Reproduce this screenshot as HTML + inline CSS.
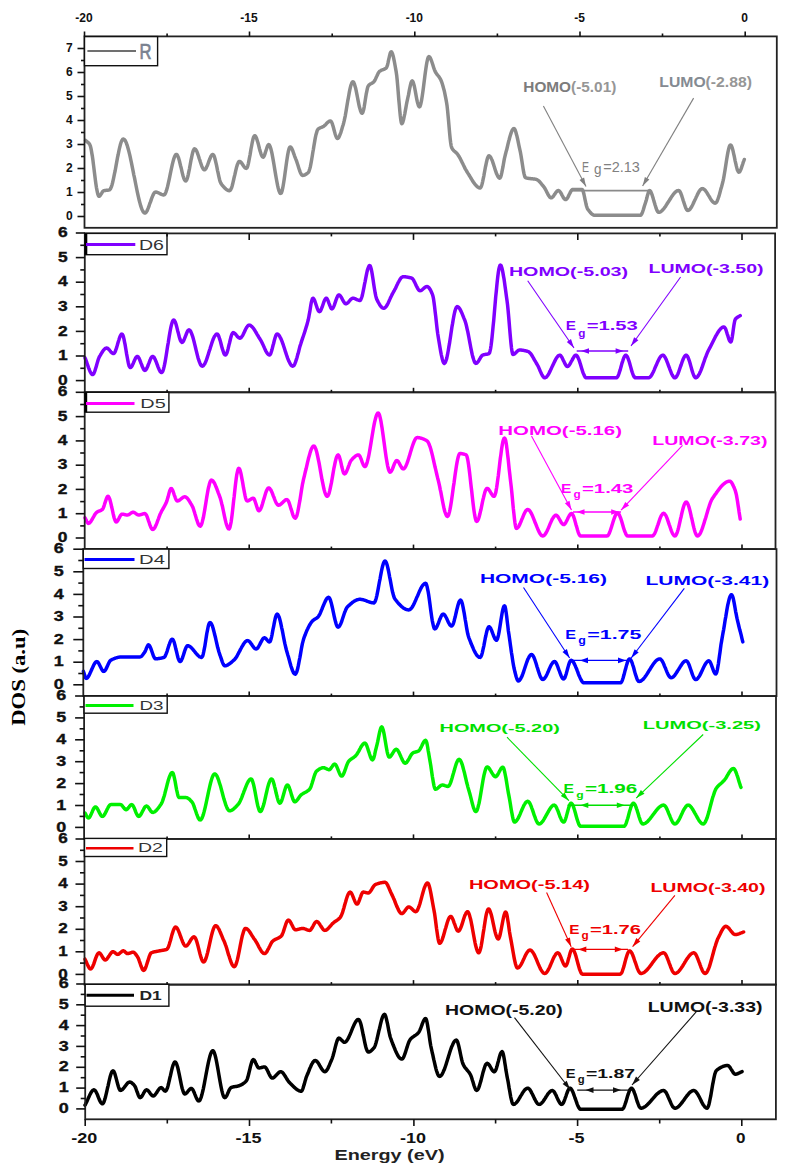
<!DOCTYPE html>
<html><head><meta charset="utf-8"><title>DOS</title>
<style>html,body{margin:0;padding:0;background:#fff;}body{width:787px;height:1170px;overflow:hidden;font-family:"Liberation Sans",sans-serif;}svg{display:block;}</style>
</head><body>
<svg width="787" height="1170" viewBox="0 0 787 1170">
<rect width="787" height="1170" fill="#fff"/>
<path d="M85.6,140.4L86.1,140.9 86.6,141.3 87.2,141.8 87.7,142.2 88.2,142.7 88.8,143.2 89.3,143.8 89.8,144.6 90.3,145.8 90.8,147.6 91.3,150.1 91.8,153.1 92.4,156.4 92.9,160.1 93.4,164.1 93.9,168.1 94.4,172.2 94.9,176.3 95.4,180.3 95.9,184.0 96.4,187.3 97.0,190.3 97.5,192.8 98.0,194.7 98.5,195.9 99.0,196.3 99.5,196.1 100.1,195.6 100.6,194.9 101.1,194.1 101.7,193.2 102.2,192.3 102.7,191.6 103.3,191.0 103.8,190.7 104.3,190.6 104.8,190.5 105.3,190.4 105.8,190.4 106.3,190.3 106.9,190.3 107.4,190.2 107.9,190.2 108.4,190.1 108.9,190.0 109.4,189.9 109.9,189.6 110.4,188.9 110.9,187.9 111.5,186.5 112.0,184.9 112.5,183.0 113.0,180.9 113.5,178.6 114.0,176.2 114.5,173.6 115.1,171.0 115.6,168.2 116.1,165.4 116.6,162.6 117.1,159.9 117.6,157.1 118.2,154.5 118.7,151.9 119.2,149.5 119.7,147.3 120.2,145.3 120.7,143.5 121.2,142.0 121.8,140.7 122.3,139.8 122.8,139.2 123.3,139.0 123.8,139.1 124.3,139.5 124.8,140.0 125.3,140.8 125.8,141.8 126.3,142.9 126.8,144.3 127.3,145.7 127.8,147.4 128.3,149.2 128.8,151.1 129.3,153.1 129.8,155.2 130.3,157.4 130.8,159.8 131.3,162.1 131.8,164.6 132.3,167.1 132.8,169.6 133.3,172.2 133.8,174.8 134.4,177.3 134.9,179.9 135.4,182.5 135.9,185.0 136.4,187.5 136.9,190.0 137.4,192.3 137.9,194.7 138.4,196.9 138.9,199.0 139.4,201.0 139.9,202.9 140.4,204.7 140.9,206.4 141.4,207.8 141.9,209.2 142.4,210.3 142.9,211.3 143.4,212.1 143.9,212.6 144.4,213.0 144.9,213.1 145.4,213.0 145.9,212.6 146.4,211.9 146.9,211.1 147.4,210.1 147.9,208.9 148.4,207.7 148.9,206.3 149.4,204.8 149.9,203.3 150.5,201.9 151.0,200.4 151.5,198.9 152.0,197.5 152.5,196.3 153.0,195.1 153.5,194.1 154.0,193.3 154.5,192.6 155.0,192.2 155.5,192.1 156.0,192.1 156.6,192.2 157.1,192.4 157.6,192.5 158.1,192.7 158.7,193.0 159.2,193.2 159.7,193.5 160.2,193.8 160.8,194.0 161.3,194.3 161.8,194.5 162.3,194.6 162.8,194.8 163.4,194.9 163.9,194.9 164.4,194.7 164.9,194.2 165.4,193.3 165.9,192.1 166.4,190.7 166.9,189.0 167.4,187.2 167.9,185.1 168.4,182.9 168.9,180.6 169.4,178.3 169.9,175.9 170.4,173.4 170.9,171.0 171.4,168.7 171.9,166.4 172.4,164.2 172.9,162.1 173.4,160.3 173.9,158.6 174.4,157.2 174.9,156.0 175.4,155.1 175.9,154.6 176.4,154.4 176.9,154.6 177.4,155.3 177.9,156.4 178.5,157.8 179.0,159.4 179.5,161.3 180.0,163.3 180.5,165.5 181.1,167.7 181.6,169.9 182.1,172.1 182.6,174.1 183.1,176.0 183.6,177.6 184.1,179.0 184.7,180.1 185.2,180.8 185.7,181.0 186.2,180.7 186.7,179.8 187.3,178.3 187.8,176.5 188.3,174.3 188.8,171.8 189.4,169.1 189.9,166.3 190.4,163.5 190.9,160.7 191.5,158.0 192.0,155.5 192.5,153.3 193.0,151.5 193.6,150.0 194.1,149.1 194.6,148.8 195.1,149.0 195.6,149.4 196.1,150.2 196.7,151.2 197.2,152.4 197.7,153.8 198.2,155.3 198.7,156.8 199.2,158.5 199.8,160.1 200.3,161.8 200.8,163.3 201.3,164.8 201.8,166.2 202.3,167.4 202.9,168.4 203.4,169.2 203.9,169.6 204.4,169.8 204.9,169.6 205.5,169.1 206.0,168.4 206.5,167.4 207.0,166.2 207.6,164.9 208.1,163.5 208.6,162.1 209.1,160.7 209.7,159.3 210.2,158.0 210.7,156.8 211.2,155.8 211.8,155.1 212.3,154.6 212.8,154.4 213.3,154.7 213.9,155.5 214.4,156.8 214.9,158.5 215.4,160.5 215.9,162.7 216.5,165.2 217.0,167.7 217.5,170.3 218.1,172.9 218.6,175.3 219.1,177.6 219.6,179.7 220.1,181.5 220.7,182.9 221.2,183.8 221.7,184.5 222.2,185.2 222.8,185.8 223.3,186.4 223.8,187.1 224.3,187.6 224.9,188.2 225.4,188.6 225.9,189.1 226.4,189.5 227.0,189.9 227.5,190.1 228.0,190.4 228.5,190.6 229.1,190.7 229.6,190.7 230.1,190.5 230.6,189.8 231.1,188.7 231.7,187.4 232.2,185.7 232.7,183.8 233.2,181.7 233.7,179.5 234.2,177.2 234.8,174.9 235.3,172.6 235.8,170.4 236.3,168.3 236.8,166.4 237.3,164.7 237.9,163.4 238.4,162.3 238.9,161.6 239.4,161.4 239.9,161.5 240.5,161.8 241.0,162.3 241.5,163.0 242.1,163.7 242.6,164.5 243.1,165.3 243.6,166.1 244.2,166.8 244.7,167.5 245.2,168.0 245.8,168.3 246.3,168.4 246.8,168.0 247.4,167.0 247.9,165.4 248.4,163.3 248.9,160.8 249.4,158.1 250.0,155.1 250.5,152.1 251.0,149.0 251.6,146.0 252.1,143.3 252.6,140.8 253.1,138.7 253.6,137.1 254.2,136.1 254.7,135.7 255.2,135.9 255.8,136.6 256.3,137.7 256.8,139.1 257.3,140.7 257.9,142.5 258.4,144.4 258.9,146.4 259.4,148.5 259.9,150.4 260.5,152.2 261.0,153.8 261.5,155.2 262.1,156.3 262.6,157.0 263.1,157.2 263.6,156.9 264.1,156.1 264.6,154.9 265.1,153.4 265.6,151.8 266.2,150.0 266.7,148.4 267.2,146.9 267.7,145.7 268.2,144.9 268.7,144.6 269.2,144.8 269.7,145.6 270.2,146.7 270.7,148.2 271.2,150.1 271.7,152.2 272.2,154.7 272.7,157.3 273.2,160.1 273.7,163.0 274.2,166.0 274.7,169.1 275.2,172.1 275.7,175.1 276.2,178.0 276.7,180.8 277.2,183.4 277.7,185.9 278.2,188.0 278.7,189.9 279.2,191.4 279.7,192.5 280.2,193.3 280.7,193.5 281.2,193.1 281.7,192.1 282.2,190.4 282.7,188.2 283.2,185.5 283.7,182.5 284.2,179.2 284.7,175.7 285.2,172.0 285.7,168.4 286.2,164.7 286.7,161.2 287.2,157.9 287.7,154.9 288.2,152.2 288.7,150.0 289.2,148.3 289.7,147.3 290.2,146.9 290.7,147.1 291.3,147.7 291.8,148.7 292.4,149.8 292.9,151.2 293.4,152.7 294.0,154.3 294.5,155.8 295.1,157.3 295.6,158.6 296.1,159.8 296.6,161.2 297.1,162.7 297.6,164.2 298.1,165.8 298.6,167.4 299.1,169.0 299.6,170.5 300.1,171.8 300.6,173.0 301.1,174.0 301.6,174.7 302.1,175.2 302.6,175.4 303.1,175.4 303.6,175.3 304.1,175.1 304.6,175.0 305.1,174.7 305.7,174.4 306.2,174.1 306.7,173.8 307.2,173.4 307.7,173.0 308.2,172.6 308.7,171.9 309.2,170.6 309.7,169.0 310.3,166.9 310.8,164.4 311.3,161.7 311.8,158.8 312.3,155.7 312.8,152.5 313.4,149.3 313.9,146.1 314.4,143.1 314.9,140.1 315.4,137.4 315.9,135.0 316.5,132.9 317.0,131.2 317.5,129.9 318.0,129.2 318.5,128.8 319.0,128.5 319.5,128.2 320.0,128.0 320.5,127.7 321.0,127.5 321.5,127.3 322.0,127.1 322.5,126.9 323.0,126.7 323.5,126.4 324.0,126.1 324.5,125.6 325.0,125.2 325.5,124.7 326.0,124.2 326.5,123.6 327.0,123.1 327.5,122.6 328.0,122.2 328.5,121.7 329.0,121.4 329.5,121.1 330.0,121.0 330.5,120.9 331.0,121.2 331.5,121.9 332.0,123.0 332.5,124.4 333.0,126.0 333.5,127.8 334.0,129.7 334.5,131.6 335.0,133.4 335.5,135.0 336.0,136.4 336.5,137.5 337.0,138.2 337.5,138.5 338.0,138.3 338.5,137.8 339.0,137.0 339.5,135.9 340.0,134.6 340.6,133.1 341.1,131.6 341.6,129.9 342.1,128.2 342.6,126.6 343.1,125.0 343.6,123.2 344.1,121.2 344.6,118.8 345.2,116.1 345.7,113.3 346.2,110.4 346.7,107.3 347.2,104.2 347.7,101.2 348.3,98.1 348.8,95.2 349.3,92.4 349.8,89.9 350.3,87.6 350.8,85.6 351.4,84.0 351.9,82.7 352.4,82.0 352.9,81.7 353.4,82.0 353.9,82.8 354.4,84.0 354.9,85.7 355.5,87.7 356.0,89.9 356.5,92.3 357.0,94.9 357.5,97.5 358.0,100.1 358.5,102.7 359.0,105.1 359.5,107.3 360.1,109.3 360.6,111.0 361.1,112.2 361.6,113.0 362.1,113.3 362.6,112.8 363.1,111.5 363.7,109.4 364.2,106.8 364.7,103.8 365.2,100.6 365.7,97.3 366.2,94.2 366.8,91.3 367.3,88.8 367.8,87.0 368.3,85.9 368.8,85.3 369.3,84.8 369.8,84.4 370.3,84.1 370.8,83.8 371.4,83.5 371.9,83.2 372.4,82.9 372.9,82.6 373.4,82.2 373.9,81.7 374.4,81.0 374.9,80.2 375.4,79.2 375.9,78.1 376.4,77.0 377.0,75.8 377.5,74.7 378.0,73.6 378.5,72.7 379.0,72.0 379.5,71.4 380.0,71.0 380.6,70.7 381.1,70.4 381.6,70.1 382.2,69.9 382.7,69.7 383.2,69.6 383.7,69.4 384.3,69.1 384.8,68.9 385.3,68.6 385.9,68.2 386.4,67.7 386.9,66.7 387.5,65.1 388.0,62.9 388.5,60.4 389.1,57.9 389.6,55.6 390.1,53.6 390.7,52.3 391.2,51.8 391.7,52.1 392.2,53.0 392.7,54.4 393.2,56.2 393.7,58.4 394.2,60.8 394.7,63.5 395.2,66.2 395.7,69.1 396.2,71.9 396.7,75.4 397.2,80.2 397.7,85.9 398.2,92.1 398.7,98.5 399.3,104.8 399.8,110.8 400.3,115.9 400.8,120.0 401.3,122.7 401.8,123.7 402.3,123.3 402.8,122.2 403.3,120.6 403.8,118.5 404.3,116.0 404.9,113.3 405.4,110.4 405.9,107.6 406.4,104.8 406.9,102.2 407.4,99.9 407.9,97.5 408.5,94.9 409.0,92.1 409.5,89.3 410.1,86.7 410.6,84.4 411.1,82.5 411.7,81.3 412.2,80.9 412.7,81.3 413.2,82.3 413.7,84.0 414.3,86.1 414.8,88.5 415.3,91.1 415.8,93.9 416.3,96.7 416.8,99.3 417.3,101.7 417.9,103.8 418.4,105.5 418.9,106.5 419.4,106.9 419.9,106.5 420.4,105.3 420.9,103.5 421.4,101.2 421.9,98.3 422.4,95.0 422.9,91.4 423.4,87.7 423.9,83.7 424.4,79.8 424.9,75.8 425.4,72.1 425.9,68.5 426.4,65.2 426.9,62.3 427.4,60.0 427.9,58.2 428.4,57.0 428.9,56.6 429.4,56.8 429.9,57.3 430.4,58.2 430.9,59.3 431.4,60.6 431.9,62.0 432.4,63.5 432.9,65.1 433.4,66.7 433.9,68.2 434.4,69.6 434.9,70.9 435.4,71.9 435.9,72.8 436.4,73.5 436.9,74.2 437.4,74.9 437.9,75.5 438.5,76.2 439.0,76.8 439.5,77.6 440.0,78.4 440.5,79.3 441.0,80.3 441.5,81.5 442.0,82.9 442.5,84.5 443.0,86.2 443.5,88.1 444.1,90.2 444.6,92.4 445.1,94.8 445.6,97.3 446.1,99.9 446.6,102.7 447.1,106.1 447.6,110.6 448.1,115.8 448.6,121.4 449.1,127.2 449.6,132.8 450.1,138.0 450.6,142.3 451.1,145.6 451.6,147.4 452.1,148.4 452.6,149.2 453.1,149.9 453.6,150.5 454.1,151.0 454.6,151.4 455.2,151.9 455.7,152.3 456.2,152.7 456.7,153.2 457.2,153.7 457.7,154.4 458.2,155.2 458.7,156.0 459.2,156.8 459.8,157.8 460.3,158.7 460.8,159.7 461.3,160.7 461.8,161.8 462.3,162.9 462.9,163.9 463.4,165.0 463.9,166.0 464.4,167.1 464.9,168.1 465.4,169.1 466.0,170.0 466.5,170.9 467.0,171.8 467.5,172.6 468.0,173.4 468.5,174.1 469.0,175.0 469.5,175.8 470.0,176.6 470.5,177.4 471.0,178.3 471.5,179.1 472.0,179.9 472.5,180.7 473.0,181.5 473.5,182.3 474.1,183.0 474.6,183.7 475.1,184.4 475.6,185.0 476.1,185.6 476.6,186.1 477.1,186.6 477.6,187.0 478.1,187.3 478.6,187.6 479.1,187.8 479.6,188.0 480.1,188.0 480.6,187.7 481.1,186.8 481.7,185.3 482.2,183.5 482.7,181.3 483.2,178.8 483.8,176.1 484.3,173.3 484.8,170.5 485.3,167.7 485.9,165.0 486.4,162.5 486.9,160.3 487.4,158.5 488.0,157.0 488.5,156.1 489.0,155.8 489.5,155.9 490.0,156.4 490.5,157.0 491.0,157.9 491.5,159.0 492.1,160.2 492.6,161.6 493.1,163.1 493.6,164.6 494.1,166.2 494.6,167.8 495.1,169.4 495.6,170.9 496.1,172.4 496.6,173.8 497.2,175.0 497.7,176.1 498.2,177.0 498.7,177.6 499.2,178.1 499.7,178.2 500.2,177.8 500.8,176.6 501.3,174.9 501.8,172.7 502.3,170.1 502.9,167.2 503.4,164.3 503.9,161.4 504.4,158.6 505.0,156.1 505.5,154.0 506.0,152.1 506.6,150.1 507.1,148.0 507.6,145.8 508.1,143.7 508.6,141.6 509.2,139.5 509.7,137.5 510.2,135.7 510.8,133.9 511.3,132.4 511.8,131.1 512.3,130.0 512.9,129.2 513.4,128.7 513.9,128.5 514.4,128.8 514.9,129.5 515.4,130.7 515.9,132.3 516.4,134.2 517.0,136.3 517.5,138.5 518.0,140.9 518.5,143.4 519.0,145.8 519.5,148.2 520.0,150.4 520.5,152.7 521.0,155.5 521.5,158.6 522.0,161.8 522.5,165.1 523.0,168.2 523.5,171.1 524.0,173.7 524.5,175.7 525.0,177.1 525.5,177.7 526.0,177.9 526.5,178.0 527.0,178.1 527.5,178.2 528.0,178.3 528.5,178.4 529.0,178.5 529.5,178.5 530.0,178.6 530.5,178.6 531.0,178.7 531.5,178.7 532.0,178.8 532.5,178.8 533.0,178.9 533.5,178.9 534.0,179.0 534.5,179.1 535.0,179.1 535.5,179.2 536.0,179.4 536.5,179.5 537.0,179.7 537.5,180.0 538.1,180.3 538.6,180.8 539.1,181.2 539.6,181.8 540.1,182.3 540.7,182.9 541.2,183.6 541.7,184.2 542.2,184.9 542.8,185.5 543.3,186.2 543.8,186.8 544.3,187.5 544.8,188.3 545.4,189.3 545.9,190.3 546.4,191.3 546.9,192.4 547.5,193.4 548.0,194.4 548.5,195.3 549.0,196.1 549.5,196.8 550.1,197.3 550.6,197.7 551.1,197.8 551.6,197.7 552.1,197.4 552.7,196.9 553.2,196.4 553.7,195.7 554.2,194.9 554.8,194.2 555.3,193.4 555.8,192.6 556.3,191.9 556.8,191.4 557.4,190.9 557.9,190.6 558.4,190.5 558.9,190.6 559.4,191.0 559.9,191.6 560.5,192.3 561.0,193.2 561.5,194.1 562.0,195.1 562.5,196.0 563.0,196.9 563.5,197.8 564.1,198.5 564.6,199.1 565.1,199.5 565.6,199.6 566.1,199.5 566.6,199.0 567.2,198.4 567.7,197.6 568.2,196.6 568.7,195.6 569.2,194.5 569.8,193.4 570.3,192.4 570.8,191.4 571.3,190.6 571.9,190.0 572.4,189.5 572.9,189.4 573.4,189.4 573.9,189.4 574.4,189.4 574.9,189.4 575.4,189.4 575.9,189.4 576.4,189.4 576.9,189.4 577.5,189.4 578.0,189.4 578.5,189.4 579.0,189.4 579.5,189.4 580.0,189.4 580.5,189.4 581.0,189.4 581.5,189.4 582.0,189.4 582.5,189.8 583.0,190.9 583.5,192.5 584.0,194.5 584.5,196.8 585.0,199.3 585.5,201.7 586.0,204.0 586.5,206.0 587.0,207.6 587.5,208.7 588.0,209.5 588.5,210.2 589.1,210.9 589.6,211.6 590.1,212.2 590.6,212.8 591.1,213.3 591.7,213.8 592.2,214.3 592.7,214.6 593.2,214.9 593.8,215.1 594.3,215.3 594.8,215.3 595.3,215.3 595.8,215.3 596.3,215.3 596.8,215.3 597.3,215.3 597.8,215.3 598.3,215.3 598.8,215.3 599.3,215.3 599.8,215.3 600.3,215.3 600.8,215.3 601.3,215.3 601.8,215.3 602.3,215.3 602.8,215.3 603.3,215.3 603.8,215.3 604.3,215.3 604.8,215.3 605.3,215.3 605.8,215.3 606.3,215.3 606.8,215.3 607.3,215.3 607.8,215.3 608.3,215.3 608.8,215.3 609.3,215.3 609.8,215.3 610.3,215.3 610.8,215.3 611.3,215.3 611.8,215.3 612.3,215.3 612.8,215.3 613.3,215.3 613.8,215.3 614.3,215.3 614.8,215.3 615.3,215.3 615.8,215.3 616.3,215.3 616.8,215.3 617.3,215.3 617.9,215.3 618.4,215.3 618.9,215.3 619.4,215.3 619.9,215.3 620.4,215.3 620.9,215.3 621.4,215.3 621.9,215.3 622.4,215.3 622.9,215.3 623.4,215.3 623.9,215.3 624.4,215.3 624.9,215.3 625.4,215.3 625.9,215.3 626.4,215.3 626.9,215.3 627.4,215.3 627.9,215.3 628.4,215.3 628.9,215.3 629.4,215.3 629.9,215.3 630.4,215.3 630.9,215.3 631.4,215.3 631.9,215.3 632.4,215.3 632.9,215.3 633.4,215.3 633.9,215.3 634.4,215.3 634.9,215.3 635.4,215.3 635.9,215.3 636.4,215.3 636.9,215.3 637.4,215.3 637.9,215.3 638.4,215.3 638.9,215.3 639.4,215.3 639.9,215.3 640.4,215.3 640.9,215.1 641.4,214.5 641.9,213.6 642.4,212.4 642.9,211.0 643.4,209.5 643.9,207.8 644.4,206.1 644.9,204.5 645.4,202.9 645.9,201.4 646.4,199.7 646.9,197.8 647.4,195.7 648.0,193.7 648.5,192.1 649.0,190.9 649.5,190.5 650.0,190.7 650.5,191.2 651.0,192.1 651.5,193.3 652.0,194.6 652.5,196.2 653.0,197.8 653.5,199.6 654.0,201.4 654.6,203.2 655.1,205.0 655.6,206.6 656.1,208.2 656.6,209.5 657.1,210.7 657.6,211.6 658.1,212.1 658.6,212.3 659.1,212.3 659.6,212.1 660.1,212.0 660.6,211.7 661.1,211.4 661.6,211.0 662.1,210.5 662.6,210.0 663.1,209.5 663.6,208.9 664.1,208.3 664.6,207.6 665.1,206.9 665.6,206.2 666.1,205.4 666.6,204.6 667.1,203.8 667.6,203.0 668.1,202.2 668.7,201.4 669.2,200.6 669.7,199.8 670.2,199.0 670.7,198.2 671.2,197.4 671.7,196.6 672.2,195.9 672.7,195.2 673.2,194.5 673.7,193.9 674.2,193.3 674.7,192.8 675.2,192.3 675.7,191.8 676.2,191.4 676.7,191.1 677.2,190.8 677.7,190.7 678.2,190.5 678.7,190.5 679.2,190.7 679.7,191.2 680.2,192.0 680.7,193.0 681.2,194.3 681.7,195.7 682.2,197.2 682.7,198.8 683.2,200.5 683.8,202.2 684.3,203.8 684.8,205.3 685.3,206.7 685.8,208.0 686.3,209.0 686.8,209.8 687.3,210.3 687.8,210.5 688.3,210.4 688.8,210.2 689.3,209.8 689.8,209.4 690.3,208.8 690.8,208.1 691.3,207.3 691.8,206.4 692.3,205.5 692.8,204.5 693.3,203.4 693.8,202.4 694.3,201.2 694.8,200.1 695.4,199.0 695.9,197.9 696.4,196.7 696.9,195.7 697.4,194.6 697.9,193.6 698.4,192.7 698.9,191.8 699.4,191.0 699.9,190.3 700.4,189.7 700.9,189.3 701.4,188.9 701.9,188.7 702.4,188.6 702.9,188.7 703.4,188.9 703.9,189.2 704.4,189.6 705.0,190.1 705.5,190.7 706.0,191.4 706.5,192.1 707.0,192.9 707.5,193.7 708.0,194.6 708.5,195.5 709.1,196.3 709.6,197.2 710.1,198.1 710.6,198.9 711.1,199.7 711.6,200.4 712.1,201.1 712.6,201.7 713.2,202.2 713.7,202.6 714.2,202.9 714.7,203.1 715.2,203.2 715.7,203.0 716.2,202.5 716.8,201.8 717.3,200.7 717.8,199.4 718.3,198.0 718.9,196.4 719.4,194.6 719.9,192.8 720.4,190.9 720.9,188.9 721.5,187.0 722.0,185.1 722.5,183.2 723.0,181.2 723.5,178.9 724.0,176.2 724.5,173.3 725.0,170.2 725.5,167.0 726.0,163.8 726.5,160.6 727.0,157.5 727.5,154.6 728.0,151.9 728.5,149.6 729.0,147.6 729.5,146.2 730.0,145.2 730.5,144.9 731.0,145.2 731.5,146.1 732.1,147.4 732.6,149.2 733.1,151.2 733.6,153.5 734.2,156.0 734.7,158.6 735.2,161.1 735.8,163.6 736.3,165.9 736.8,167.9 737.3,169.7 737.9,171.0 738.4,171.9 738.9,172.2 739.4,172.0 740.0,171.3 740.5,170.3 741.1,168.9 741.6,167.4 742.1,165.8 742.7,164.1 743.2,162.4 743.8,160.9 744.3,159.5" fill="none" stroke="#8c8c8c" stroke-width="3.5" stroke-linejoin="round" stroke-linecap="round"/>
<path d="M85.0,357.8L85.5,359.0 86.0,360.3 86.5,361.7 87.0,363.2 87.5,364.6 88.0,366.1 88.5,367.6 89.1,369.0 89.6,370.3 90.1,371.5 90.6,372.5 91.1,373.4 91.6,374.0 92.1,374.5 92.6,374.6 93.1,374.4 93.6,373.8 94.1,372.9 94.6,371.7 95.1,370.2 95.6,368.6 96.1,366.9 96.6,365.2 97.1,363.4 97.6,361.7 98.1,360.1 98.6,358.6 99.1,357.4 99.6,356.4 100.1,355.6 100.6,354.7 101.1,353.9 101.6,353.1 102.1,352.3 102.6,351.5 103.1,350.8 103.6,350.1 104.1,349.5 104.6,349.0 105.1,348.6 105.6,348.3 106.1,348.1 106.6,348.0 107.1,348.1 107.7,348.4 108.2,348.8 108.7,349.3 109.3,349.8 109.8,350.5 110.3,351.1 110.8,351.8 111.4,352.3 111.9,352.8 112.4,353.2 113.0,353.5 113.5,353.6 114.0,353.4 114.5,352.8 115.1,351.8 115.6,350.5 116.1,349.1 116.7,347.4 117.2,345.6 117.7,343.8 118.2,342.0 118.8,340.2 119.3,338.5 119.8,337.1 120.3,335.8 120.9,334.8 121.4,334.2 121.9,334.0 122.4,334.4 123.0,335.4 123.5,337.1 124.0,339.2 124.5,341.8 125.1,344.6 125.6,347.7 126.1,350.8 126.6,353.9 127.2,357.0 127.7,359.8 128.2,362.4 128.7,364.5 129.2,366.2 129.8,367.2 130.3,367.6 130.8,367.4 131.3,367.0 131.8,366.3 132.3,365.4 132.8,364.3 133.3,363.2 133.8,362.0 134.3,360.8 134.8,359.7 135.3,358.6 135.8,357.7 136.3,357.0 136.8,356.6 137.3,356.4 137.8,356.6 138.3,357.1 138.8,357.9 139.3,358.9 139.8,360.0 140.3,361.3 140.8,362.7 141.4,364.1 141.9,365.5 142.4,366.8 142.9,367.9 143.4,368.9 143.9,369.7 144.4,370.2 144.9,370.4 145.4,370.2 145.9,369.7 146.5,368.9 147.0,367.9 147.5,366.8 148.0,365.5 148.5,364.1 149.1,362.7 149.6,361.3 150.1,360.0 150.6,358.9 151.1,357.9 151.7,357.1 152.2,356.6 152.7,356.4 153.2,356.6 153.7,357.0 154.3,357.7 154.8,358.7 155.3,359.8 155.8,361.0 156.4,362.4 156.9,363.8 157.4,365.2 157.9,366.6 158.5,368.0 159.0,369.2 159.5,370.3 160.0,371.3 160.6,372.0 161.1,372.4 161.6,372.6 162.1,372.3 162.6,371.6 163.1,370.3 163.6,368.7 164.1,366.7 164.6,364.4 165.1,361.8 165.6,359.0 166.1,356.0 166.6,352.8 167.1,349.6 167.6,346.3 168.2,343.0 168.7,339.8 169.2,336.6 169.7,333.6 170.2,330.8 170.7,328.2 171.2,325.9 171.7,323.9 172.2,322.3 172.7,321.0 173.2,320.3 173.7,320.0 174.2,320.3 174.7,321.0 175.3,322.1 175.8,323.5 176.3,325.2 176.8,327.1 177.3,329.1 177.8,331.2 178.4,333.3 178.9,335.3 179.4,337.2 179.9,338.9 180.4,340.3 181.0,341.4 181.5,342.1 182.0,342.4 182.5,342.2 183.0,341.7 183.5,340.9 184.0,339.9 184.5,338.7 185.0,337.4 185.5,336.1 186.0,334.8 186.5,333.5 187.0,332.3 187.5,331.3 188.0,330.5 188.5,330.0 189.0,329.8 189.5,330.0 190.0,330.4 190.5,331.1 191.0,332.1 191.5,333.3 192.0,334.7 192.6,336.3 193.1,338.0 193.6,339.9 194.1,341.8 194.6,343.8 195.1,345.9 195.6,348.0 196.1,350.1 196.6,352.2 197.1,354.2 197.6,356.1 198.1,358.0 198.6,359.7 199.2,361.3 199.7,362.7 200.2,363.9 200.7,364.9 201.2,365.6 201.7,366.0 202.2,366.2 202.7,366.1 203.2,365.8 203.7,365.2 204.2,364.5 204.8,363.7 205.3,362.6 205.8,361.5 206.3,360.2 206.8,358.8 207.3,357.4 207.8,355.8 208.3,354.2 208.8,352.6 209.3,350.9 209.9,349.3 210.4,347.6 210.9,346.0 211.4,344.4 211.9,342.8 212.4,341.4 212.9,340.0 213.4,338.7 213.9,337.6 214.4,336.5 215.0,335.7 215.5,335.0 216.0,334.4 216.5,334.1 217.0,334.0 217.5,334.2 218.1,334.9 218.6,335.9 219.1,337.3 219.6,338.9 220.2,340.6 220.7,342.5 221.2,344.5 221.7,346.5 222.2,348.4 222.8,350.1 223.3,351.7 223.8,353.1 224.3,354.1 224.9,354.8 225.4,355.0 225.9,354.7 226.4,353.9 227.0,352.7 227.5,351.1 228.0,349.2 228.5,347.1 229.0,344.9 229.6,342.7 230.1,340.5 230.6,338.4 231.1,336.5 231.6,334.9 232.2,333.7 232.7,332.9 233.2,332.6 233.7,332.7 234.2,333.0 234.7,333.4 235.3,333.9 235.8,334.4 236.3,335.1 236.8,335.7 237.3,336.4 237.8,336.9 238.4,337.4 238.9,337.8 239.4,338.1 239.9,338.2 240.4,338.1 240.9,337.8 241.4,337.2 241.9,336.5 242.5,335.7 243.0,334.8 243.5,333.8 244.0,332.7 244.5,331.6 245.0,330.6 245.5,329.5 246.0,328.5 246.5,327.6 247.1,326.8 247.6,326.1 248.1,325.5 248.6,325.2 249.1,325.1 249.6,325.2 250.1,325.3 250.6,325.6 251.1,325.9 251.6,326.4 252.2,326.9 252.7,327.4 253.2,328.1 253.7,328.8 254.2,329.5 254.7,330.3 255.2,331.1 255.7,332.0 256.2,332.8 256.7,333.7 257.2,334.6 257.8,335.5 258.3,336.3 258.8,337.2 259.3,338.0 259.8,338.8 260.3,339.6 260.8,340.4 261.3,341.3 261.8,342.3 262.3,343.4 262.9,344.5 263.4,345.6 263.9,346.7 264.4,347.9 264.9,349.0 265.4,350.1 265.9,351.1 266.4,352.0 266.9,352.8 267.5,353.6 268.0,354.2 268.5,354.6 269.0,354.9 269.5,355.0 270.0,354.7 270.5,354.0 271.0,352.8 271.5,351.3 272.0,349.6 272.5,347.6 273.0,345.5 273.6,343.5 274.1,341.4 274.6,339.4 275.1,337.7 275.6,336.2 276.1,335.0 276.6,334.3 277.1,334.0 277.6,334.1 278.1,334.4 278.6,334.8 279.1,335.5 279.6,336.2 280.1,337.2 280.6,338.2 281.2,339.3 281.7,340.6 282.2,341.9 282.7,343.3 283.2,344.7 283.7,346.2 284.2,347.8 284.7,349.3 285.2,350.9 285.7,352.4 286.2,354.0 286.7,355.5 287.2,356.9 287.7,358.3 288.2,359.6 288.7,360.9 289.3,362.0 289.8,363.0 290.3,364.0 290.8,364.7 291.3,365.4 291.8,365.8 292.3,366.1 292.8,366.2 293.3,366.0 293.9,365.5 294.4,364.7 294.9,363.7 295.4,362.4 295.9,360.9 296.5,359.2 297.0,357.5 297.5,355.6 298.1,353.6 298.6,351.7 299.1,349.7 299.6,347.7 300.1,345.8 300.7,344.1 301.2,342.4 301.7,340.9 302.2,339.4 302.7,337.9 303.2,336.5 303.7,335.0 304.2,333.5 304.7,331.9 305.2,330.4 305.7,328.8 306.2,327.1 306.7,325.4 307.2,323.7 307.7,321.9 308.2,320.0 308.7,317.7 309.2,314.8 309.8,311.7 310.3,308.4 310.8,305.3 311.3,302.5 311.9,300.3 312.4,298.7 312.9,298.2 313.4,298.4 313.9,299.1 314.4,300.0 314.9,301.2 315.4,302.7 315.9,304.2 316.4,305.7 316.9,307.2 317.4,308.7 317.9,309.9 318.4,310.8 318.9,311.5 319.4,311.7 319.9,311.5 320.5,310.8 321.0,309.9 321.5,308.7 322.1,307.2 322.6,305.7 323.1,304.2 323.6,302.7 324.2,301.2 324.7,300.0 325.2,299.1 325.8,298.4 326.3,298.2 326.8,298.4 327.3,299.1 327.8,300.2 328.3,301.4 328.8,302.8 329.4,304.3 329.9,305.7 330.4,306.9 330.9,308.0 331.4,308.7 331.9,308.9 332.4,308.7 332.9,308.1 333.4,307.2 333.9,306.1 334.4,304.8 334.9,303.4 335.4,301.9 335.9,300.4 336.4,299.0 336.9,297.7 337.4,296.6 337.9,295.7 338.4,295.1 338.9,294.9 339.4,295.0 339.9,295.4 340.4,296.0 340.9,296.7 341.4,297.5 341.9,298.4 342.4,299.4 342.9,300.3 343.4,301.2 343.9,302.0 344.4,302.7 344.9,303.3 345.4,303.7 345.9,303.8 346.4,303.7 346.9,303.5 347.4,303.1 347.9,302.7 348.4,302.2 348.9,301.6 349.4,301.0 349.9,300.4 350.4,299.8 350.9,299.3 351.4,298.9 351.9,298.5 352.4,298.3 352.9,298.2 353.4,298.2 353.9,298.3 354.4,298.5 354.9,298.7 355.4,298.9 355.9,299.1 356.4,299.4 356.9,299.6 357.4,299.8 357.9,300.0 358.4,300.2 358.9,300.4 359.4,300.5 359.9,300.5 360.4,300.2 360.9,299.4 361.4,298.2 362.0,296.5 362.5,294.5 363.0,292.2 363.5,289.7 364.0,287.1 364.5,284.4 365.1,281.6 365.6,278.9 366.1,276.3 366.6,273.8 367.1,271.5 367.6,269.5 368.2,267.8 368.7,266.6 369.2,265.8 369.7,265.5 370.2,265.9 370.7,267.1 371.2,268.9 371.7,271.3 372.2,274.1 372.7,277.2 373.2,280.5 373.7,283.9 374.2,287.2 374.7,290.3 375.2,293.2 375.7,295.7 376.2,297.7 376.7,299.1 377.2,300.1 377.7,301.1 378.2,302.1 378.7,303.0 379.2,303.9 379.7,304.7 380.2,305.5 380.7,306.2 381.2,306.8 381.7,307.3 382.2,307.7 382.7,308.0 383.2,308.2 383.7,308.3 384.2,308.2 384.7,308.0 385.2,307.5 385.7,307.0 386.3,306.3 386.8,305.5 387.3,304.7 387.8,303.7 388.3,302.7 388.8,301.6 389.3,300.5 389.8,299.4 390.3,298.2 390.8,297.1 391.4,296.0 391.9,294.9 392.4,293.9 392.9,293.0 393.4,292.1 393.9,291.2 394.4,290.3 394.9,289.3 395.5,288.3 396.0,287.2 396.5,286.1 397.0,285.0 397.5,284.0 398.0,282.9 398.6,281.9 399.1,281.0 399.6,280.1 400.1,279.3 400.6,278.5 401.1,277.9 401.7,277.4 402.2,277.0 402.7,276.8 403.2,276.7 403.7,276.7 404.2,276.7 404.8,276.8 405.3,276.8 405.8,276.9 406.4,276.9 406.9,277.0 407.4,277.1 407.9,277.2 408.4,277.3 409.0,277.4 409.5,277.5 410.0,277.7 410.6,277.8 411.1,277.9 411.6,278.1 412.1,278.4 412.7,278.9 413.2,279.6 413.7,280.4 414.2,281.4 414.8,282.5 415.3,283.6 415.8,284.7 416.3,285.8 416.9,286.9 417.4,287.9 417.9,288.8 418.4,289.6 418.9,290.2 419.5,290.6 420.0,290.7 420.5,290.6 421.0,290.5 421.5,290.2 422.0,289.9 422.5,289.5 423.0,289.0 423.5,288.6 424.0,288.2 424.5,287.7 425.0,287.3 425.5,287.0 426.0,286.7 426.5,286.6 427.0,286.5 427.5,286.6 428.0,286.9 428.5,287.3 429.0,287.8 429.5,288.6 430.1,289.4 430.6,290.3 431.1,291.3 431.6,292.5 432.1,293.7 432.6,294.9 433.1,296.7 433.6,299.4 434.1,302.9 434.6,306.9 435.1,311.4 435.7,316.1 436.2,320.8 436.7,325.4 437.2,329.8 437.7,333.6 438.2,336.8 438.7,339.7 439.2,342.7 439.7,345.7 440.2,348.7 440.7,351.6 441.2,354.3 441.8,356.8 442.3,359.0 442.8,360.8 443.3,362.2 443.8,363.1 444.3,363.4 444.8,363.1 445.3,362.4 445.8,361.1 446.4,359.5 446.9,357.5 447.4,355.2 447.9,352.5 448.4,349.7 448.9,346.6 449.5,343.4 450.0,340.1 450.5,336.7 451.0,333.3 451.5,329.9 452.0,326.6 452.6,323.4 453.1,320.3 453.6,317.5 454.1,314.8 454.6,312.5 455.1,310.5 455.7,308.9 456.2,307.6 456.7,306.9 457.2,306.6 457.7,306.7 458.2,307.0 458.7,307.4 459.2,308.0 459.7,308.7 460.2,309.6 460.7,310.6 461.2,311.6 461.7,312.7 462.2,313.9 462.7,315.1 463.2,316.3 463.7,317.6 464.2,318.8 464.7,320.0 465.2,321.4 465.7,323.0 466.2,324.9 466.7,327.0 467.2,329.3 467.8,331.8 468.3,334.3 468.8,337.0 469.3,339.7 469.8,342.4 470.3,345.0 470.8,347.7 471.3,350.2 471.8,352.6 472.3,354.9 472.8,356.9 473.4,358.8 473.9,360.3 474.4,361.6 474.9,362.6 475.4,363.2 475.9,363.4 476.4,363.3 476.9,363.0 477.4,362.5 477.9,361.9 478.4,361.2 478.9,360.4 479.4,359.5 479.9,358.7 480.4,357.8 480.9,357.1 481.4,356.3 481.9,355.7 482.4,355.3 482.9,355.0 483.4,354.8 483.9,354.7 484.4,354.6 484.9,354.5 485.4,354.4 485.9,354.3 486.5,354.2 487.0,354.2 487.5,354.1 488.0,353.9 488.5,353.8 489.0,353.6 489.5,352.9 490.0,351.2 490.6,348.6 491.1,345.3 491.6,341.3 492.1,336.8 492.6,331.7 493.1,326.3 493.7,320.6 494.2,314.7 494.7,308.7 495.2,302.8 495.7,296.9 496.3,291.2 496.8,285.9 497.3,280.9 497.8,276.5 498.3,272.6 498.8,269.4 499.4,267.0 499.9,265.5 500.4,265.0 500.9,265.4 501.4,266.4 501.9,268.0 502.4,270.1 502.9,272.7 503.4,275.6 504.0,278.8 504.5,282.3 505.0,285.9 505.5,289.6 506.0,293.3 506.5,297.0 507.0,300.5 507.5,304.4 508.0,309.2 508.5,314.6 509.0,320.5 509.5,326.6 510.0,332.6 510.5,338.3 511.0,343.5 511.5,348.0 512.0,351.4 512.5,353.7 513.0,354.5 513.5,354.4 514.0,354.2 514.5,353.9 515.0,353.5 515.5,353.0 516.0,352.5 516.5,352.0 517.0,351.5 517.5,351.0 518.0,350.6 518.5,350.3 519.0,350.1 519.5,350.0 520.0,350.0 520.5,350.0 521.0,350.1 521.5,350.1 522.0,350.2 522.5,350.2 523.0,350.3 523.5,350.4 524.0,350.5 524.5,350.6 525.0,350.7 525.5,350.8 526.0,350.9 526.5,351.1 527.0,351.2 527.5,351.3 528.0,351.5 528.5,351.7 529.0,352.0 529.5,352.5 530.0,353.0 530.6,353.6 531.1,354.2 531.6,355.0 532.1,355.8 532.6,356.6 533.1,357.5 533.6,358.4 534.1,359.3 534.6,360.2 535.2,361.1 535.7,362.0 536.2,362.9 536.7,363.8 537.2,364.6 537.7,365.5 538.2,366.4 538.7,367.5 539.2,368.6 539.7,369.8 540.2,371.0 540.7,372.1 541.2,373.2 541.7,374.3 542.2,375.3 542.7,376.1 543.2,376.8 543.7,377.3 544.2,377.7 544.7,377.8 545.2,377.7 545.7,377.5 546.2,377.2 546.7,376.7 547.2,376.1 547.7,375.4 548.2,374.7 548.7,373.8 549.2,372.9 549.7,371.9 550.2,370.9 550.7,369.8 551.2,368.7 551.7,367.6 552.2,366.5 552.8,365.4 553.3,364.3 553.8,363.2 554.3,362.1 554.8,361.1 555.3,360.1 555.8,359.2 556.3,358.3 556.8,357.6 557.3,356.9 557.8,356.3 558.3,355.8 558.8,355.5 559.3,355.3 559.8,355.2 560.3,355.3 560.8,355.7 561.3,356.4 561.8,357.2 562.3,358.1 562.8,359.2 563.3,360.3 563.9,361.4 564.4,362.5 564.9,363.6 565.4,364.5 565.9,365.3 566.4,366.0 566.9,366.4 567.4,366.5 567.9,366.4 568.4,366.1 568.9,365.6 569.4,364.9 569.9,364.1 570.4,363.3 570.9,362.3 571.4,361.3 572.0,360.4 572.5,359.4 573.0,358.4 573.5,357.6 574.0,356.8 574.5,356.1 575.0,355.6 575.5,355.3 576.0,355.2 576.5,355.4 577.0,355.8 577.5,356.6 578.0,357.6 578.5,358.7 579.1,360.1 579.6,361.6 580.1,363.2 580.6,364.8 581.1,366.5 581.6,368.2 582.1,369.8 582.6,371.4 583.1,372.9 583.7,374.3 584.2,375.4 584.7,376.4 585.2,377.2 585.7,377.6 586.2,377.8 586.7,377.8 587.2,377.8 587.7,377.8 588.2,377.8 588.7,377.8 589.2,377.8 589.7,377.8 590.2,377.8 590.7,377.8 591.2,377.8 591.7,377.8 592.2,377.8 592.7,377.8 593.2,377.8 593.8,377.8 594.3,377.8 594.8,377.8 595.3,377.8 595.8,377.8 596.3,377.8 596.8,377.8 597.3,377.8 597.8,377.8 598.3,377.8 598.8,377.8 599.3,377.8 599.8,377.8 600.3,377.8 600.8,377.8 601.3,377.8 601.8,377.8 602.3,377.8 602.8,377.8 603.3,377.8 603.8,377.8 604.3,377.8 604.8,377.8 605.3,377.8 605.8,377.8 606.3,377.8 606.8,377.8 607.3,377.8 607.8,377.8 608.3,377.8 608.9,377.8 609.4,377.8 609.9,377.8 610.4,377.8 610.9,377.8 611.4,377.8 611.9,377.8 612.4,377.8 612.9,377.8 613.4,377.8 613.9,377.8 614.4,377.8 614.9,377.8 615.4,377.8 615.9,377.8 616.4,377.8 616.9,377.6 617.4,377.0 618.0,376.1 618.5,374.9 619.0,373.5 619.5,371.9 620.1,370.2 620.6,368.4 621.1,366.5 621.6,364.6 622.1,362.8 622.7,361.1 623.2,359.5 623.7,358.1 624.2,356.9 624.8,356.0 625.3,355.4 625.8,355.2 626.3,355.4 626.8,355.9 627.3,356.7 627.8,357.8 628.3,359.1 628.8,360.5 629.3,362.1 629.8,363.8 630.3,365.6 630.8,367.4 631.3,369.2 631.8,370.9 632.3,372.5 632.8,373.9 633.3,375.2 633.8,376.3 634.3,377.1 634.8,377.6 635.3,377.8 635.8,377.8 636.3,377.8 636.8,377.8 637.3,377.8 637.8,377.8 638.3,377.8 638.9,377.8 639.4,377.8 639.9,377.8 640.4,377.8 640.9,377.8 641.4,377.8 641.9,377.8 642.4,377.8 642.9,377.8 643.4,377.8 643.9,377.8 644.4,377.8 644.9,377.8 645.5,377.8 646.0,377.8 646.5,377.8 647.0,377.8 647.5,377.8 648.0,377.8 648.5,377.8 649.0,377.7 649.5,377.5 650.0,377.1 650.5,376.5 651.1,375.9 651.6,375.1 652.1,374.3 652.6,373.3 653.1,372.3 653.6,371.2 654.1,370.1 654.6,368.9 655.1,367.7 655.6,366.5 656.2,365.3 656.7,364.1 657.2,362.9 657.7,361.8 658.2,360.7 658.7,359.7 659.2,358.7 659.7,357.9 660.2,357.1 660.8,356.5 661.3,355.9 661.8,355.5 662.3,355.3 662.8,355.2 663.3,355.3 663.8,355.6 664.3,356.2 664.8,356.9 665.3,357.7 665.8,358.7 666.3,359.8 666.8,361.1 667.3,362.4 667.8,363.7 668.3,365.1 668.8,366.5 669.4,367.9 669.9,369.3 670.4,370.6 670.9,371.9 671.4,373.2 671.9,374.3 672.4,375.3 672.9,376.1 673.4,376.8 673.9,377.4 674.4,377.7 674.9,377.8 675.4,377.7 675.9,377.3 676.4,376.7 677.0,375.8 677.5,374.8 678.0,373.7 678.5,372.4 679.0,371.0 679.5,369.5 680.0,368.0 680.5,366.5 681.1,365.0 681.6,363.5 682.1,362.0 682.6,360.6 683.1,359.3 683.6,358.2 684.1,357.2 684.7,356.3 685.2,355.7 685.7,355.3 686.2,355.2 686.7,355.4 687.2,355.9 687.7,356.7 688.2,357.8 688.7,359.1 689.2,360.5 689.7,362.1 690.2,363.8 690.7,365.6 691.2,367.4 691.7,369.2 692.2,370.9 692.7,372.5 693.2,373.9 693.7,375.2 694.2,376.3 694.7,377.1 695.2,377.6 695.7,377.8 696.2,377.7 696.7,377.5 697.2,377.0 697.7,376.5 698.2,375.8 698.7,374.9 699.3,374.0 699.8,372.9 700.3,371.8 700.8,370.6 701.3,369.3 701.8,368.0 702.3,366.6 702.8,365.1 703.3,363.7 703.8,362.2 704.3,360.8 704.8,359.3 705.3,357.9 705.9,356.5 706.4,355.2 706.9,353.9 707.4,352.7 707.9,351.5 708.4,350.5 708.9,349.5 709.4,348.6 709.9,347.7 710.4,346.7 710.9,345.7 711.4,344.7 711.9,343.7 712.4,342.7 712.9,341.7 713.4,340.7 713.9,339.7 714.4,338.7 714.9,337.7 715.4,336.7 715.9,335.8 716.5,334.9 717.0,334.0 717.5,333.1 718.0,332.3 718.5,331.5 719.0,330.8 719.5,330.1 720.0,329.5 720.5,328.9 721.0,328.4 721.5,328.0 722.0,327.6 722.5,327.3 723.0,327.1 723.5,326.9 724.0,326.9 724.5,327.2 725.0,327.9 725.6,328.9 726.1,330.3 726.6,331.9 727.1,333.6 727.7,335.3 728.2,337.0 728.7,338.6 729.2,340.0 729.8,341.0 730.3,341.7 730.8,342.0 731.3,341.3 731.8,339.4 732.3,336.6 732.8,333.2 733.3,329.6 733.8,326.1 734.3,323.0 734.8,320.6 735.3,319.3 735.8,318.6 736.4,318.1 736.9,317.7 737.5,317.3 738.0,316.9 738.6,316.6 739.1,316.3 739.7,316.0 740.2,315.6" fill="none" stroke="#8000ff" stroke-width="3.5" stroke-linejoin="round" stroke-linecap="round"/>
<path d="M85.0,517.8L85.6,518.9 86.1,520.1 86.7,521.3 87.3,522.4 87.8,523.1 88.4,523.4 88.9,523.3 89.5,523.0 90.0,522.5 90.5,521.9 91.0,521.2 91.5,520.4 92.1,519.5 92.6,518.5 93.1,517.6 93.7,516.6 94.2,515.7 94.7,514.8 95.2,514.0 95.8,513.2 96.3,512.7 96.8,512.2 97.3,511.9 97.8,511.6 98.3,511.4 98.8,511.2 99.3,511.0 99.9,510.8 100.4,510.6 100.9,510.4 101.4,510.1 101.9,509.8 102.4,509.4 102.9,508.7 103.4,507.7 103.9,506.3 104.4,504.8 104.9,503.1 105.5,501.4 106.0,499.8 106.5,498.4 107.0,497.3 107.5,496.6 108.0,496.3 108.5,496.6 109.0,497.4 109.6,498.7 110.1,500.3 110.6,502.3 111.1,504.4 111.6,506.8 112.2,509.1 112.7,511.5 113.2,513.9 113.7,516.0 114.2,518.0 114.7,519.6 115.3,520.9 115.8,521.7 116.3,522.0 116.8,521.8 117.3,521.3 117.8,520.6 118.3,519.7 118.8,518.6 119.4,517.6 119.9,516.5 120.4,515.6 120.9,514.9 121.4,514.4 121.9,514.2 122.4,514.2 122.9,514.3 123.4,514.3 123.9,514.4 124.4,514.5 125.0,514.7 125.5,514.8 126.0,514.9 126.5,514.9 127.0,515.0 127.5,515.0 128.0,514.9 128.5,514.8 129.0,514.5 129.5,514.2 130.0,513.8 130.6,513.4 131.1,513.0 131.6,512.7 132.1,512.4 132.6,512.3 133.1,512.2 133.6,512.3 134.1,512.4 134.6,512.7 135.1,513.0 135.6,513.4 136.2,513.8 136.7,514.2 137.2,514.5 137.7,514.8 138.2,514.9 138.7,515.0 139.2,515.0 139.7,514.9 140.2,514.8 140.8,514.6 141.3,514.5 141.8,514.3 142.3,514.1 142.8,514.0 143.3,513.8 143.9,513.7 144.4,513.6 144.9,513.6 145.4,513.8 145.9,514.4 146.5,515.3 147.0,516.4 147.5,517.7 148.0,519.2 148.5,520.8 149.1,522.3 149.6,523.9 150.1,525.4 150.6,526.7 151.1,527.8 151.7,528.7 152.2,529.3 152.7,529.5 153.2,529.4 153.8,529.0 154.3,528.4 154.8,527.6 155.3,526.6 155.8,525.5 156.4,524.2 156.9,522.9 157.4,521.5 157.9,520.1 158.5,518.6 159.0,517.2 159.5,515.8 160.0,514.5 160.6,513.3 161.1,512.2 161.6,511.2 162.2,510.2 162.7,509.2 163.3,508.3 163.8,507.3 164.3,506.4 164.9,505.4 165.4,504.3 166.0,503.2 166.5,502.0 167.0,500.6 167.5,498.8 168.1,496.9 168.6,494.9 169.1,492.9 169.6,491.2 170.2,489.8 170.7,488.8 171.2,488.5 171.7,488.7 172.2,489.4 172.7,490.5 173.2,491.7 173.7,493.2 174.2,494.8 174.8,496.3 175.3,497.8 175.8,499.0 176.3,500.1 176.8,500.8 177.3,501.0 177.8,500.9 178.3,500.8 178.8,500.6 179.3,500.3 179.8,499.9 180.3,499.5 180.8,499.1 181.3,498.7 181.8,498.3 182.3,497.9 182.8,497.5 183.3,497.2 183.8,497.0 184.3,496.9 184.8,496.8 185.3,496.9 185.8,497.1 186.3,497.4 186.8,497.8 187.3,498.3 187.8,498.9 188.3,499.6 188.8,500.3 189.3,501.1 189.8,501.9 190.3,502.7 190.8,503.6 191.3,504.4 191.8,505.2 192.3,506.2 192.9,507.4 193.4,508.8 193.9,510.4 194.4,512.1 194.9,513.8 195.5,515.6 196.0,517.4 196.5,519.1 197.1,520.7 197.6,522.2 198.1,523.6 198.6,524.6 199.1,525.5 199.7,526.0 200.2,526.2 200.7,525.9 201.2,525.1 201.7,523.9 202.2,522.2 202.7,520.1 203.3,517.8 203.8,515.2 204.3,512.3 204.8,509.4 205.3,506.3 205.8,503.2 206.3,500.0 206.8,496.9 207.3,494.0 207.8,491.1 208.3,488.5 208.9,486.2 209.4,484.1 209.9,482.4 210.4,481.2 210.9,480.4 211.4,480.1 211.9,480.2 212.5,480.5 213.0,481.0 213.5,481.7 214.0,482.5 214.6,483.5 215.1,484.6 215.6,485.8 216.1,487.1 216.7,488.4 217.2,489.8 217.7,491.2 218.2,492.6 218.8,494.1 219.3,495.4 219.8,496.8 220.3,498.2 220.8,499.9 221.3,501.9 221.8,504.0 222.4,506.2 222.9,508.6 223.4,511.0 223.9,513.4 224.4,515.8 224.9,518.1 225.4,520.3 225.9,522.4 226.4,524.2 227.0,525.8 227.5,527.2 228.0,528.2 228.5,528.8 229.0,529.0 229.5,528.5 230.0,527.1 230.5,524.9 231.1,522.1 231.6,518.6 232.1,514.7 232.6,510.4 233.1,505.8 233.6,501.0 234.2,496.3 234.7,491.5 235.2,486.9 235.7,482.6 236.2,478.7 236.7,475.2 237.3,472.4 237.8,470.2 238.3,468.8 238.8,468.3 239.3,468.7 239.9,469.7 240.4,471.3 240.9,473.4 241.4,475.9 241.9,478.6 242.5,481.6 243.0,484.6 243.5,487.7 244.1,490.7 244.6,493.4 245.1,495.9 245.6,498.0 246.1,499.6 246.7,500.6 247.2,501.0 247.7,500.9 248.2,500.8 248.7,500.6 249.2,500.3 249.7,499.9 250.2,499.6 250.8,499.3 251.3,498.9 251.8,498.6 252.3,498.4 252.8,498.3 253.3,498.2 253.8,498.5 254.3,499.3 254.8,500.5 255.3,502.0 255.8,503.6 256.4,505.4 256.9,507.0 257.4,508.5 257.9,509.7 258.4,510.5 258.9,510.8 259.4,510.6 259.9,510.1 260.4,509.3 261.0,508.2 261.5,506.9 262.0,505.4 262.5,503.8 263.0,502.0 263.5,500.3 264.1,498.4 264.6,496.7 265.1,494.9 265.6,493.3 266.1,491.8 266.6,490.5 267.2,489.4 267.7,488.6 268.2,488.1 268.7,487.9 269.2,488.0 269.7,488.4 270.2,489.1 270.8,489.9 271.3,490.9 271.8,492.0 272.3,493.2 272.8,494.5 273.3,495.9 273.9,497.2 274.4,498.6 274.9,499.9 275.4,501.1 275.9,502.2 276.4,503.2 277.0,504.0 277.5,504.7 278.0,505.1 278.5,505.2 279.0,505.1 279.6,505.0 280.1,504.7 280.6,504.3 281.1,503.9 281.6,503.4 282.2,502.9 282.7,502.4 283.2,501.9 283.8,501.4 284.3,500.9 284.8,500.5 285.3,500.1 285.8,499.8 286.4,499.7 286.9,499.6 287.4,499.8 287.9,500.4 288.5,501.3 289.0,502.5 289.5,503.9 290.0,505.5 290.5,507.2 291.0,508.9 291.6,510.6 292.1,512.3 292.6,513.9 293.1,515.3 293.6,516.5 294.2,517.4 294.7,518.0 295.2,518.2 295.7,517.9 296.2,517.0 296.8,515.7 297.3,513.9 297.8,511.7 298.3,509.2 298.8,506.4 299.3,503.5 299.9,500.4 300.4,497.2 300.9,493.9 301.4,490.7 301.9,487.6 302.4,484.7 303.0,481.9 303.5,479.4 304.0,477.3 304.5,475.3 305.0,473.2 305.5,471.0 306.1,468.8 306.6,466.6 307.1,464.4 307.6,462.2 308.1,460.1 308.6,458.0 309.2,456.0 309.7,454.2 310.2,452.4 310.7,450.9 311.2,449.5 311.7,448.3 312.3,447.3 312.8,446.6 313.3,446.2 313.8,446.0 314.3,446.2 314.8,446.8 315.3,447.9 315.9,449.2 316.4,450.9 316.9,452.8 317.4,455.0 317.9,457.4 318.4,459.9 319.0,462.6 319.5,465.4 320.0,468.3 320.5,471.1 321.0,474.0 321.5,476.9 322.0,479.7 322.6,482.4 323.1,484.9 323.6,487.3 324.1,489.5 324.6,491.4 325.1,493.1 325.7,494.4 326.2,495.5 326.7,496.1 327.2,496.3 327.7,496.0 328.2,495.2 328.8,494.0 329.3,492.4 329.8,490.4 330.3,488.1 330.8,485.6 331.4,482.9 331.9,480.0 332.4,477.1 332.9,474.1 333.4,471.2 333.9,468.3 334.5,465.6 335.0,463.1 335.5,460.8 336.0,458.8 336.5,457.2 337.1,456.0 337.6,455.2 338.1,454.9 338.6,455.3 339.2,456.3 339.7,457.9 340.2,459.8 340.8,462.0 341.3,464.4 341.8,466.8 342.4,469.0 342.9,470.9 343.4,472.5 344.0,473.5 344.5,473.9 345.0,473.7 345.5,473.3 346.0,472.5 346.5,471.6 347.0,470.4 347.5,469.2 348.0,467.8 348.5,466.4 349.0,465.1 349.5,463.7 350.0,462.5 350.5,461.4 351.0,460.6 351.5,459.9 352.0,459.4 352.5,458.8 353.0,458.3 353.5,457.8 354.0,457.4 354.5,456.9 355.0,456.5 355.5,456.1 356.0,455.8 356.5,455.5 357.0,455.2 357.5,455.0 358.0,454.9 358.5,454.9 359.0,455.1 359.6,455.8 360.1,456.7 360.6,457.9 361.2,459.3 361.7,460.8 362.2,462.2 362.8,463.6 363.3,464.8 363.8,465.7 364.4,466.4 364.9,466.6 365.4,466.4 365.9,465.7 366.4,464.6 366.9,463.2 367.4,461.4 367.9,459.4 368.5,457.0 369.0,454.5 369.5,451.8 370.0,448.9 370.5,445.9 371.0,442.9 371.5,439.8 372.0,436.7 372.5,433.7 373.0,430.7 373.5,427.8 374.0,425.1 374.5,422.6 375.1,420.2 375.6,418.2 376.1,416.4 376.6,415.0 377.1,413.9 377.6,413.2 378.1,413.0 378.6,413.3 379.1,414.2 379.6,415.5 380.1,417.4 380.6,419.6 381.1,422.2 381.6,425.2 382.1,428.3 382.6,431.7 383.1,435.3 383.6,438.9 384.1,442.6 384.6,446.3 385.1,449.9 385.6,453.5 386.1,456.9 386.6,460.0 387.1,462.9 387.6,465.6 388.1,467.8 388.6,469.7 389.1,471.0 389.6,471.9 390.1,472.2 390.6,472.0 391.1,471.5 391.6,470.6 392.2,469.6 392.7,468.3 393.2,467.0 393.7,465.7 394.2,464.4 394.7,463.1 395.3,462.1 395.8,461.2 396.3,460.7 396.8,460.5 397.3,460.7 397.9,461.1 398.4,461.8 398.9,462.7 399.5,463.7 400.0,464.7 400.5,465.7 401.1,466.7 401.6,467.6 402.1,468.3 402.7,468.7 403.2,468.9 403.7,468.8 404.2,468.4 404.7,467.9 405.2,467.2 405.7,466.3 406.2,465.2 406.7,464.0 407.2,462.7 407.7,461.3 408.2,459.8 408.7,458.2 409.2,456.6 409.7,454.9 410.2,453.2 410.7,451.6 411.2,449.9 411.7,448.3 412.2,446.7 412.7,445.2 413.2,443.8 413.7,442.5 414.2,441.3 414.7,440.2 415.2,439.3 415.7,438.6 416.2,438.1 416.7,437.7 417.2,437.6 417.7,437.6 418.2,437.6 418.7,437.7 419.3,437.8 419.8,437.9 420.3,438.0 420.8,438.1 421.3,438.3 421.8,438.4 422.4,438.6 422.9,438.8 423.4,439.0 423.9,439.2 424.4,439.5 424.9,439.7 425.5,440.0 426.0,440.3 426.5,440.6 427.0,440.9 427.5,441.3 428.0,442.0 428.5,442.9 429.0,444.0 429.5,445.3 430.1,446.8 430.6,448.4 431.1,450.2 431.6,452.1 432.1,454.1 432.6,456.1 433.1,458.3 433.6,460.5 434.1,462.8 434.6,465.0 435.1,467.3 435.7,469.6 436.2,471.8 436.7,474.0 437.2,476.1 437.7,478.2 438.2,480.1 438.7,482.1 439.2,484.3 439.7,486.7 440.2,489.3 440.8,491.9 441.3,494.6 441.8,497.3 442.3,499.9 442.8,502.5 443.3,505.0 443.8,507.4 444.3,509.5 444.8,511.5 445.4,513.1 445.9,514.5 446.4,515.5 446.9,516.2 447.4,516.4 447.9,516.1 448.4,515.3 448.9,513.9 449.4,512.1 449.9,509.9 450.4,507.3 450.9,504.4 451.4,501.2 451.9,497.8 452.4,494.3 452.9,490.6 453.4,486.8 454.0,483.1 454.5,479.3 455.0,475.6 455.5,472.1 456.0,468.7 456.5,465.5 457.0,462.6 457.5,460.0 458.0,457.8 458.5,456.0 459.0,454.6 459.5,453.8 460.0,453.5 460.5,453.5 461.0,453.5 461.5,453.6 462.0,453.7 462.5,453.8 463.1,453.9 463.6,454.0 464.1,454.2 464.6,454.3 465.1,454.5 465.6,454.7 466.1,454.9 466.6,455.5 467.1,456.9 467.6,459.0 468.1,461.8 468.6,465.0 469.1,468.7 469.6,472.8 470.1,477.1 470.6,481.7 471.1,486.3 471.7,491.0 472.2,495.7 472.7,500.2 473.2,504.5 473.7,508.5 474.2,512.1 474.7,515.2 475.2,517.8 475.7,519.7 476.2,521.0 476.7,521.4 477.2,521.2 477.7,520.5 478.3,519.4 478.8,518.0 479.3,516.2 479.8,514.3 480.3,512.1 480.9,509.8 481.4,507.4 481.9,504.9 482.4,502.4 482.9,500.0 483.5,497.7 484.0,495.5 484.5,493.6 485.0,491.8 485.5,490.4 486.1,489.3 486.6,488.6 487.1,488.4 487.6,488.5 488.1,488.8 488.6,489.3 489.1,490.0 489.6,490.7 490.1,491.5 490.6,492.4 491.1,493.2 491.6,494.0 492.1,494.7 492.6,495.4 493.1,495.9 493.6,496.2 494.1,496.3 494.6,495.9 495.1,494.7 495.7,492.8 496.2,490.2 496.7,487.2 497.2,483.7 497.7,479.9 498.3,475.8 498.8,471.5 499.3,467.1 499.8,462.8 500.3,458.5 500.9,454.4 501.4,450.6 501.9,447.1 502.4,444.1 502.9,441.5 503.5,439.6 504.0,438.4 504.5,438.0 505.0,438.6 505.6,440.2 506.1,442.8 506.6,446.1 507.1,450.1 507.6,454.6 508.2,459.3 508.7,464.3 509.2,469.3 509.8,474.2 510.3,478.9 510.8,483.1 511.3,487.4 511.8,492.2 512.3,497.5 512.8,503.0 513.3,508.4 513.9,513.6 514.4,518.4 514.9,522.4 515.4,525.6 515.9,527.7 516.4,528.4 516.9,528.3 517.4,528.0 517.9,527.4 518.5,526.8 519.0,525.9 519.5,524.9 520.0,523.9 520.5,522.7 521.0,521.5 521.5,520.2 522.0,519.0 522.6,517.7 523.1,516.4 523.6,515.2 524.1,514.0 524.6,513.0 525.1,512.0 525.6,511.1 526.2,510.5 526.7,509.9 527.2,509.6 527.7,509.5 528.2,509.6 528.7,509.8 529.2,510.2 529.7,510.8 530.2,511.5 530.7,512.3 531.2,513.2 531.7,514.1 532.2,515.2 532.7,516.4 533.2,517.6 533.7,518.8 534.2,520.1 534.7,521.4 535.2,522.8 535.8,524.1 536.3,525.4 536.8,526.7 537.3,527.9 537.8,529.1 538.3,530.3 538.8,531.4 539.3,532.3 539.8,533.2 540.3,534.0 540.8,534.7 541.3,535.3 541.8,535.7 542.3,535.9 542.8,536.0 543.3,535.9 543.8,535.6 544.3,535.2 544.8,534.7 545.3,534.0 545.8,533.2 546.4,532.3 546.9,531.3 547.4,530.2 547.9,529.1 548.4,528.0 548.9,526.8 549.4,525.6 549.9,524.4 550.4,523.2 550.9,522.1 551.4,521.0 551.9,519.9 552.4,518.9 553.0,518.0 553.5,517.2 554.0,516.5 554.5,516.0 555.0,515.6 555.5,515.3 556.0,515.2 556.5,515.3 557.0,515.7 557.5,516.2 558.0,516.8 558.5,517.6 559.0,518.5 559.5,519.4 560.1,520.4 560.6,521.3 561.1,522.2 561.6,523.0 562.1,523.6 562.6,524.1 563.1,524.5 563.6,524.6 564.1,524.5 564.7,524.1 565.2,523.4 565.7,522.7 566.2,521.7 566.8,520.7 567.3,519.6 567.8,518.5 568.3,517.4 568.9,516.4 569.4,515.4 569.9,514.7 570.4,514.0 571.0,513.6 571.5,513.5 572.0,513.7 572.5,514.3 573.0,515.2 573.5,516.3 574.0,517.7 574.5,519.3 575.0,521.1 575.5,522.9 576.0,524.8 576.6,526.6 577.1,528.4 577.6,530.2 578.1,531.8 578.6,533.2 579.1,534.3 579.6,535.2 580.1,535.8 580.6,536.0 581.1,536.0 581.6,536.0 582.1,536.0 582.6,536.0 583.1,536.0 583.6,536.0 584.2,536.0 584.7,536.0 585.2,536.0 585.7,536.0 586.2,536.0 586.7,536.0 587.2,536.0 587.7,536.0 588.2,536.0 588.7,536.0 589.2,536.0 589.7,536.0 590.2,536.0 590.8,536.0 591.3,536.0 591.8,536.0 592.3,536.0 592.8,536.0 593.3,536.0 593.8,536.0 594.3,536.0 594.8,536.0 595.3,536.0 595.8,536.0 596.3,536.0 596.8,536.0 597.4,536.0 597.9,536.0 598.4,536.0 598.9,536.0 599.4,536.0 599.9,536.0 600.4,536.0 600.9,536.0 601.4,536.0 601.9,536.0 602.4,536.0 602.9,536.0 603.4,536.0 604.0,536.0 604.5,536.0 605.0,536.0 605.5,536.0 606.0,536.0 606.5,536.0 607.0,536.0 607.5,535.8 608.0,535.4 608.5,534.7 609.0,533.8 609.5,532.7 610.0,531.4 610.5,530.0 611.0,528.5 611.5,526.9 612.0,525.3 612.5,523.7 613.0,522.1 613.5,520.5 614.0,519.0 614.5,517.6 615.0,516.3 615.5,515.2 616.0,514.3 616.5,513.6 617.0,513.2 617.5,513.0 618.0,513.2 618.5,513.6 619.0,514.4 619.5,515.4 620.0,516.6 620.6,518.0 621.1,519.5 621.6,521.1 622.1,522.8 622.6,524.5 623.1,526.2 623.6,527.9 624.1,529.5 624.6,531.0 625.2,532.4 625.7,533.6 626.2,534.6 626.7,535.4 627.2,535.8 627.7,536.0 628.2,536.0 628.7,536.0 629.2,536.0 629.7,536.0 630.2,536.0 630.7,536.0 631.2,536.0 631.7,536.0 632.2,536.0 632.7,536.0 633.2,536.0 633.7,536.0 634.2,536.0 634.7,536.0 635.2,536.0 635.7,536.0 636.2,536.0 636.7,536.0 637.2,536.0 637.7,536.0 638.2,536.0 638.7,536.0 639.2,536.0 639.7,536.0 640.3,536.0 640.8,536.0 641.3,536.0 641.8,536.0 642.3,536.0 642.8,536.0 643.3,536.0 643.8,536.0 644.3,536.0 644.8,536.0 645.3,536.0 645.8,536.0 646.3,536.0 646.8,536.0 647.3,536.0 647.8,536.0 648.3,536.0 648.8,536.0 649.3,536.0 649.8,536.0 650.3,536.0 650.8,536.0 651.3,536.0 651.8,536.0 652.3,536.0 652.8,535.9 653.3,535.5 653.8,534.8 654.4,534.0 654.9,533.0 655.4,531.9 655.9,530.6 656.4,529.2 656.9,527.7 657.4,526.2 658.0,524.6 658.5,523.1 659.0,521.6 659.5,520.1 660.0,518.7 660.5,517.4 661.0,516.3 661.5,515.3 662.1,514.5 662.6,513.8 663.1,513.4 663.6,513.3 664.1,513.4 664.6,513.8 665.1,514.5 665.7,515.3 666.2,516.3 666.7,517.4 667.2,518.7 667.7,520.1 668.2,521.6 668.7,523.1 669.2,524.6 669.8,526.2 670.3,527.7 670.8,529.2 671.3,530.6 671.8,531.9 672.3,533.0 672.8,534.0 673.4,534.8 673.9,535.5 674.4,535.9 674.9,536.0 675.4,535.8 675.9,535.2 676.4,534.3 677.0,533.0 677.5,531.5 678.0,529.8 678.5,527.9 679.0,525.8 679.5,523.6 680.0,521.3 680.5,519.0 681.1,516.7 681.6,514.4 682.1,512.2 682.6,510.1 683.1,508.2 683.6,506.5 684.1,505.0 684.7,503.7 685.2,502.8 685.7,502.2 686.2,502.0 686.7,502.2 687.2,502.8 687.7,503.7 688.3,505.0 688.8,506.5 689.3,508.2 689.8,510.1 690.3,512.2 690.8,514.4 691.3,516.7 691.9,519.0 692.4,521.3 692.9,523.6 693.4,525.8 693.9,527.9 694.4,529.8 694.9,531.5 695.4,533.0 696.0,534.3 696.5,535.2 697.0,535.8 697.5,536.0 698.0,535.9 698.5,535.6 699.0,535.1 699.5,534.5 700.0,533.7 700.5,532.8 701.0,531.7 701.5,530.5 702.0,529.2 702.5,527.8 703.0,526.3 703.5,524.8 704.0,523.2 704.5,521.5 705.0,519.8 705.6,518.1 706.1,516.4 706.6,514.6 707.1,512.9 707.6,511.2 708.1,509.6 708.6,508.0 709.1,506.4 709.6,504.9 710.1,503.5 710.6,502.2 711.1,501.0 711.6,499.9 712.1,499.0 712.6,498.2 713.1,497.5 713.6,496.8 714.1,496.0 714.6,495.3 715.1,494.6 715.6,493.9 716.1,493.2 716.6,492.4 717.1,491.8 717.6,491.1 718.1,490.4 718.6,489.7 719.1,489.1 719.6,488.4 720.1,487.8 720.6,487.2 721.1,486.6 721.6,486.1 722.1,485.5 722.6,485.0 723.1,484.5 723.6,484.1 724.1,483.7 724.6,483.3 725.1,482.9 725.6,482.5 726.1,482.2 726.6,482.0 727.1,481.7 727.6,481.6 728.1,481.4 728.6,481.3 729.1,481.2 729.6,481.2 730.1,481.3 730.6,481.6 731.2,482.1 731.7,482.8 732.2,483.6 732.7,484.6 733.2,485.6 733.7,486.8 734.3,488.1 734.8,489.4 735.3,490.7 735.8,492.5 736.4,494.9 736.9,497.8 737.5,501.2 738.0,504.7 738.6,508.4 739.1,512.1 739.7,515.7 740.2,519.0" fill="none" stroke="#ff00ff" stroke-width="3.5" stroke-linejoin="round" stroke-linecap="round"/>
<path d="M83.4,671.4L84.0,673.0 84.5,674.9 85.1,676.6 85.6,677.9 86.2,678.4 86.7,678.3 87.2,678.0 87.7,677.5 88.2,676.8 88.7,676.0 89.2,675.1 89.7,674.0 90.2,672.9 90.7,671.8 91.2,670.6 91.8,669.4 92.3,668.2 92.8,667.1 93.3,666.0 93.8,664.9 94.3,664.0 94.8,663.2 95.3,662.5 95.8,662.0 96.3,661.7 96.8,661.6 97.3,661.7 97.8,662.1 98.3,662.8 98.8,663.5 99.3,664.5 99.8,665.5 100.3,666.5 100.8,667.5 101.3,668.5 101.8,669.5 102.3,670.2 102.8,670.9 103.3,671.3 103.8,671.4 104.3,671.3 104.8,670.8 105.3,670.2 105.8,669.4 106.3,668.4 106.8,667.4 107.3,666.3 107.8,665.1 108.3,664.0 108.8,663.0 109.3,662.0 109.8,661.2 110.3,660.6 110.8,660.2 111.3,659.9 111.8,659.7 112.3,659.4 112.8,659.2 113.3,659.0 113.8,658.8 114.3,658.5 114.8,658.3 115.3,658.2 115.8,658.0 116.3,657.8 116.9,657.7 117.4,657.5 117.9,657.4 118.4,657.3 118.9,657.2 119.4,657.1 119.9,657.0 120.4,657.0 120.9,656.9 121.4,656.9 121.9,656.9 122.4,656.9 122.9,656.9 123.4,656.9 123.9,656.9 124.4,656.9 124.9,656.9 125.4,656.9 125.9,656.9 126.5,656.9 127.0,656.9 127.5,656.9 128.0,656.9 128.5,656.9 129.0,656.9 129.5,656.9 130.0,656.9 130.5,656.9 131.0,656.9 131.5,656.9 132.0,656.9 132.5,656.9 133.0,656.9 133.5,656.9 134.0,656.9 134.5,656.9 135.0,656.9 135.6,656.9 136.1,656.9 136.6,656.9 137.1,656.9 137.6,656.9 138.1,656.9 138.6,656.9 139.1,656.9 139.6,656.9 140.1,656.9 140.6,656.8 141.2,656.5 141.7,656.1 142.2,655.5 142.8,654.8 143.3,654.1 143.8,653.3 144.4,652.6 144.9,651.8 145.4,650.9 145.9,649.7 146.4,648.3 147.0,647.0 147.5,645.9 148.0,645.1 148.5,644.8 149.0,645.0 149.5,645.6 150.0,646.5 150.5,647.6 151.0,648.9 151.5,650.3 152.0,651.8 152.5,653.3 153.0,654.7 153.5,656.0 154.0,657.1 154.5,658.0 155.0,658.6 155.5,658.8 156.0,658.8 156.6,658.8 157.1,658.7 157.6,658.7 158.1,658.6 158.7,658.6 159.2,658.5 159.7,658.4 160.2,658.3 160.8,658.2 161.3,658.1 161.8,658.0 162.3,657.9 162.8,657.7 163.4,657.6 163.9,657.4 164.4,657.1 165.0,656.4 165.5,655.4 166.0,654.2 166.5,652.8 167.1,651.3 167.6,649.6 168.1,648.0 168.6,646.3 169.2,644.7 169.7,643.2 170.2,641.9 170.7,640.8 171.2,639.9 171.8,639.4 172.3,639.2 172.8,639.5 173.3,640.3 173.9,641.5 174.4,643.1 174.9,645.0 175.4,647.1 175.9,649.3 176.5,651.5 177.0,653.7 177.5,655.8 178.0,657.7 178.5,659.3 179.1,660.5 179.6,661.3 180.1,661.6 180.6,661.4 181.1,660.8 181.6,659.9 182.1,658.8 182.6,657.5 183.1,656.0 183.6,654.4 184.1,652.9 184.6,651.3 185.1,649.8 185.6,648.5 186.1,647.4 186.6,646.5 187.1,645.9 187.6,645.7 188.1,645.7 188.6,645.9 189.1,646.1 189.6,646.3 190.1,646.7 190.6,647.1 191.1,647.5 191.6,648.0 192.1,648.5 192.6,649.1 193.1,649.7 193.6,650.3 194.1,650.9 194.6,651.5 195.1,652.2 195.6,652.8 196.1,653.4 196.6,654.0 197.1,654.6 197.6,655.1 198.1,655.6 198.6,656.0 199.1,656.4 199.6,656.8 200.1,657.0 200.6,657.2 201.1,657.4 201.6,657.4 202.1,657.0 202.7,655.9 203.2,654.2 203.7,651.9 204.2,649.3 204.8,646.4 205.3,643.2 205.8,640.0 206.3,636.7 206.8,633.5 207.4,630.6 207.9,628.0 208.4,625.7 208.9,624.0 209.5,622.9 210.0,622.5 210.5,622.7 211.0,623.2 211.5,624.1 212.1,625.3 212.6,626.7 213.1,628.3 213.6,630.2 214.1,632.2 214.6,634.3 215.2,636.5 215.7,638.7 216.2,641.0 216.7,643.2 217.2,645.4 217.7,647.6 218.3,649.6 218.8,651.5 219.3,653.1 219.8,654.6 220.3,656.0 220.8,657.4 221.3,658.9 221.8,660.4 222.3,661.8 222.8,663.1 223.3,664.2 223.8,665.1 224.3,665.6 224.8,665.8 225.3,665.8 225.8,665.7 226.3,665.6 226.8,665.4 227.3,665.2 227.8,664.9 228.3,664.6 228.8,664.3 229.3,663.9 229.8,663.6 230.3,663.2 230.8,662.8 231.3,662.4 231.8,661.9 232.3,661.5 232.8,661.1 233.3,660.6 233.8,660.2 234.3,659.7 234.8,659.2 235.3,658.5 235.9,657.8 236.4,657.0 236.9,656.2 237.4,655.3 237.9,654.3 238.4,653.4 238.9,652.4 239.5,651.4 240.0,650.4 240.5,649.4 241.0,648.5 241.5,647.5 242.0,646.6 242.6,645.7 243.1,644.8 243.6,644.0 244.1,643.3 244.6,642.6 245.1,642.0 245.6,641.5 246.2,641.1 246.7,640.8 247.2,640.7 247.7,640.6 248.2,640.7 248.8,641.0 249.3,641.4 249.8,641.9 250.3,642.5 250.8,643.3 251.4,644.0 251.9,644.8 252.4,645.6 253.0,646.3 253.5,647.1 254.0,647.7 254.5,648.2 255.1,648.6 255.6,648.9 256.1,649.0 256.6,648.9 257.2,648.5 257.7,648.0 258.2,647.2 258.7,646.4 259.2,645.5 259.8,644.4 260.3,643.4 260.8,642.4 261.4,641.3 261.9,640.4 262.4,639.5 262.9,638.8 263.4,638.3 264.0,637.9 264.5,637.8 265.0,637.9 265.5,638.2 266.0,638.7 266.5,639.3 267.0,639.9 267.5,640.5 268.0,641.1 268.5,641.6 269.0,641.9 269.5,642.0 270.0,641.6 270.5,640.6 271.0,639.1 271.5,637.1 272.0,634.8 272.5,632.2 273.0,629.4 273.6,626.7 274.1,623.9 274.6,621.3 275.1,619.0 275.6,617.0 276.1,615.5 276.6,614.5 277.1,614.1 277.6,614.3 278.1,615.0 278.6,616.0 279.2,617.3 279.7,619.0 280.2,620.9 280.7,623.0 281.2,625.3 281.7,627.8 282.3,630.4 282.8,633.0 283.3,635.7 283.8,638.3 284.3,640.9 284.8,643.4 285.4,645.8 285.9,648.0 286.4,650.0 286.9,651.8 287.4,653.5 287.9,655.3 288.5,657.1 289.0,659.0 289.5,660.9 290.0,662.7 290.5,664.5 291.0,666.3 291.6,667.9 292.1,669.4 292.6,670.8 293.1,671.9 293.6,672.9 294.2,673.6 294.7,674.0 295.2,674.2 295.7,673.9 296.2,673.1 296.8,671.8 297.3,670.1 297.8,668.0 298.3,665.7 298.8,663.1 299.3,660.4 299.9,657.5 300.4,654.6 300.9,651.7 301.4,648.8 301.9,646.1 302.4,643.6 303.0,641.4 303.5,639.4 304.0,637.8 304.5,636.4 305.1,635.1 305.6,633.7 306.1,632.4 306.6,631.2 307.1,630.0 307.7,628.8 308.2,627.7 308.7,626.7 309.2,625.7 309.8,624.8 310.3,623.9 310.8,623.1 311.3,622.4 311.9,621.7 312.4,621.1 312.9,620.6 313.4,620.2 313.9,619.8 314.4,619.4 314.9,619.1 315.5,618.8 316.0,618.5 316.5,618.2 317.0,617.8 317.5,617.4 318.0,616.9 318.5,616.3 319.0,615.6 319.5,614.7 320.0,613.7 320.5,612.6 321.0,611.4 321.5,610.2 322.0,609.0 322.5,607.7 323.0,606.4 323.6,605.1 324.1,603.9 324.6,602.7 325.1,601.6 325.6,600.6 326.1,599.6 326.6,598.8 327.1,598.2 327.6,597.7 328.1,597.4 328.6,597.3 329.1,597.5 329.6,598.2 330.1,599.3 330.6,600.7 331.1,602.4 331.6,604.4 332.1,606.5 332.6,608.7 333.1,611.1 333.6,613.4 334.1,615.8 334.6,618.0 335.1,620.1 335.6,622.1 336.1,623.8 336.6,625.2 337.1,626.3 337.6,627.0 338.1,627.2 338.6,627.0 339.1,626.6 339.6,625.9 340.1,625.0 340.7,623.9 341.2,622.7 341.7,621.3 342.2,619.8 342.7,618.3 343.2,616.7 343.7,615.2 344.2,613.7 344.7,612.2 345.3,610.9 345.8,609.6 346.3,608.6 346.8,607.7 347.3,607.1 347.8,606.6 348.3,606.1 348.8,605.6 349.3,605.2 349.8,604.7 350.3,604.2 350.8,603.8 351.3,603.4 351.8,602.9 352.3,602.6 352.8,602.2 353.3,601.8 353.9,601.5 354.4,601.1 354.9,600.8 355.4,600.6 355.9,600.3 356.4,600.1 356.9,599.9 357.4,599.7 357.9,599.6 358.4,599.5 358.9,599.4 359.4,599.3 359.9,599.3 360.4,599.3 360.9,599.4 361.4,599.4 361.9,599.5 362.4,599.6 362.9,599.7 363.4,599.9 363.9,600.0 364.4,600.2 364.9,600.3 365.4,600.5 365.9,600.7 366.4,600.9 366.9,601.1 367.4,601.3 367.9,601.5 368.4,601.7 368.9,601.9 369.4,602.0 369.9,602.2 370.4,602.3 370.9,602.5 371.4,602.6 371.9,602.7 372.4,602.8 372.9,602.8 373.4,602.9 373.9,602.9 374.4,602.6 374.9,601.9 375.4,600.8 375.9,599.2 376.4,597.4 376.9,595.3 377.4,592.9 377.9,590.3 378.4,587.6 378.9,584.8 379.4,582.0 380.0,579.1 380.5,576.3 381.0,573.6 381.5,571.0 382.0,568.6 382.5,566.5 383.0,564.7 383.5,563.1 384.0,562.0 384.5,561.3 385.0,561.0 385.5,561.3 386.0,562.0 386.5,563.2 387.1,564.8 387.6,566.8 388.1,569.0 388.6,571.4 389.1,574.0 389.6,576.8 390.2,579.6 390.7,582.4 391.2,585.1 391.7,587.8 392.2,590.3 392.7,592.6 393.3,594.7 393.8,596.4 394.3,597.8 394.8,598.7 395.3,599.4 395.8,600.1 396.3,600.7 396.8,601.3 397.3,602.0 397.8,602.6 398.3,603.2 398.8,603.7 399.3,604.3 399.8,604.8 400.3,605.3 400.8,605.8 401.3,606.3 401.8,606.7 402.3,607.1 402.8,607.5 403.3,607.9 403.8,608.2 404.3,608.5 404.8,608.8 405.3,609.1 405.8,609.3 406.3,609.5 406.8,609.6 407.3,609.7 407.8,609.8 408.3,609.9 408.8,609.9 409.3,609.8 409.8,609.6 410.3,609.3 410.8,608.8 411.3,608.3 411.9,607.6 412.4,606.8 412.9,606.0 413.4,605.0 413.9,604.1 414.4,603.0 414.9,601.9 415.4,600.8 415.9,599.6 416.4,598.4 416.9,597.2 417.5,596.0 418.0,594.8 418.5,593.6 419.0,592.4 419.5,591.3 420.0,590.2 420.5,589.1 421.0,588.2 421.5,587.2 422.0,586.4 422.5,585.6 423.1,584.9 423.6,584.4 424.1,583.9 424.6,583.6 425.1,583.4 425.6,583.3 426.1,583.7 426.6,584.9 427.1,586.7 427.6,589.1 428.2,591.9 428.7,595.1 429.2,598.6 429.7,602.3 430.2,606.1 430.7,609.9 431.2,613.6 431.7,617.1 432.2,620.3 432.8,623.1 433.3,625.5 433.8,627.3 434.3,628.5 434.8,628.9 435.3,628.7 435.9,628.3 436.4,627.5 436.9,626.6 437.4,625.5 437.9,624.2 438.5,622.9 439.0,621.5 439.5,620.1 440.1,618.8 440.6,617.5 441.1,616.4 441.6,615.5 442.1,614.7 442.7,614.3 443.2,614.1 443.7,614.2 444.2,614.6 444.8,615.2 445.3,616.0 445.8,616.9 446.4,617.9 446.9,619.0 447.4,620.1 447.9,621.2 448.4,622.3 449.0,623.3 449.5,624.2 450.0,625.0 450.6,625.6 451.1,626.0 451.6,626.1 452.1,625.8 452.6,625.1 453.2,624.0 453.7,622.5 454.2,620.7 454.7,618.7 455.3,616.5 455.8,614.2 456.3,612.0 456.8,609.7 457.4,607.5 457.9,605.5 458.4,603.7 458.9,602.2 459.5,601.1 460.0,600.4 460.5,600.1 461.0,600.4 461.6,601.4 462.1,603.0 462.6,605.0 463.1,607.4 463.6,610.1 464.2,613.1 464.7,616.2 465.2,619.5 465.8,622.7 466.3,625.9 466.8,628.9 467.3,631.6 467.8,634.1 468.4,636.2 468.9,637.8 469.4,639.1 469.9,640.4 470.4,641.7 470.9,643.0 471.4,644.3 472.0,645.5 472.5,646.8 473.0,647.9 473.5,649.1 474.0,650.2 474.5,651.2 475.0,652.2 475.5,653.1 476.0,653.9 476.5,654.7 477.0,655.4 477.6,656.0 478.1,656.5 478.6,656.9 479.1,657.2 479.6,657.3 480.1,657.4 480.6,657.1 481.1,656.2 481.7,654.9 482.2,653.1 482.7,651.0 483.2,648.6 483.8,646.1 484.3,643.4 484.8,640.7 485.3,638.0 485.9,635.5 486.4,633.1 486.9,631.0 487.4,629.2 488.0,627.9 488.5,627.0 489.0,626.7 489.5,626.9 490.0,627.4 490.5,628.1 491.0,629.1 491.5,630.2 492.0,631.5 492.5,632.8 493.0,634.2 493.5,635.5 494.0,636.8 494.5,637.9 495.0,638.9 495.5,639.6 496.0,640.1 496.5,640.3 497.0,639.9 497.5,638.8 498.0,637.1 498.5,634.9 499.0,632.3 499.5,629.4 500.0,626.3 500.5,623.0 501.0,619.8 501.5,616.7 502.0,613.8 502.5,611.2 503.0,609.0 503.5,607.3 504.0,606.2 504.5,605.8 505.1,606.6 505.6,608.9 506.1,612.3 506.7,616.5 507.2,621.1 507.8,625.9 508.3,630.4 508.9,634.3 509.4,637.7 509.9,641.2 510.4,644.9 510.9,648.6 511.4,652.3 512.0,655.8 512.5,659.3 513.0,662.5 513.5,665.4 514.0,668.0 514.5,670.2 515.0,672.3 515.6,674.5 516.1,676.5 516.7,678.3 517.2,679.7 517.8,680.7 518.3,681.0 518.8,680.9 519.3,680.6 519.8,680.0 520.3,679.3 520.8,678.4 521.3,677.4 521.9,676.3 522.4,675.0 522.9,673.7 523.4,672.3 523.9,670.8 524.4,669.3 524.9,667.8 525.4,666.2 525.9,664.7 526.4,663.2 526.9,661.8 527.4,660.5 527.9,659.2 528.5,658.1 529.0,657.1 529.5,656.2 530.0,655.5 530.5,654.9 531.0,654.6 531.5,654.5 532.0,654.7 532.5,655.1 533.0,655.8 533.6,656.7 534.1,657.8 534.6,659.1 535.1,660.5 535.6,662.0 536.1,663.6 536.6,665.3 537.1,667.0 537.7,668.7 538.2,670.4 538.7,672.0 539.2,673.5 539.7,674.9 540.2,676.2 540.7,677.3 541.3,678.2 541.8,678.9 542.3,679.3 542.8,679.5 543.3,679.4 543.8,679.1 544.3,678.7 544.8,678.1 545.3,677.3 545.9,676.5 546.4,675.5 546.9,674.5 547.4,673.4 547.9,672.3 548.4,671.1 548.9,669.9 549.4,668.7 549.9,667.6 550.4,666.5 550.9,665.5 551.4,664.5 552.0,663.7 552.5,662.9 553.0,662.3 553.5,661.9 554.0,661.6 554.5,661.5 555.0,661.7 555.5,662.1 556.0,662.8 556.5,663.7 557.0,664.8 557.5,666.0 558.0,667.4 558.5,668.8 559.0,670.2 559.6,671.7 560.1,673.1 560.6,674.5 561.1,675.7 561.6,676.8 562.1,677.7 562.6,678.4 563.1,678.8 563.6,679.0 564.1,678.8 564.6,678.1 565.1,677.1 565.6,675.7 566.1,674.2 566.6,672.4 567.1,670.6 567.6,668.7 568.1,666.9 568.6,665.1 569.1,663.6 569.6,662.2 570.1,661.2 570.6,660.5 571.1,660.3 571.6,660.4 572.1,660.7 572.6,661.2 573.2,661.8 573.7,662.6 574.2,663.6 574.7,664.6 575.2,665.7 575.7,666.9 576.3,668.2 576.8,669.5 577.3,670.9 577.8,672.2 578.3,673.6 578.8,674.9 579.4,676.2 579.9,677.4 580.4,678.5 580.9,679.5 581.4,680.5 581.9,681.3 582.5,681.9 583.0,682.4 583.5,682.7 584.0,682.8 584.5,682.8 585.0,682.8 585.5,682.8 586.0,682.8 586.5,682.8 587.0,682.8 587.5,682.8 588.0,682.8 588.5,682.8 589.0,682.8 589.5,682.8 590.0,682.8 590.5,682.8 591.0,682.8 591.5,682.8 592.0,682.8 592.5,682.8 593.0,682.8 593.5,682.8 594.0,682.8 594.5,682.8 595.0,682.8 595.5,682.8 596.0,682.8 596.5,682.8 597.0,682.8 597.5,682.8 598.0,682.8 598.5,682.8 599.0,682.8 599.5,682.8 600.0,682.8 600.5,682.8 601.0,682.8 601.5,682.8 602.0,682.8 602.5,682.8 603.0,682.8 603.5,682.8 604.0,682.8 604.5,682.8 605.0,682.8 605.5,682.8 606.0,682.8 606.5,682.8 607.0,682.8 607.5,682.8 608.0,682.8 608.5,682.8 609.0,682.8 609.5,682.8 610.0,682.8 610.5,682.8 611.0,682.8 611.5,682.8 612.0,682.8 612.5,682.8 613.0,682.8 613.5,682.8 614.0,682.8 614.5,682.8 615.0,682.8 615.5,682.8 616.0,682.8 616.5,682.8 617.0,682.8 617.5,682.8 618.0,682.8 618.5,682.8 619.0,682.8 619.5,682.8 620.0,682.8 620.5,682.8 621.0,682.6 621.5,682.0 622.0,681.0 622.5,679.8 623.0,678.3 623.5,676.6 624.0,674.8 624.5,672.8 625.0,670.8 625.6,668.9 626.1,666.9 626.6,665.1 627.1,663.4 627.6,661.9 628.1,660.7 628.6,659.7 629.1,659.1 629.6,658.9 630.1,659.1 630.6,659.7 631.2,660.6 631.7,661.8 632.2,663.2 632.7,664.8 633.3,666.5 633.8,668.3 634.3,670.2 634.8,672.1 635.3,673.9 635.9,675.6 636.4,677.2 636.9,678.6 637.4,679.8 638.0,680.7 638.5,681.3 639.0,681.5 639.5,681.5 640.0,681.3 640.5,681.2 641.0,680.9 641.5,680.6 642.0,680.2 642.6,679.7 643.1,679.3 643.6,678.7 644.1,678.1 644.6,677.5 645.1,676.8 645.6,676.1 646.1,675.4 646.6,674.6 647.1,673.9 647.6,673.1 648.1,672.3 648.6,671.4 649.1,670.6 649.7,669.8 650.2,669.0 650.7,668.1 651.2,667.3 651.7,666.5 652.2,665.8 652.7,665.0 653.2,664.3 653.7,663.6 654.2,662.9 654.7,662.3 655.2,661.7 655.7,661.1 656.2,660.7 656.8,660.2 657.3,659.8 657.8,659.5 658.3,659.2 658.8,659.1 659.3,658.9 659.8,658.9 660.3,659.0 660.8,659.3 661.3,659.9 661.9,660.5 662.4,661.4 662.9,662.3 663.4,663.4 663.9,664.5 664.4,665.8 664.9,667.0 665.5,668.3 666.0,669.6 666.5,670.8 667.0,672.1 667.5,673.2 668.0,674.3 668.5,675.2 669.0,676.1 669.6,676.7 670.1,677.3 670.6,677.6 671.1,677.7 671.6,677.6 672.1,677.5 672.6,677.2 673.1,676.9 673.6,676.4 674.1,675.9 674.6,675.4 675.1,674.7 675.6,674.0 676.1,673.3 676.6,672.5 677.1,671.8 677.6,670.9 678.1,670.1 678.7,669.2 679.2,668.4 679.7,667.6 680.2,666.7 680.7,666.0 681.2,665.2 681.7,664.5 682.2,663.8 682.7,663.1 683.2,662.6 683.7,662.1 684.2,661.6 684.7,661.3 685.2,661.0 685.7,660.9 686.2,660.8 686.7,661.0 687.2,661.4 687.7,662.1 688.2,662.9 688.7,664.0 689.2,665.2 689.7,666.6 690.2,668.0 690.7,669.5 691.2,670.9 691.7,672.4 692.2,673.8 692.7,675.2 693.2,676.4 693.7,677.5 694.2,678.3 694.7,679.0 695.2,679.4 695.7,679.6 696.2,679.5 696.7,679.3 697.2,678.9 697.7,678.4 698.2,677.8 698.7,677.1 699.3,676.2 699.8,675.4 700.3,674.4 700.8,673.4 701.3,672.4 701.8,671.3 702.3,670.2 702.8,669.1 703.3,668.0 703.8,667.0 704.3,666.0 704.8,665.0 705.3,664.2 705.9,663.3 706.4,662.6 706.9,662.0 707.4,661.5 707.9,661.1 708.4,660.9 708.9,660.8 709.4,661.0 709.9,661.6 710.5,662.6 711.0,663.8 711.5,665.2 712.0,666.6 712.6,668.2 713.1,669.6 713.6,671.0 714.1,672.2 714.7,673.2 715.2,673.8 715.7,674.0 716.2,673.5 716.8,672.1 717.3,669.9 717.8,667.1 718.4,663.8 718.9,660.1 719.4,656.2 720.0,652.2 720.5,648.3 721.0,644.5 721.6,641.1 722.1,638.1 722.6,635.3 723.1,632.4 723.7,629.3 724.2,626.2 724.7,623.0 725.2,619.8 725.8,616.6 726.3,613.4 726.8,610.4 727.3,607.5 727.8,604.9 728.4,602.4 728.9,600.2 729.4,598.3 729.9,596.8 730.5,595.7 731.0,594.9 731.5,594.7 732.0,595.1 732.5,596.2 733.1,597.9 733.6,600.1 734.1,602.6 734.6,605.4 735.1,608.3 735.6,611.3 736.2,614.2 736.7,616.8 737.2,619.2 737.7,621.3 738.2,623.4 738.7,625.5 739.2,627.6 739.7,629.6 740.3,631.7 740.8,633.7 741.3,635.7 741.8,637.8 742.3,639.8 742.8,641.9" fill="none" stroke="#0000ff" stroke-width="3.5" stroke-linejoin="round" stroke-linecap="round"/>
<path d="M85.0,813.0L85.6,813.9 86.1,815.0 86.7,816.1 87.3,817.1 87.8,817.7 88.4,818.0 88.9,817.8 89.4,817.4 89.9,816.7 90.4,815.8 90.9,814.8 91.4,813.6 91.9,812.5 92.4,811.3 92.9,810.1 93.4,809.1 93.9,808.2 94.4,807.5 94.9,807.1 95.4,806.9 95.9,807.0 96.4,807.4 96.9,808.0 97.4,808.8 97.9,809.7 98.4,810.6 98.9,811.6 99.4,812.7 99.9,813.6 100.4,814.5 100.9,815.3 101.4,815.9 101.9,816.3 102.4,816.4 102.9,816.3 103.5,815.9 104.0,815.3 104.5,814.6 105.0,813.7 105.5,812.7 106.1,811.6 106.6,810.5 107.1,809.4 107.7,808.3 108.2,807.3 108.7,806.4 109.2,805.7 109.8,805.1 110.3,804.7 110.8,804.6 111.3,804.6 111.8,804.6 112.3,804.6 112.8,804.6 113.4,804.6 113.9,804.6 114.4,804.6 114.9,804.6 115.4,804.6 115.9,804.6 116.4,804.6 116.9,804.6 117.4,804.6 117.9,804.6 118.5,804.6 119.0,804.6 119.5,804.6 120.0,804.6 120.5,804.6 121.0,804.7 121.5,805.0 122.0,805.5 122.5,806.1 123.0,806.8 123.6,807.5 124.1,808.2 124.6,808.8 125.1,809.3 125.6,809.6 126.1,809.7 126.6,809.6 127.1,809.3 127.6,808.8 128.1,808.2 128.6,807.5 129.2,806.8 129.7,806.1 130.2,805.5 130.7,805.0 131.2,804.7 131.7,804.6 132.2,804.8 132.7,805.3 133.2,806.0 133.7,806.9 134.2,808.0 134.7,809.2 135.2,810.5 135.7,811.8 136.2,813.0 136.7,814.1 137.2,815.0 137.7,815.7 138.2,816.2 138.7,816.4 139.2,816.3 139.7,815.9 140.3,815.3 140.8,814.6 141.3,813.7 141.8,812.7 142.3,811.7 142.9,810.7 143.4,809.7 143.9,808.7 144.4,807.8 144.9,807.1 145.5,806.5 146.0,806.1 146.5,806.0 147.0,806.1 147.5,806.5 148.1,807.0 148.6,807.7 149.1,808.4 149.6,809.2 150.1,810.0 150.6,810.7 151.1,811.4 151.7,811.9 152.2,812.3 152.7,812.4 153.2,812.4 153.8,812.2 154.3,812.0 154.8,811.7 155.3,811.3 155.8,810.8 156.4,810.3 156.9,809.8 157.4,809.1 157.9,808.5 158.5,807.8 159.0,807.1 159.5,806.4 160.0,805.6 160.6,804.9 161.1,804.1 161.6,803.2 162.1,802.2 162.6,800.9 163.1,799.4 163.6,797.8 164.2,796.0 164.7,794.2 165.2,792.2 165.7,790.3 166.2,788.3 166.7,786.3 167.2,784.3 167.7,782.5 168.2,780.6 168.7,779.0 169.2,777.4 169.8,776.0 170.3,774.8 170.8,773.8 171.3,773.1 171.8,772.7 172.3,772.5 172.8,772.9 173.4,774.1 173.9,775.9 174.4,778.2 175.0,780.8 175.5,783.6 176.0,786.5 176.5,789.3 177.1,791.9 177.6,794.2 178.1,796.0 178.7,797.2 179.2,797.6 179.7,797.6 180.2,797.6 180.7,797.6 181.2,797.6 181.7,797.6 182.2,797.6 182.7,797.6 183.2,797.6 183.7,797.6 184.2,797.6 184.7,797.6 185.2,797.6 185.7,797.6 186.2,797.6 186.7,797.7 187.2,797.8 187.7,798.0 188.2,798.4 188.7,798.7 189.3,799.2 189.8,799.6 190.3,800.2 190.8,800.7 191.3,801.2 191.8,801.8 192.3,802.5 192.9,803.4 193.4,804.6 193.9,805.9 194.4,807.4 194.9,808.9 195.5,810.5 196.0,812.0 196.5,813.6 197.1,815.0 197.6,816.4 198.1,817.6 198.6,818.6 199.1,819.3 199.7,819.8 200.2,820.0 200.7,819.8 201.2,819.4 201.7,818.6 202.2,817.6 202.7,816.4 203.2,814.9 203.7,813.2 204.2,811.4 204.7,809.4 205.2,807.3 205.7,805.1 206.2,802.9 206.7,800.5 207.2,798.1 207.7,795.8 208.2,793.4 208.7,791.0 209.2,788.8 209.7,786.6 210.2,784.5 210.7,782.5 211.2,780.7 211.7,779.0 212.2,777.5 212.7,776.3 213.2,775.3 213.7,774.5 214.2,774.1 214.7,773.9 215.2,774.0 215.7,774.4 216.2,775.0 216.8,775.8 217.3,776.8 217.8,778.0 218.3,779.3 218.8,780.8 219.3,782.4 219.8,784.0 220.4,785.8 220.9,787.6 221.4,789.5 221.9,791.4 222.4,793.3 222.9,795.2 223.4,797.1 223.9,798.9 224.5,800.7 225.0,802.3 225.5,803.9 226.0,805.4 226.5,806.7 227.0,807.9 227.5,808.9 228.1,809.7 228.6,810.3 229.1,810.7 229.6,810.8 230.1,810.8 230.7,810.7 231.2,810.5 231.7,810.2 232.2,809.9 232.8,809.6 233.3,809.2 233.8,808.8 234.3,808.3 234.8,807.8 235.4,807.3 235.9,806.8 236.4,806.3 236.9,805.7 237.5,805.1 238.0,804.6 238.5,804.0 239.0,803.3 239.5,802.4 240.0,801.5 240.5,800.4 241.0,799.3 241.5,798.1 242.0,796.8 242.5,795.5 243.0,794.1 243.5,792.8 244.0,791.4 244.6,790.0 245.1,788.7 245.6,787.4 246.1,786.1 246.6,784.9 247.1,783.8 247.6,782.8 248.1,781.8 248.6,781.0 249.1,780.3 249.6,779.7 250.1,779.3 250.6,779.0 251.1,778.9 251.6,779.2 252.1,780.0 252.6,781.3 253.1,783.0 253.7,785.1 254.2,787.4 254.7,789.9 255.2,792.5 255.7,795.2 256.2,798.0 256.7,800.6 257.2,803.1 257.7,805.4 258.3,807.5 258.8,809.2 259.3,810.5 259.8,811.3 260.3,811.6 260.8,811.4 261.3,810.8 261.8,809.9 262.3,808.8 262.8,807.3 263.4,805.6 263.9,803.8 264.4,801.8 264.9,799.7 265.4,797.5 265.9,795.2 266.4,793.0 266.9,790.8 267.4,788.7 267.9,786.7 268.4,784.9 269.0,783.2 269.5,781.7 270.0,780.6 270.5,779.7 271.0,779.1 271.5,778.9 272.0,779.2 272.6,779.9 273.1,781.1 273.6,782.7 274.1,784.5 274.6,786.6 275.2,788.8 275.7,791.0 276.2,793.3 276.8,795.5 277.3,797.6 277.8,799.4 278.3,801.0 278.8,802.2 279.4,802.9 279.9,803.2 280.4,803.0 280.9,802.3 281.4,801.3 281.9,800.0 282.4,798.5 282.9,796.8 283.4,795.0 283.9,793.2 284.4,791.4 284.9,789.7 285.4,788.2 285.9,786.9 286.4,785.9 286.9,785.2 287.4,785.0 287.9,785.2 288.5,785.9 289.0,787.0 289.5,788.3 290.0,789.9 290.6,791.6 291.1,793.4 291.6,795.2 292.2,796.9 292.7,798.5 293.2,799.8 293.7,800.9 294.3,801.6 294.8,801.8 295.3,801.7 295.9,801.4 296.4,801.0 296.9,800.4 297.5,799.7 298.0,799.0 298.5,798.2 299.1,797.4 299.6,796.6 300.1,795.9 300.7,795.3 301.2,794.8 301.7,794.4 302.2,794.0 302.8,793.7 303.3,793.4 303.8,793.1 304.4,792.8 304.9,792.5 305.4,792.3 305.9,792.0 306.4,791.7 307.0,791.4 307.5,791.0 308.0,790.6 308.6,790.2 309.1,789.7 309.6,789.2 310.1,788.5 310.6,787.5 311.1,786.3 311.6,784.8 312.1,783.3 312.6,781.6 313.1,779.9 313.6,778.2 314.1,776.6 314.6,775.1 315.1,773.7 315.6,772.6 316.1,771.7 316.6,771.1 317.1,770.7 317.7,770.3 318.2,769.9 318.7,769.5 319.3,769.1 319.8,768.8 320.3,768.6 320.8,768.3 321.4,768.1 321.9,767.9 322.4,767.8 323.0,767.7 323.5,767.7 324.0,767.7 324.5,767.9 325.0,768.1 325.5,768.3 326.0,768.6 326.6,768.8 327.1,769.1 327.6,769.3 328.1,769.5 328.6,769.7 329.1,769.7 329.6,769.6 330.1,769.2 330.6,768.7 331.1,768.0 331.6,767.3 332.2,766.5 332.7,765.8 333.2,765.1 333.7,764.6 334.2,764.2 334.7,764.1 335.2,764.3 335.7,764.8 336.2,765.5 336.7,766.5 337.2,767.6 337.7,768.8 338.2,770.1 338.7,771.4 339.2,772.6 339.7,773.7 340.2,774.7 340.7,775.4 341.2,775.9 341.7,776.1 342.2,775.9 342.7,775.4 343.2,774.6 343.7,773.6 344.2,772.5 344.7,771.1 345.2,769.7 345.7,768.3 346.2,766.8 346.7,765.4 347.2,764.1 347.7,763.0 348.2,762.0 348.7,761.3 349.2,760.8 349.7,760.3 350.2,759.8 350.7,759.4 351.2,759.0 351.7,758.7 352.2,758.4 352.7,758.0 353.2,757.7 353.7,757.4 354.2,757.0 354.7,756.6 355.2,756.2 355.7,755.7 356.2,755.1 356.7,754.5 357.2,753.7 357.7,752.9 358.3,752.0 358.8,751.1 359.3,750.1 359.8,749.2 360.3,748.3 360.8,747.3 361.3,746.5 361.8,745.7 362.3,745.0 362.9,744.3 363.4,743.8 363.9,743.4 364.4,743.2 364.9,743.1 365.4,743.3 365.9,743.9 366.4,744.8 366.9,746.0 367.4,747.5 367.9,749.0 368.4,750.7 369.0,752.3 369.5,754.0 370.0,755.5 370.5,757.0 371.0,758.2 371.5,759.1 372.0,759.7 372.5,759.9 373.0,759.5 373.6,758.4 374.1,756.8 374.6,754.8 375.1,752.5 375.6,750.2 376.2,747.9 376.7,745.9 377.2,743.9 377.7,741.7 378.2,739.2 378.7,736.7 379.2,734.2 379.7,731.9 380.2,729.9 380.7,728.3 381.2,727.3 381.7,726.9 382.2,727.3 382.7,728.4 383.2,730.0 383.7,732.2 384.2,734.7 384.7,737.5 385.2,740.5 385.7,743.5 386.2,746.5 386.7,749.3 387.2,751.8 387.7,754.0 388.2,755.6 388.7,756.7 389.2,757.1 389.7,757.0 390.2,756.7 390.7,756.2 391.2,755.6 391.7,754.8 392.2,754.0 392.7,753.2 393.2,752.4 393.7,751.6 394.2,750.8 394.7,750.2 395.2,749.7 395.7,749.4 396.2,749.3 396.7,749.4 397.2,749.8 397.7,750.3 398.2,751.1 398.7,751.9 399.2,752.9 399.7,754.0 400.2,755.1 400.7,756.2 401.2,757.4 401.7,758.5 402.2,759.6 402.7,760.6 403.2,761.4 403.7,762.2 404.2,762.7 404.7,763.1 405.2,763.2 405.7,763.1 406.2,762.8 406.8,762.3 407.3,761.6 407.8,760.8 408.3,760.0 408.8,759.1 409.4,758.1 409.9,757.1 410.4,756.2 410.9,755.3 411.4,754.5 412.0,753.8 412.5,753.3 413.0,752.9 413.5,752.6 414.0,752.4 414.5,752.3 415.0,752.1 415.5,752.0 416.1,751.8 416.6,751.7 417.1,751.6 417.6,751.4 418.1,751.2 418.6,750.9 419.1,750.5 419.6,749.9 420.1,749.1 420.6,748.2 421.1,747.2 421.6,746.2 422.1,745.1 422.6,744.1 423.1,743.1 423.6,742.2 424.1,741.4 424.6,740.8 425.1,740.4 425.6,740.3 426.1,740.9 426.7,742.4 427.2,744.7 427.7,747.5 428.2,750.7 428.8,753.9 429.3,757.1 429.8,759.9 430.3,762.7 430.8,765.8 431.3,769.2 431.8,772.8 432.3,776.3 432.9,779.6 433.4,782.7 433.9,785.3 434.4,787.4 434.9,788.7 435.4,789.2 435.9,789.1 436.4,789.0 436.9,788.7 437.4,788.4 437.9,788.0 438.4,787.5 438.9,787.1 439.4,786.7 439.9,786.2 440.4,785.8 440.9,785.5 441.4,785.2 441.9,785.1 442.4,785.0 442.9,785.0 443.4,785.1 443.9,785.3 444.4,785.4 444.9,785.6 445.5,785.8 446.0,786.0 446.5,786.1 447.0,786.3 447.5,786.4 448.0,786.4 448.5,786.2 449.0,785.8 449.5,785.0 450.0,784.0 450.5,782.8 451.0,781.5 451.5,779.9 452.0,778.3 452.5,776.5 453.0,774.7 453.6,772.8 454.1,771.0 454.6,769.2 455.1,767.4 455.6,765.8 456.1,764.2 456.6,762.9 457.1,761.7 457.6,760.7 458.1,759.9 458.6,759.5 459.1,759.3 459.6,759.5 460.1,760.0 460.6,760.8 461.2,761.8 461.7,763.1 462.2,764.6 462.7,766.3 463.2,768.2 463.7,770.1 464.3,772.2 464.8,774.4 465.3,776.5 465.8,778.7 466.3,780.9 466.8,783.1 467.4,785.1 467.9,787.1 468.4,788.9 468.9,790.6 469.4,792.2 469.9,794.0 470.4,795.9 470.9,797.9 471.4,799.9 471.9,801.9 472.4,803.8 472.9,805.6 473.4,807.3 473.9,808.7 474.4,809.9 474.9,810.8 475.4,811.4 475.9,811.6 476.4,811.3 476.9,810.6 477.4,809.3 477.9,807.7 478.4,805.7 479.0,803.4 479.5,800.9 480.0,798.2 480.5,795.3 481.0,792.3 481.5,789.2 482.0,786.2 482.5,783.2 483.0,780.3 483.5,777.6 484.0,775.1 484.6,772.8 485.1,770.8 485.6,769.2 486.1,767.9 486.6,767.2 487.1,766.9 487.6,767.0 488.2,767.3 488.7,767.8 489.2,768.4 489.7,769.2 490.2,770.0 490.8,770.9 491.3,771.8 491.8,772.7 492.4,773.6 492.9,774.4 493.4,775.2 493.9,775.8 494.4,776.3 495.0,776.6 495.5,776.7 496.0,776.6 496.5,776.2 497.1,775.6 497.6,774.8 498.1,773.9 498.6,773.0 499.1,772.0 499.7,770.9 500.2,770.0 500.7,769.1 501.2,768.3 501.8,767.7 502.3,767.3 502.8,767.2 503.3,767.6 503.8,768.6 504.3,770.3 504.8,772.5 505.3,775.0 505.9,777.9 506.4,780.9 506.9,784.1 507.4,787.2 507.9,790.3 508.4,793.1 508.9,795.7 509.4,798.3 509.9,801.2 510.4,804.3 510.9,807.5 511.4,810.7 512.0,813.7 512.5,816.4 513.0,818.7 513.5,820.5 514.0,821.7 514.5,822.1 515.0,822.0 515.5,821.7 516.0,821.3 516.5,820.8 517.0,820.1 517.5,819.3 518.1,818.4 518.6,817.4 519.1,816.3 519.6,815.2 520.1,814.1 520.6,812.9 521.1,811.7 521.6,810.5 522.1,809.3 522.6,808.2 523.1,807.1 523.6,806.0 524.1,805.0 524.7,804.1 525.2,803.3 525.7,802.6 526.2,802.1 526.7,801.7 527.2,801.4 527.7,801.3 528.2,801.4 528.7,801.8 529.3,802.5 529.8,803.3 530.3,804.3 530.8,805.4 531.3,806.7 531.8,808.1 532.4,809.6 532.9,811.1 533.4,812.6 533.9,814.2 534.4,815.7 535.0,817.2 535.5,818.6 536.0,819.9 536.5,821.0 537.0,822.0 537.5,822.8 538.1,823.5 538.6,823.9 539.1,824.0 539.6,823.9 540.1,823.8 540.6,823.5 541.1,823.1 541.6,822.6 542.1,822.0 542.6,821.4 543.1,820.7 543.6,819.9 544.1,819.1 544.6,818.2 545.1,817.3 545.6,816.4 546.1,815.5 546.7,814.5 547.2,813.6 547.7,812.7 548.2,811.8 548.7,810.9 549.2,810.0 549.7,809.2 550.2,808.4 550.7,807.7 551.2,807.1 551.7,806.5 552.2,806.0 552.7,805.6 553.2,805.3 553.7,805.2 554.2,805.1 554.7,805.3 555.2,805.7 555.8,806.4 556.3,807.2 556.8,808.3 557.3,809.5 557.9,810.8 558.4,812.2 558.9,813.6 559.4,815.0 559.9,816.4 560.5,817.7 561.0,818.9 561.5,820.0 562.0,820.8 562.6,821.5 563.1,821.9 563.6,822.1 564.1,821.9 564.6,821.2 565.1,820.1 565.6,818.8 566.1,817.2 566.6,815.4 567.1,813.6 567.6,811.7 568.1,809.9 568.6,808.1 569.1,806.5 569.6,805.2 570.1,804.1 570.6,803.4 571.1,803.2 571.6,803.4 572.1,803.9 572.6,804.7 573.1,805.8 573.6,807.2 574.1,808.7 574.6,810.3 575.1,812.0 575.6,813.8 576.1,815.7 576.6,817.5 577.1,819.2 577.6,820.8 578.1,822.3 578.6,823.7 579.1,824.8 579.6,825.6 580.1,826.1 580.6,826.3 581.1,826.3 581.6,826.3 582.1,826.3 582.6,826.3 583.1,826.3 583.6,826.3 584.1,826.3 584.6,826.3 585.1,826.3 585.6,826.3 586.2,826.3 586.7,826.3 587.2,826.3 587.7,826.3 588.2,826.3 588.7,826.3 589.2,826.3 589.7,826.3 590.2,826.3 590.7,826.3 591.2,826.3 591.7,826.3 592.2,826.3 592.7,826.3 593.2,826.3 593.7,826.3 594.2,826.3 594.7,826.3 595.2,826.3 595.7,826.3 596.2,826.3 596.7,826.3 597.3,826.3 597.8,826.3 598.3,826.3 598.8,826.3 599.3,826.3 599.8,826.3 600.3,826.3 600.8,826.3 601.3,826.3 601.8,826.3 602.3,826.3 602.8,826.3 603.3,826.3 603.8,826.3 604.3,826.3 604.8,826.3 605.3,826.3 605.8,826.3 606.3,826.3 606.8,826.3 607.3,826.3 607.9,826.3 608.4,826.3 608.9,826.3 609.4,826.3 609.9,826.3 610.4,826.3 610.9,826.3 611.4,826.3 611.9,826.3 612.4,826.3 612.9,826.3 613.4,826.3 613.9,826.3 614.4,826.3 614.9,826.3 615.4,826.3 615.9,826.3 616.4,826.3 616.9,826.3 617.4,826.3 617.9,826.3 618.4,826.3 619.0,826.3 619.5,826.3 620.0,826.3 620.5,826.3 621.0,826.3 621.5,826.3 622.0,826.3 622.5,826.3 623.0,826.3 623.5,826.3 624.0,826.3 624.5,826.1 625.0,825.5 625.6,824.6 626.1,823.4 626.6,821.9 627.1,820.3 627.7,818.5 628.2,816.7 628.7,814.8 629.2,812.8 629.7,811.0 630.3,809.2 630.8,807.6 631.3,806.1 631.8,804.9 632.4,804.0 632.9,803.4 633.4,803.2 633.9,803.4 634.4,803.9 635.0,804.7 635.5,805.8 636.0,807.1 636.5,808.6 637.1,810.2 637.6,811.9 638.1,813.6 638.6,815.3 639.1,817.0 639.7,818.6 640.2,820.1 640.7,821.4 641.2,822.5 641.8,823.3 642.3,823.8 642.8,824.0 643.3,824.0 643.8,823.9 644.3,823.7 644.8,823.5 645.3,823.2 645.8,822.9 646.4,822.5 646.9,822.1 647.4,821.7 647.9,821.2 648.4,820.6 648.9,820.1 649.4,819.5 649.9,818.9 650.4,818.3 650.9,817.6 651.4,816.9 651.9,816.3 652.4,815.6 652.9,814.9 653.5,814.2 654.0,813.5 654.5,812.8 655.0,812.2 655.5,811.5 656.0,810.8 656.5,810.2 657.0,809.6 657.5,809.0 658.0,808.5 658.5,807.9 659.0,807.4 659.5,807.0 660.0,806.6 660.6,806.2 661.1,805.9 661.6,805.6 662.1,805.4 662.6,805.2 663.1,805.1 663.6,805.1 664.1,805.2 664.6,805.5 665.1,806.1 665.7,806.7 666.2,807.6 666.7,808.6 667.2,809.6 667.7,810.8 668.2,812.0 668.7,813.3 669.2,814.5 669.8,815.8 670.3,817.1 670.8,818.3 671.3,819.5 671.8,820.5 672.3,821.5 672.8,822.4 673.4,823.0 673.9,823.6 674.4,823.9 674.9,824.0 675.4,823.9 675.9,823.7 676.4,823.3 676.9,822.8 677.4,822.2 677.9,821.4 678.5,820.6 679.0,819.7 679.5,818.8 680.0,817.8 680.5,816.7 681.0,815.6 681.5,814.5 682.0,813.5 682.5,812.4 683.0,811.3 683.5,810.3 684.0,809.4 684.5,808.5 685.1,807.7 685.6,806.9 686.1,806.3 686.6,805.8 687.1,805.4 687.6,805.2 688.1,805.1 688.6,805.2 689.1,805.3 689.6,805.6 690.1,806.0 690.6,806.5 691.1,807.1 691.6,807.7 692.1,808.4 692.6,809.2 693.1,810.0 693.6,810.9 694.1,811.8 694.6,812.7 695.1,813.6 695.7,814.5 696.2,815.5 696.7,816.4 697.2,817.3 697.7,818.2 698.2,819.1 698.7,819.9 699.2,820.7 699.7,821.4 700.2,822.0 700.7,822.6 701.2,823.1 701.7,823.5 702.2,823.8 702.7,823.9 703.2,824.0 703.7,823.9 704.2,823.5 704.7,822.9 705.2,822.1 705.7,821.1 706.2,819.9 706.8,818.6 707.3,817.1 707.8,815.5 708.3,813.8 708.8,812.1 709.3,810.2 709.8,808.3 710.3,806.4 710.8,804.5 711.3,802.6 711.8,800.7 712.3,798.9 712.8,797.1 713.4,795.5 713.9,793.9 714.4,792.4 714.9,791.1 715.4,789.9 715.9,788.9 716.4,788.1 716.9,787.4 717.4,786.8 717.9,786.2 718.4,785.7 718.9,785.2 719.4,784.8 719.9,784.3 720.5,783.9 721.0,783.4 721.5,783.0 722.0,782.6 722.5,782.1 723.0,781.6 723.5,781.1 724.0,780.6 724.5,780.0 725.0,779.3 725.6,778.5 726.1,777.7 726.6,776.8 727.1,775.9 727.7,775.0 728.2,774.1 728.7,773.2 729.2,772.4 729.7,771.6 730.3,770.9 730.8,770.2 731.3,769.6 731.8,769.2 732.4,768.8 732.9,768.6 733.4,768.5 733.9,768.7 734.4,769.1 734.9,769.9 735.4,770.8 735.9,772.0 736.4,773.3 736.9,774.8 737.5,776.4 738.0,778.0 738.5,779.7 739.0,781.4 739.5,783.0 740.0,784.6 740.5,786.1 741.0,787.4" fill="none" stroke="#00f000" stroke-width="3.5" stroke-linejoin="round" stroke-linecap="round"/>
<path d="M85.0,959.2L85.5,960.2 86.0,961.2 86.5,962.4 87.0,963.6 87.5,964.8 88.1,965.9 88.6,966.9 89.1,967.7 89.6,968.4 90.1,968.8 90.6,969.0 91.1,968.8 91.6,968.3 92.2,967.5 92.7,966.5 93.2,965.2 93.8,963.9 94.3,962.4 94.8,960.9 95.3,959.4 95.8,957.9 96.4,956.6 96.9,955.3 97.4,954.3 98.0,953.5 98.5,953.0 99.0,952.8 99.5,952.9 100.0,953.3 100.5,953.9 101.1,954.7 101.6,955.5 102.1,956.4 102.6,957.3 103.1,958.1 103.7,958.9 104.2,959.5 104.7,959.9 105.2,960.0 105.7,959.9 106.2,959.6 106.8,959.1 107.3,958.5 107.8,957.8 108.3,957.1 108.8,956.3 109.4,955.4 109.9,954.6 110.4,953.9 110.9,953.2 111.4,952.6 112.0,952.1 112.5,951.8 113.0,951.7 113.5,951.8 114.0,952.0 114.6,952.4 115.1,952.8 115.6,953.3 116.1,953.7 116.7,954.1 117.2,954.3 117.7,954.4 118.2,954.3 118.7,954.1 119.2,953.7 119.7,953.3 120.2,952.8 120.8,952.4 121.3,951.9 121.8,951.5 122.3,951.1 122.8,950.9 123.3,950.8 123.8,950.9 124.3,951.2 124.9,951.7 125.4,952.2 125.9,952.7 126.5,953.2 127.0,953.5 127.5,953.6 128.0,953.6 128.5,953.5 129.0,953.3 129.5,953.2 130.0,953.0 130.6,952.8 131.1,952.6 131.6,952.5 132.1,952.3 132.6,952.2 133.1,952.2 133.6,952.3 134.2,952.6 134.7,953.0 135.2,953.6 135.7,954.2 136.2,955.0 136.8,955.7 137.3,956.4 137.8,957.3 138.4,958.4 138.9,959.8 139.4,961.3 140.0,962.9 140.5,964.5 141.0,966.0 141.6,967.4 142.1,968.6 142.6,969.6 143.2,970.2 143.7,970.4 144.2,970.2 144.7,969.6 145.2,968.7 145.7,967.5 146.2,966.1 146.7,964.5 147.2,962.9 147.8,961.2 148.3,959.5 148.8,957.9 149.3,956.4 149.8,955.1 150.3,954.0 150.8,953.2 151.3,952.8 151.8,952.6 152.4,952.4 152.9,952.2 153.4,952.1 153.9,951.9 154.4,951.8 155.0,951.7 155.5,951.6 156.0,951.5 156.6,951.4 157.1,951.3 157.6,951.2 158.1,951.1 158.6,951.0 159.2,950.9 159.7,950.8 160.2,950.7 160.7,950.6 161.2,950.5 161.7,950.4 162.2,950.4 162.7,950.3 163.2,950.2 163.7,950.1 164.2,950.1 164.7,950.0 165.2,949.8 165.7,949.7 166.2,949.6 166.7,949.4 167.2,949.0 167.7,948.3 168.3,947.2 168.8,945.8 169.3,944.3 169.8,942.5 170.4,940.7 170.9,938.8 171.4,936.8 171.9,934.9 172.5,933.1 173.0,931.5 173.5,930.0 174.0,928.8 174.6,927.8 175.1,927.2 175.6,927.0 176.1,927.1 176.6,927.5 177.1,928.2 177.6,929.0 178.1,930.0 178.6,931.1 179.1,932.4 179.6,933.7 180.1,935.1 180.6,936.5 181.2,938.0 181.7,939.4 182.2,940.7 182.7,942.0 183.2,943.1 183.7,944.1 184.2,944.9 184.7,945.6 185.2,946.0 185.7,946.1 186.2,946.0 186.8,945.7 187.3,945.2 187.8,944.6 188.3,943.9 188.8,943.2 189.4,942.3 189.9,941.5 190.4,940.6 190.9,939.7 191.5,939.0 192.0,938.3 192.5,937.7 193.0,937.2 193.6,936.9 194.1,936.8 194.6,937.0 195.1,937.6 195.6,938.5 196.1,939.7 196.6,941.1 197.1,942.8 197.6,944.5 198.1,946.4 198.6,948.4 199.1,950.4 199.6,952.4 200.1,954.3 200.6,956.0 201.1,957.7 201.6,959.1 202.1,960.3 202.6,961.2 203.1,961.8 203.6,962.0 204.1,961.8 204.6,961.3 205.1,960.4 205.6,959.3 206.1,957.9 206.6,956.3 207.1,954.5 207.6,952.6 208.1,950.5 208.6,948.3 209.1,946.1 209.6,943.9 210.1,941.6 210.6,939.4 211.1,937.2 211.6,935.1 212.1,933.2 212.6,931.4 213.1,929.8 213.6,928.4 214.1,927.3 214.6,926.4 215.1,925.9 215.6,925.7 216.1,925.8 216.7,926.1 217.2,926.6 217.7,927.3 218.2,928.1 218.8,929.0 219.3,930.0 219.8,931.2 220.3,932.3 220.8,933.6 221.4,934.9 221.9,936.1 222.4,937.4 222.9,938.7 223.5,939.9 224.0,941.0 224.5,942.2 225.0,943.5 225.5,944.9 226.1,946.4 226.6,948.0 227.1,949.7 227.6,951.4 228.1,953.2 228.6,954.9 229.2,956.5 229.7,958.2 230.2,959.7 230.7,961.2 231.2,962.5 231.7,963.7 232.2,964.7 232.8,965.6 233.3,966.2 233.8,966.6 234.3,966.7 234.8,966.5 235.3,965.8 235.8,964.8 236.3,963.4 236.8,961.7 237.4,959.7 237.9,957.5 238.4,955.2 238.9,952.7 239.4,950.2 239.9,947.5 240.4,944.9 240.9,942.4 241.4,939.9 241.9,937.6 242.4,935.4 243.0,933.4 243.5,931.7 244.0,930.3 244.5,929.3 245.0,928.6 245.5,928.4 246.0,928.5 246.5,928.7 247.0,928.9 247.5,929.3 248.1,929.8 248.6,930.4 249.1,931.0 249.6,931.7 250.1,932.5 250.6,933.3 251.1,934.1 251.6,934.9 252.1,935.7 252.7,936.6 253.2,937.4 253.7,938.2 254.2,938.9 254.7,939.6 255.2,940.3 255.7,941.1 256.2,942.0 256.8,942.9 257.3,943.8 257.8,944.8 258.3,945.8 258.8,946.8 259.3,947.7 259.9,948.7 260.4,949.6 260.9,950.4 261.4,951.2 261.9,951.9 262.4,952.5 263.0,952.9 263.5,953.3 264.0,953.5 264.5,953.6 265.0,953.5 265.6,953.2 266.1,952.6 266.6,952.0 267.1,951.2 267.6,950.2 268.2,949.2 268.7,948.2 269.2,947.1 269.8,946.0 270.3,945.0 270.8,944.0 271.3,943.0 271.8,942.2 272.4,941.5 272.9,941.0 273.4,940.6 273.9,940.2 274.5,939.9 275.0,939.6 275.5,939.3 276.1,939.1 276.6,938.8 277.1,938.6 277.6,938.4 278.1,938.1 278.7,937.9 279.2,937.6 279.7,937.3 280.2,936.9 280.8,936.5 281.3,936.0 281.8,935.4 282.3,934.4 282.8,933.2 283.3,931.9 283.8,930.4 284.3,928.8 284.8,927.2 285.3,925.7 285.8,924.2 286.3,922.9 286.8,921.7 287.3,920.9 287.8,920.3 288.3,920.1 288.8,920.2 289.3,920.6 289.9,921.2 290.4,922.0 290.9,922.9 291.4,923.9 292.0,925.0 292.5,926.0 293.0,927.0 293.5,927.9 294.0,928.7 294.6,929.3 295.1,929.7 295.6,929.8 296.1,929.8 296.6,929.7 297.1,929.6 297.6,929.5 298.1,929.4 298.6,929.2 299.1,929.1 299.6,929.0 300.1,928.8 300.6,928.7 301.1,928.6 301.6,928.5 302.1,928.4 302.6,928.4 303.1,928.4 303.6,928.5 304.1,928.6 304.6,928.8 305.1,929.0 305.6,929.2 306.1,929.4 306.6,929.6 307.1,929.8 307.6,930.0 308.1,930.2 308.6,930.3 309.1,930.4 309.6,930.4 310.1,930.3 310.6,929.9 311.1,929.3 311.6,928.6 312.1,927.8 312.6,926.9 313.1,926.0 313.6,925.0 314.1,924.1 314.6,923.3 315.1,922.6 315.6,922.0 316.1,921.6 316.6,921.5 317.1,921.6 317.6,921.9 318.2,922.3 318.7,922.9 319.2,923.6 319.7,924.3 320.2,925.1 320.8,926.0 321.3,926.8 321.8,927.6 322.3,928.3 322.8,929.0 323.3,929.6 323.9,930.0 324.4,930.3 324.9,930.4 325.4,930.3 325.9,930.2 326.5,929.9 327.0,929.6 327.5,929.1 328.1,928.6 328.6,928.1 329.1,927.5 329.6,926.9 330.1,926.3 330.7,925.7 331.2,925.1 331.7,924.5 332.2,923.9 332.8,923.4 333.3,922.9 333.8,922.5 334.3,922.1 334.8,921.8 335.3,921.4 335.8,921.1 336.3,920.7 336.8,920.4 337.3,920.0 337.8,919.7 338.3,919.3 338.8,918.8 339.3,918.4 339.8,917.9 340.3,917.3 340.8,916.5 341.3,915.5 341.8,914.3 342.4,912.9 342.9,911.3 343.4,909.6 343.9,907.9 344.4,906.0 344.9,904.2 345.5,902.3 346.0,900.5 346.5,898.8 347.0,897.3 347.5,895.8 348.0,894.6 348.6,893.5 349.1,892.8 349.6,892.3 350.1,892.1 350.6,892.3 351.1,892.8 351.6,893.5 352.1,894.5 352.6,895.6 353.1,896.8 353.6,898.1 354.1,899.4 354.6,900.6 355.1,901.7 355.6,902.7 356.1,903.4 356.6,903.9 357.1,904.1 357.6,903.9 358.1,903.2 358.6,902.2 359.1,901.0 359.6,899.6 360.1,898.1 360.7,896.6 361.2,895.2 361.7,894.0 362.2,893.0 362.7,892.3 363.2,892.1 363.7,892.1 364.2,892.2 364.7,892.3 365.2,892.4 365.8,892.5 366.3,892.7 366.8,892.8 367.3,892.9 367.8,893.0 368.3,893.0 368.8,892.9 369.3,892.6 369.8,892.1 370.3,891.5 370.8,890.8 371.3,890.0 371.8,889.2 372.3,888.3 372.8,887.5 373.3,886.7 373.8,886.0 374.3,885.4 374.8,884.9 375.3,884.6 375.8,884.4 376.3,884.2 376.8,884.0 377.3,883.8 377.9,883.6 378.4,883.5 378.9,883.3 379.4,883.2 379.9,883.0 380.4,882.9 380.9,882.8 381.4,882.7 381.9,882.6 382.4,882.5 383.0,882.4 383.5,882.4 384.0,882.3 384.5,882.3 385.0,882.3 385.5,882.4 386.0,882.8 386.5,883.3 387.0,884.0 387.5,884.9 388.0,885.9 388.5,887.0 389.0,888.1 389.5,889.3 390.0,890.5 390.5,891.7 391.0,892.8 391.5,893.9 392.0,894.9 392.5,895.9 393.0,897.0 393.5,898.2 394.1,899.4 394.6,900.7 395.1,902.0 395.6,903.3 396.1,904.6 396.6,905.9 397.2,907.1 397.7,908.3 398.2,909.4 398.7,910.4 399.2,911.3 399.7,912.1 400.3,912.7 400.8,913.2 401.3,913.5 401.8,913.6 402.3,913.5 402.8,913.2 403.3,912.8 403.8,912.3 404.3,911.6 404.8,911.0 405.3,910.2 405.8,909.5 406.3,908.9 406.8,908.2 407.3,907.7 407.8,907.3 408.3,907.0 408.8,906.9 409.3,907.0 409.8,907.2 410.3,907.5 410.8,907.9 411.3,908.3 411.8,908.8 412.3,909.3 412.8,909.8 413.3,910.3 413.8,910.7 414.3,911.1 414.8,911.4 415.3,911.6 415.8,911.7 416.3,911.5 416.8,911.1 417.3,910.4 417.8,909.4 418.3,908.2 418.9,906.8 419.4,905.3 419.9,903.7 420.4,901.9 420.9,900.1 421.4,898.2 421.9,896.4 422.4,894.5 422.9,892.7 423.4,890.9 423.9,889.3 424.4,887.8 425.0,886.4 425.5,885.2 426.0,884.2 426.5,883.5 427.0,883.1 427.5,882.9 428.0,883.2 428.5,884.0 429.0,885.3 429.5,887.0 430.0,889.0 430.5,891.3 431.0,893.9 431.5,896.6 432.0,899.4 432.5,902.2 433.0,905.0 433.5,907.7 434.0,910.3 434.5,913.1 435.0,916.5 435.5,920.3 436.0,924.3 436.5,928.3 437.1,932.2 437.6,935.7 438.1,938.8 438.6,941.2 439.1,942.7 439.6,943.3 440.1,943.1 440.6,942.7 441.1,941.9 441.6,941.0 442.1,939.8 442.6,938.4 443.1,936.9 443.6,935.2 444.1,933.5 444.6,931.7 445.1,929.8 445.7,928.0 446.2,926.2 446.7,924.5 447.2,922.8 447.7,921.3 448.2,919.9 448.7,918.7 449.2,917.8 449.7,917.0 450.2,916.6 450.7,916.4 451.2,916.6 451.7,917.1 452.2,917.9 452.7,919.0 453.2,920.2 453.7,921.6 454.2,923.1 454.8,924.5 455.3,926.0 455.8,927.4 456.3,928.6 456.8,929.7 457.3,930.5 457.8,931.0 458.3,931.2 458.8,931.0 459.3,930.5 459.8,929.8 460.3,928.7 460.9,927.5 461.4,926.1 461.9,924.6 462.4,923.1 462.9,921.5 463.4,919.8 463.9,918.3 464.4,916.8 464.9,915.4 465.5,914.2 466.0,913.1 466.5,912.4 467.0,911.9 467.5,911.7 468.0,911.9 468.5,912.7 469.0,913.8 469.5,915.3 470.0,917.1 470.6,919.2 471.1,921.5 471.6,924.1 472.1,926.7 472.6,929.5 473.1,932.2 473.6,935.0 474.1,937.8 474.6,940.4 475.1,943.0 475.6,945.3 476.2,947.4 476.7,949.2 477.2,950.7 477.7,951.8 478.2,952.6 478.7,952.8 479.2,952.4 479.7,951.4 480.2,949.9 480.8,947.8 481.3,945.3 481.8,942.4 482.3,939.3 482.8,936.0 483.3,932.6 483.9,929.1 484.4,925.7 484.9,922.4 485.4,919.3 485.9,916.4 486.4,913.9 487.0,911.8 487.5,910.3 488.0,909.3 488.5,908.9 489.0,909.1 489.5,909.8 490.0,910.9 490.5,912.3 491.1,914.1 491.6,916.0 492.1,918.1 492.6,920.4 493.1,922.8 493.6,925.1 494.1,927.5 494.6,929.8 495.1,931.9 495.6,933.8 496.2,935.6 496.7,937.0 497.2,938.1 497.7,938.8 498.2,939.0 498.7,938.7 499.2,937.7 499.7,936.2 500.2,934.3 500.7,932.0 501.2,929.5 501.7,926.8 502.2,924.2 502.7,921.5 503.2,919.0 503.7,916.7 504.2,914.8 504.7,913.3 505.2,912.3 505.7,912.0 506.2,912.6 506.8,914.4 507.3,916.9 507.8,920.2 508.4,923.8 508.9,927.6 509.4,931.3 510.0,934.8 510.5,937.7 511.0,940.2 511.5,942.9 512.0,945.7 512.5,948.6 513.0,951.5 513.5,954.3 514.0,957.1 514.5,959.6 515.0,961.9 515.5,964.0 516.0,965.6 516.5,966.9 517.0,967.7 517.5,968.0 518.0,967.9 518.5,967.7 519.0,967.3 519.5,966.8 520.0,966.1 520.5,965.4 521.0,964.6 521.5,963.7 522.0,962.7 522.5,961.7 523.0,960.6 523.5,959.5 524.0,958.5 524.5,957.4 525.0,956.3 525.5,955.3 526.0,954.3 526.5,953.4 527.0,952.6 527.5,951.9 528.0,951.2 528.5,950.7 529.0,950.3 529.5,950.1 530.0,950.0 530.5,950.1 531.0,950.3 531.5,950.7 532.0,951.2 532.5,951.9 533.0,952.6 533.5,953.4 534.1,954.4 534.6,955.4 535.1,956.5 535.6,957.6 536.1,958.7 536.6,959.9 537.1,961.1 537.6,962.4 538.1,963.6 538.6,964.8 539.1,965.9 539.6,967.0 540.1,968.1 540.6,969.1 541.2,970.1 541.7,970.9 542.2,971.6 542.7,972.3 543.2,972.8 543.7,973.2 544.2,973.4 544.7,973.5 545.2,973.4 545.7,973.2 546.2,972.7 546.7,972.2 547.2,971.5 547.7,970.7 548.3,969.8 548.8,968.8 549.3,967.8 549.8,966.7 550.3,965.5 550.8,964.3 551.3,963.1 551.8,962.0 552.3,960.8 552.8,959.6 553.3,958.5 553.8,957.5 554.3,956.5 554.9,955.6 555.4,954.8 555.9,954.1 556.4,953.6 556.9,953.1 557.4,952.9 557.9,952.8 558.4,953.0 558.9,953.4 559.4,954.2 559.9,955.1 560.4,956.2 560.9,957.4 561.4,958.7 562.0,960.1 562.5,961.4 563.0,962.6 563.5,963.7 564.0,964.6 564.5,965.4 565.0,965.8 565.5,966.0 566.0,965.7 566.5,964.9 567.1,963.7 567.6,962.2 568.1,960.4 568.6,958.5 569.2,956.5 569.7,954.6 570.2,952.8 570.7,951.3 571.3,950.1 571.8,949.3 572.3,949.0 572.8,949.2 573.3,949.7 573.8,950.5 574.3,951.6 574.8,952.9 575.4,954.4 575.9,956.1 576.4,957.9 576.9,959.7 577.4,961.6 577.9,963.5 578.4,965.3 578.9,967.1 579.4,968.8 580.0,970.3 580.5,971.6 581.0,972.7 581.5,973.5 582.0,974.0 582.5,974.2 583.0,974.2 583.5,974.2 584.0,974.2 584.5,974.2 585.0,974.2 585.5,974.2 586.0,974.2 586.5,974.2 587.0,974.2 587.5,974.2 588.0,974.2 588.5,974.2 589.0,974.2 589.5,974.2 590.0,974.2 590.5,974.2 591.0,974.2 591.5,974.2 592.1,974.2 592.6,974.2 593.1,974.2 593.6,974.2 594.1,974.2 594.6,974.2 595.1,974.2 595.6,974.2 596.1,974.2 596.6,974.2 597.1,974.2 597.6,974.2 598.1,974.2 598.6,974.2 599.1,974.2 599.6,974.2 600.1,974.2 600.6,974.2 601.1,974.2 601.6,974.2 602.1,974.2 602.6,974.2 603.1,974.2 603.6,974.2 604.1,974.2 604.6,974.2 605.1,974.2 605.6,974.2 606.1,974.2 606.6,974.2 607.1,974.2 607.6,974.2 608.1,974.2 608.6,974.2 609.1,974.2 609.6,974.2 610.1,974.2 610.6,974.2 611.2,974.2 611.7,974.2 612.2,974.2 612.7,974.2 613.2,974.2 613.7,974.2 614.2,974.2 614.7,974.2 615.2,974.2 615.7,974.2 616.2,974.2 616.7,974.2 617.2,974.2 617.7,974.2 618.2,974.2 618.7,974.2 619.2,974.2 619.7,974.2 620.2,974.2 620.7,974.0 621.2,973.4 621.8,972.5 622.3,971.3 622.8,969.8 623.3,968.2 623.9,966.4 624.4,964.5 624.9,962.5 625.4,960.6 625.9,958.7 626.5,956.9 627.0,955.3 627.5,953.8 628.0,952.6 628.6,951.7 629.1,951.1 629.6,950.9 630.1,951.0 630.6,951.4 631.1,952.0 631.7,952.9 632.2,953.9 632.7,955.0 633.2,956.3 633.7,957.7 634.2,959.2 634.7,960.7 635.2,962.2 635.8,963.7 636.3,965.2 636.8,966.7 637.3,968.1 637.8,969.4 638.3,970.5 638.8,971.5 639.4,972.4 639.9,973.0 640.4,973.4 640.9,973.5 641.4,973.5 641.9,973.4 642.4,973.2 642.9,973.0 643.4,972.8 643.9,972.5 644.4,972.2 644.9,971.8 645.4,971.3 645.9,970.9 646.4,970.4 647.0,969.9 647.5,969.3 648.0,968.7 648.5,968.1 649.0,967.5 649.5,966.9 650.0,966.2 650.5,965.5 651.0,964.9 651.5,964.2 652.0,963.5 652.5,962.8 653.0,962.1 653.5,961.4 654.0,960.8 654.5,960.1 655.0,959.4 655.5,958.8 656.0,958.2 656.5,957.6 657.0,957.0 657.5,956.4 658.1,955.9 658.6,955.4 659.1,955.0 659.6,954.5 660.1,954.1 660.6,953.8 661.1,953.5 661.6,953.3 662.1,953.1 662.6,952.9 663.1,952.8 663.6,952.8 664.1,952.9 664.6,953.3 665.1,953.8 665.7,954.6 666.2,955.5 666.7,956.6 667.2,957.8 667.7,959.0 668.2,960.4 668.7,961.7 669.2,963.1 669.8,964.6 670.3,965.9 670.8,967.3 671.3,968.5 671.8,969.7 672.3,970.8 672.8,971.7 673.4,972.5 673.9,973.0 674.4,973.4 674.9,973.5 675.4,973.5 675.9,973.3 676.4,973.1 676.9,972.8 677.5,972.5 678.0,972.0 678.5,971.6 679.0,971.0 679.5,970.4 680.0,969.8 680.5,969.1 681.0,968.4 681.5,967.6 682.1,966.9 682.6,966.1 683.1,965.2 683.6,964.4 684.1,963.6 684.6,962.7 685.1,961.9 685.6,961.1 686.1,960.2 686.6,959.4 687.2,958.7 687.7,957.9 688.2,957.2 688.7,956.5 689.2,955.9 689.7,955.3 690.2,954.7 690.7,954.3 691.2,953.8 691.8,953.5 692.3,953.2 692.8,953.0 693.3,952.8 693.8,952.8 694.3,952.9 694.8,953.3 695.3,953.8 695.9,954.6 696.4,955.5 696.9,956.6 697.4,957.8 697.9,959.0 698.4,960.4 698.9,961.7 699.5,963.1 700.0,964.6 700.5,965.9 701.0,967.3 701.5,968.5 702.0,969.7 702.5,970.8 703.0,971.7 703.6,972.5 704.1,973.0 704.6,973.4 705.1,973.5 705.6,973.4 706.1,973.0 706.6,972.5 707.1,971.7 707.6,970.8 708.1,969.7 708.7,968.4 709.2,967.1 709.7,965.6 710.2,964.0 710.7,962.3 711.2,960.5 711.7,958.7 712.2,956.9 712.7,955.0 713.2,953.2 713.7,951.3 714.2,949.5 714.7,947.7 715.3,946.0 715.8,944.3 716.3,942.7 716.8,941.3 717.3,939.9 717.8,938.7 718.3,937.7 718.8,936.7 719.3,935.7 719.8,934.7 720.3,933.7 720.8,932.6 721.3,931.6 721.8,930.7 722.3,929.8 722.8,928.9 723.3,928.2 723.8,927.6 724.3,927.0 724.8,926.6 725.3,926.4 725.8,926.3 726.3,926.4 726.8,926.6 727.3,926.9 727.8,927.2 728.3,927.7 728.8,928.3 729.3,928.8 729.8,929.5 730.3,930.1 730.8,930.8 731.3,931.4 731.8,932.1 732.3,932.6 732.8,933.2 733.3,933.7 733.8,934.0 734.3,934.3 734.8,934.5 735.3,934.6 735.8,934.6 736.3,934.5 736.9,934.4 737.4,934.3 737.9,934.2 738.4,934.0 738.9,933.8 739.5,933.6 740.0,933.4 740.5,933.2 741.0,933.0 741.5,932.8 742.0,932.6 742.6,932.4 743.1,932.2 743.6,932.0" fill="none" stroke="#ee0000" stroke-width="3.5" stroke-linejoin="round" stroke-linecap="round"/>
<path d="M85.0,1105.2L85.5,1104.3 86.0,1103.3 86.5,1102.3 87.0,1101.2 87.5,1100.1 88.0,1098.9 88.5,1097.8 89.0,1096.7 89.5,1095.6 90.0,1094.5 90.5,1093.6 91.0,1092.7 91.5,1091.8 92.0,1091.2 92.5,1090.6 93.0,1090.2 93.5,1089.9 94.0,1089.8 94.5,1090.0 95.0,1090.4 95.6,1091.1 96.1,1092.0 96.6,1093.0 97.2,1094.2 97.7,1095.5 98.2,1096.8 98.7,1098.1 99.2,1099.4 99.8,1100.6 100.3,1101.6 100.8,1102.5 101.4,1103.2 101.9,1103.6 102.4,1103.8 102.9,1103.6 103.4,1103.0 103.9,1102.0 104.4,1100.7 104.9,1099.1 105.4,1097.3 105.9,1095.2 106.4,1093.1 106.9,1090.8 107.4,1088.5 108.0,1086.1 108.5,1083.8 109.0,1081.5 109.5,1079.4 110.0,1077.3 110.5,1075.5 111.0,1073.9 111.5,1072.6 112.0,1071.6 112.5,1071.0 113.0,1070.8 113.5,1071.0 114.0,1071.8 114.5,1072.8 115.0,1074.2 115.5,1075.9 116.0,1077.7 116.5,1079.6 117.0,1081.6 117.5,1083.5 118.0,1085.3 118.5,1087.0 119.0,1088.4 119.5,1089.4 120.0,1090.2 120.5,1090.4 121.0,1090.3 121.5,1090.1 122.0,1089.8 122.6,1089.3 123.1,1088.8 123.6,1088.2 124.1,1087.6 124.6,1086.9 125.2,1086.2 125.7,1085.5 126.2,1084.8 126.7,1084.2 127.2,1083.6 127.7,1083.1 128.2,1082.6 128.8,1082.3 129.3,1082.1 129.8,1082.0 130.3,1082.1 130.8,1082.3 131.4,1082.5 131.9,1082.9 132.4,1083.4 132.9,1083.9 133.5,1084.4 134.0,1085.0 134.5,1085.6 135.0,1086.4 135.5,1087.4 136.0,1088.7 136.5,1090.2 137.0,1091.7 137.6,1093.2 138.1,1094.6 138.6,1095.8 139.1,1096.8 139.6,1097.5 140.1,1097.7 140.6,1097.5 141.2,1097.1 141.7,1096.5 142.2,1095.7 142.8,1094.7 143.3,1093.8 143.8,1092.8 144.4,1091.8 144.9,1091.0 145.4,1090.4 146.0,1090.0 146.5,1089.8 147.0,1089.9 147.5,1090.2 148.0,1090.6 148.6,1091.2 149.1,1091.8 149.6,1092.5 150.1,1093.3 150.6,1094.0 151.1,1094.6 151.7,1095.2 152.2,1095.6 152.7,1095.9 153.2,1096.0 153.7,1095.9 154.3,1095.6 154.8,1095.1 155.3,1094.5 155.8,1093.8 156.4,1093.0 156.9,1092.2 157.4,1091.4 157.9,1090.6 158.5,1089.8 159.0,1089.1 159.5,1088.5 160.0,1088.0 160.6,1087.7 161.1,1087.6 161.6,1087.8 162.2,1088.2 162.7,1088.7 163.2,1089.4 163.7,1090.1 164.2,1090.6 164.8,1091.0 165.3,1091.2 165.8,1091.0 166.3,1090.3 166.8,1089.2 167.4,1087.9 167.9,1086.2 168.4,1084.3 168.9,1082.2 169.4,1080.0 169.9,1077.7 170.5,1075.4 171.0,1073.1 171.5,1070.9 172.0,1068.8 172.5,1066.9 173.0,1065.2 173.6,1063.9 174.1,1062.8 174.6,1062.1 175.1,1061.9 175.6,1062.2 176.1,1062.9 176.6,1064.0 177.1,1065.6 177.7,1067.4 178.2,1069.5 178.7,1071.8 179.2,1074.2 179.7,1076.7 180.2,1079.2 180.7,1081.7 181.2,1084.1 181.7,1086.4 182.2,1088.5 182.8,1090.3 183.3,1091.9 183.8,1093.0 184.3,1093.7 184.8,1094.0 185.3,1093.9 185.8,1093.6 186.3,1093.2 186.8,1092.7 187.3,1092.2 187.8,1091.5 188.3,1090.9 188.8,1090.2 189.3,1089.7 189.8,1089.2 190.3,1088.8 190.8,1088.5 191.3,1088.4 191.8,1088.6 192.3,1089.0 192.8,1089.7 193.3,1090.6 193.8,1091.7 194.3,1092.8 194.8,1094.1 195.3,1095.3 195.8,1096.6 196.3,1097.7 196.8,1098.8 197.3,1099.7 197.8,1100.4 198.3,1100.8 198.8,1101.0 199.3,1100.8 199.8,1100.3 200.3,1099.4 200.8,1098.2 201.3,1096.8 201.8,1095.1 202.3,1093.1 202.8,1091.0 203.3,1088.8 203.8,1086.3 204.3,1083.8 204.8,1081.2 205.3,1078.5 205.8,1075.8 206.3,1073.2 206.8,1070.5 207.3,1067.9 207.8,1065.4 208.3,1062.9 208.8,1060.7 209.3,1058.6 209.8,1056.6 210.3,1054.9 210.8,1053.5 211.3,1052.3 211.8,1051.4 212.3,1050.9 212.8,1050.7 213.3,1050.9 213.8,1051.6 214.3,1052.7 214.8,1054.2 215.3,1056.0 215.8,1058.0 216.3,1060.4 216.8,1062.9 217.3,1065.6 217.8,1068.4 218.3,1071.3 218.8,1074.2 219.3,1077.1 219.8,1080.0 220.3,1082.8 220.8,1085.5 221.3,1088.0 221.8,1090.4 222.3,1092.4 222.8,1094.2 223.3,1095.7 223.8,1096.8 224.3,1097.5 224.8,1097.7 225.3,1097.5 225.8,1097.0 226.4,1096.2 226.9,1095.3 227.4,1094.2 227.9,1093.0 228.4,1091.8 228.9,1090.6 229.4,1089.6 230.0,1088.7 230.5,1088.0 231.0,1087.6 231.5,1087.4 232.1,1087.2 232.6,1087.1 233.1,1086.9 233.6,1086.8 234.2,1086.7 234.7,1086.6 235.2,1086.5 235.7,1086.4 236.2,1086.4 236.8,1086.3 237.3,1086.2 237.8,1086.1 238.3,1085.9 238.9,1085.8 239.4,1085.6 239.9,1085.4 240.5,1085.2 241.0,1084.9 241.5,1084.7 242.1,1084.4 242.6,1084.1 243.1,1083.7 243.6,1083.3 244.2,1082.9 244.7,1082.5 245.2,1082.0 245.8,1081.5 246.3,1080.9 246.8,1080.1 247.3,1078.9 247.8,1077.4 248.3,1075.5 248.8,1073.5 249.3,1071.4 249.8,1069.3 250.3,1067.2 250.8,1065.2 251.3,1063.4 251.8,1061.8 252.3,1060.6 252.8,1059.9 253.3,1059.6 253.8,1059.8 254.3,1060.3 254.8,1061.1 255.3,1062.1 255.8,1063.2 256.4,1064.4 256.9,1065.5 257.4,1066.5 257.9,1067.3 258.4,1067.8 258.9,1068.0 259.4,1068.0 259.9,1067.9 260.4,1067.8 260.9,1067.7 261.4,1067.5 262.0,1067.4 262.5,1067.2 263.0,1067.1 263.5,1067.0 264.0,1066.9 264.5,1066.9 265.0,1067.0 265.5,1067.4 266.1,1068.1 266.6,1068.9 267.1,1069.8 267.6,1070.8 268.1,1071.9 268.7,1073.1 269.2,1074.2 269.7,1075.2 270.2,1076.1 270.7,1076.9 271.3,1077.6 271.8,1078.0 272.3,1078.1 272.8,1078.0 273.4,1077.8 273.9,1077.5 274.4,1077.1 274.9,1076.6 275.4,1076.1 276.0,1075.5 276.5,1074.9 277.0,1074.3 277.6,1073.7 278.1,1073.2 278.6,1072.7 279.1,1072.3 279.6,1072.0 280.2,1071.8 280.7,1071.7 281.2,1071.8 281.7,1072.0 282.2,1072.3 282.7,1072.8 283.2,1073.3 283.7,1074.0 284.2,1074.7 284.7,1075.4 285.2,1076.2 285.7,1077.0 286.2,1077.9 286.7,1078.7 287.2,1079.5 287.7,1080.3 288.2,1081.0 288.7,1081.7 289.2,1082.3 289.7,1082.8 290.2,1083.3 290.7,1083.8 291.2,1084.2 291.7,1084.7 292.2,1085.2 292.7,1085.7 293.2,1086.2 293.7,1086.7 294.2,1087.2 294.7,1087.7 295.2,1088.1 295.7,1088.5 296.2,1089.0 296.7,1089.3 297.2,1089.7 297.7,1090.0 298.2,1090.3 298.7,1090.6 299.2,1090.8 299.7,1091.0 300.2,1091.1 300.7,1091.2 301.2,1091.2 301.7,1090.9 302.2,1090.2 302.7,1089.1 303.2,1087.6 303.7,1085.9 304.3,1084.1 304.8,1082.3 305.3,1080.4 305.8,1078.7 306.3,1077.1 306.8,1075.8 307.3,1074.6 307.9,1073.4 308.4,1072.1 308.9,1070.8 309.4,1069.5 309.9,1068.2 310.5,1067.0 311.0,1065.8 311.5,1064.7 312.1,1063.7 312.6,1062.8 313.1,1062.0 313.6,1061.4 314.1,1060.9 314.7,1060.6 315.2,1060.5 315.7,1060.6 316.2,1060.8 316.7,1061.2 317.2,1061.8 317.8,1062.4 318.3,1063.1 318.8,1063.9 319.3,1064.8 319.8,1065.7 320.3,1066.5 320.8,1067.4 321.3,1068.3 321.8,1069.1 322.3,1069.8 322.9,1070.4 323.4,1071.0 323.9,1071.4 324.4,1071.6 324.9,1071.7 325.4,1071.6 325.9,1071.3 326.4,1070.8 326.9,1070.1 327.4,1069.3 327.9,1068.4 328.4,1067.4 328.9,1066.3 329.4,1065.1 329.9,1063.9 330.4,1062.7 330.9,1061.5 331.4,1060.3 331.9,1059.1 332.4,1057.8 332.9,1056.3 333.4,1054.5 333.9,1052.6 334.4,1050.7 334.9,1048.6 335.4,1046.6 335.9,1044.7 336.4,1042.9 336.9,1041.3 337.4,1040.0 337.9,1039.0 338.4,1038.3 338.9,1038.1 339.4,1038.2 339.9,1038.5 340.4,1038.9 340.9,1039.4 341.4,1039.9 342.0,1040.5 342.5,1041.0 343.0,1041.5 343.5,1041.9 344.0,1042.2 344.5,1042.3 345.0,1042.2 345.5,1042.0 346.0,1041.6 346.5,1041.0 347.0,1040.4 347.5,1039.6 348.0,1038.7 348.5,1037.8 349.0,1036.7 349.5,1035.6 350.0,1034.5 350.5,1033.3 351.0,1032.1 351.5,1030.8 352.0,1029.6 352.5,1028.4 353.0,1027.2 353.5,1026.1 354.0,1025.0 354.5,1023.9 355.0,1023.0 355.5,1022.1 356.0,1021.3 356.5,1020.7 357.0,1020.1 357.5,1019.7 358.0,1019.5 358.5,1019.4 359.0,1019.7 359.5,1020.4 360.0,1021.6 360.6,1023.1 361.1,1025.0 361.6,1027.1 362.1,1029.4 362.6,1031.9 363.1,1034.5 363.7,1037.0 364.2,1039.6 364.7,1042.1 365.2,1044.4 365.7,1046.5 366.2,1048.4 366.8,1049.9 367.3,1051.1 367.8,1051.8 368.3,1052.1 368.8,1052.1 369.3,1051.9 369.8,1051.7 370.3,1051.4 370.8,1051.0 371.4,1050.6 371.9,1050.1 372.4,1049.6 372.9,1049.0 373.4,1048.5 373.9,1047.9 374.4,1047.2 374.9,1046.1 375.4,1044.8 375.9,1043.2 376.4,1041.4 376.9,1039.5 377.4,1037.4 377.9,1035.2 378.4,1033.0 378.9,1030.7 379.5,1028.5 380.0,1026.3 380.5,1024.1 381.0,1022.1 381.5,1020.3 382.0,1018.6 382.5,1017.1 383.0,1015.9 383.5,1015.1 384.0,1014.5 384.5,1014.3 385.0,1014.7 385.5,1015.7 386.0,1017.3 386.5,1019.3 387.0,1021.6 387.6,1024.2 388.1,1026.9 388.6,1029.6 389.1,1032.1 389.6,1034.5 390.1,1036.5 390.6,1038.1 391.1,1039.4 391.6,1040.8 392.1,1042.2 392.6,1043.5 393.1,1044.8 393.7,1046.2 394.2,1047.5 394.7,1048.7 395.2,1050.0 395.7,1051.1 396.2,1052.3 396.7,1053.3 397.2,1054.3 397.7,1055.3 398.2,1056.1 398.7,1056.9 399.3,1057.5 399.8,1058.1 400.3,1058.5 400.8,1058.8 401.3,1059.0 401.8,1059.1 402.3,1058.9 402.9,1058.4 403.4,1057.6 403.9,1056.5 404.4,1055.2 404.9,1053.8 405.5,1052.2 406.0,1050.6 406.5,1048.9 407.1,1047.2 407.6,1045.6 408.1,1044.0 408.6,1042.6 409.1,1041.3 409.7,1040.3 410.2,1039.5 410.7,1038.9 411.2,1038.3 411.8,1037.9 412.3,1037.4 412.8,1037.0 413.4,1036.7 413.9,1036.3 414.4,1036.0 414.9,1035.6 415.4,1035.3 416.0,1034.9 416.5,1034.5 417.0,1034.1 417.6,1033.6 418.1,1033.1 418.6,1032.5 419.1,1031.8 419.6,1030.8 420.1,1029.7 420.6,1028.5 421.1,1027.2 421.6,1025.8 422.1,1024.5 422.6,1023.1 423.1,1021.9 423.6,1020.8 424.1,1019.9 424.6,1019.1 425.1,1018.7 425.6,1018.5 426.1,1019.0 426.6,1020.4 427.1,1022.6 427.6,1025.4 428.1,1028.6 428.7,1032.0 429.2,1035.6 429.7,1039.2 430.2,1042.5 430.7,1045.5 431.2,1047.9 431.7,1050.1 432.2,1052.5 432.8,1054.9 433.3,1057.3 433.8,1059.7 434.4,1062.1 434.9,1064.4 435.4,1066.5 435.9,1068.6 436.4,1070.5 437.0,1072.1 437.5,1073.6 438.0,1074.8 438.6,1075.7 439.1,1076.2 439.6,1076.4 440.1,1076.3 440.6,1076.0 441.1,1075.6 441.6,1074.9 442.1,1074.2 442.6,1073.2 443.1,1072.2 443.6,1071.0 444.2,1069.8 444.7,1068.4 445.2,1067.0 445.7,1065.5 446.2,1063.9 446.7,1062.3 447.2,1060.7 447.7,1059.1 448.2,1057.4 448.7,1055.8 449.2,1054.2 449.7,1052.6 450.2,1051.0 450.7,1049.5 451.2,1048.1 451.7,1046.7 452.3,1045.5 452.8,1044.3 453.3,1043.3 453.8,1042.3 454.3,1041.6 454.8,1040.9 455.3,1040.5 455.8,1040.2 456.3,1040.1 456.8,1040.4 457.3,1041.2 457.8,1042.5 458.3,1044.2 458.8,1046.1 459.3,1048.3 459.8,1050.7 460.3,1053.1 460.8,1055.5 461.3,1057.8 461.8,1060.0 462.3,1061.9 462.8,1063.5 463.3,1064.7 463.8,1065.6 464.3,1066.5 464.8,1067.2 465.3,1067.9 465.8,1068.6 466.3,1069.1 466.8,1069.7 467.3,1070.3 467.8,1070.9 468.3,1071.5 468.8,1072.1 469.3,1072.8 469.8,1073.6 470.3,1074.4 470.8,1075.5 471.4,1076.9 471.9,1078.5 472.4,1080.2 473.0,1082.0 473.5,1083.8 474.0,1085.5 474.6,1087.1 475.1,1088.4 475.6,1089.5 476.2,1090.2 476.7,1090.4 477.2,1090.2 477.7,1089.6 478.3,1088.8 478.8,1087.6 479.3,1086.2 479.8,1084.5 480.3,1082.8 480.9,1080.9 481.4,1078.9 481.9,1076.8 482.4,1074.8 482.9,1072.8 483.5,1070.9 484.0,1069.2 484.5,1067.5 485.0,1066.1 485.5,1064.9 486.1,1064.1 486.6,1063.5 487.1,1063.3 487.6,1063.4 488.1,1063.8 488.6,1064.3 489.2,1065.0 489.7,1065.8 490.2,1066.6 490.7,1067.5 491.2,1068.5 491.7,1069.3 492.2,1070.1 492.8,1070.8 493.3,1071.3 493.8,1071.7 494.3,1071.8 494.8,1071.5 495.3,1070.8 495.9,1069.7 496.4,1068.3 496.9,1066.6 497.4,1064.7 497.9,1062.7 498.5,1060.7 499.0,1058.7 499.5,1056.8 500.0,1055.1 500.5,1053.7 501.1,1052.6 501.6,1051.9 502.1,1051.6 502.6,1052.2 503.2,1053.8 503.7,1056.2 504.3,1059.3 504.8,1062.7 505.4,1066.3 505.9,1069.9 506.5,1073.2 507.0,1076.1 507.5,1078.8 508.1,1081.7 508.6,1084.8 509.1,1087.9 509.7,1091.0 510.2,1094.0 510.7,1096.8 511.3,1099.3 511.8,1101.4 512.3,1103.0 512.9,1104.0 513.4,1104.4 513.9,1104.3 514.4,1104.2 514.9,1103.9 515.4,1103.5 516.0,1103.0 516.5,1102.5 517.0,1101.9 517.5,1101.2 518.0,1100.5 518.5,1099.7 519.0,1098.9 519.5,1098.0 520.0,1097.2 520.5,1096.3 521.1,1095.4 521.6,1094.6 522.1,1093.7 522.6,1092.9 523.1,1092.1 523.6,1091.4 524.1,1090.7 524.6,1090.1 525.1,1089.6 525.7,1089.1 526.2,1088.7 526.7,1088.4 527.2,1088.3 527.7,1088.2 528.2,1088.3 528.7,1088.6 529.3,1089.0 529.8,1089.6 530.3,1090.3 530.8,1091.2 531.3,1092.1 531.8,1093.1 532.4,1094.1 532.9,1095.2 533.4,1096.3 533.9,1097.4 534.4,1098.5 535.0,1099.5 535.5,1100.5 536.0,1101.4 536.5,1102.3 537.0,1103.0 537.5,1103.6 538.1,1104.0 538.6,1104.3 539.1,1104.4 539.6,1104.3 540.1,1104.2 540.6,1103.9 541.1,1103.5 541.6,1103.1 542.1,1102.5 542.7,1101.9 543.2,1101.3 543.7,1100.6 544.2,1099.8 544.7,1099.0 545.2,1098.3 545.7,1097.5 546.2,1096.6 546.7,1095.9 547.2,1095.1 547.7,1094.3 548.2,1093.6 548.7,1093.0 549.3,1092.4 549.8,1091.8 550.3,1091.4 550.8,1091.0 551.3,1090.7 551.8,1090.6 552.3,1090.5 552.8,1090.6 553.3,1091.0 553.9,1091.5 554.4,1092.3 554.9,1093.1 555.4,1094.1 556.0,1095.2 556.5,1096.3 557.0,1097.5 557.5,1098.6 558.0,1099.7 558.6,1100.8 559.1,1101.8 559.6,1102.6 560.1,1103.4 560.7,1103.9 561.2,1104.3 561.7,1104.4 562.2,1104.2 562.7,1103.7 563.3,1102.9 563.8,1101.9 564.3,1100.6 564.8,1099.3 565.3,1097.8 565.9,1096.3 566.4,1094.8 566.9,1093.3 567.4,1092.0 567.9,1090.7 568.4,1089.7 569.0,1088.9 569.5,1088.4 570.0,1088.2 570.5,1088.3 571.0,1088.7 571.5,1089.4 572.0,1090.2 572.5,1091.2 573.0,1092.4 573.5,1093.7 574.0,1095.1 574.5,1096.5 575.0,1098.0 575.6,1099.5 576.1,1101.0 576.6,1102.4 577.1,1103.8 577.6,1105.1 578.1,1106.3 578.6,1107.3 579.1,1108.1 579.6,1108.8 580.1,1109.2 580.6,1109.3 581.1,1109.3 581.6,1109.3 582.1,1109.3 582.6,1109.3 583.1,1109.3 583.6,1109.3 584.1,1109.3 584.6,1109.3 585.1,1109.3 585.6,1109.3 586.1,1109.3 586.6,1109.3 587.1,1109.3 587.6,1109.3 588.1,1109.3 588.6,1109.3 589.1,1109.3 589.6,1109.3 590.1,1109.3 590.6,1109.3 591.1,1109.3 591.6,1109.3 592.1,1109.3 592.6,1109.3 593.1,1109.3 593.6,1109.3 594.1,1109.3 594.6,1109.3 595.1,1109.3 595.6,1109.3 596.1,1109.3 596.6,1109.3 597.1,1109.3 597.6,1109.3 598.1,1109.3 598.6,1109.3 599.1,1109.3 599.6,1109.3 600.1,1109.3 600.6,1109.3 601.1,1109.3 601.6,1109.3 602.1,1109.3 602.6,1109.3 603.1,1109.3 603.6,1109.3 604.1,1109.3 604.6,1109.3 605.1,1109.3 605.6,1109.3 606.1,1109.3 606.6,1109.3 607.1,1109.3 607.6,1109.3 608.1,1109.3 608.6,1109.3 609.1,1109.3 609.6,1109.3 610.1,1109.3 610.6,1109.3 611.1,1109.3 611.6,1109.3 612.1,1109.3 612.6,1109.3 613.1,1109.3 613.6,1109.3 614.1,1109.3 614.6,1109.3 615.1,1109.3 615.6,1109.3 616.1,1109.3 616.6,1109.3 617.1,1109.3 617.6,1109.3 618.1,1109.3 618.6,1109.3 619.1,1109.3 619.6,1109.3 620.1,1109.3 620.6,1109.3 621.1,1109.3 621.6,1109.3 622.1,1109.3 622.6,1109.1 623.1,1108.6 623.7,1107.7 624.2,1106.6 624.7,1105.3 625.2,1103.8 625.8,1102.2 626.3,1100.5 626.8,1098.8 627.3,1097.0 627.8,1095.3 628.4,1093.7 628.9,1092.2 629.4,1090.9 629.9,1089.8 630.5,1088.9 631.0,1088.4 631.5,1088.2 632.0,1088.4 632.5,1088.9 633.1,1089.7 633.6,1090.7 634.1,1092.0 634.6,1093.4 635.2,1094.9 635.7,1096.5 636.2,1098.2 636.7,1099.9 637.2,1101.5 637.8,1103.0 638.3,1104.4 638.8,1105.7 639.3,1106.7 639.9,1107.5 640.4,1108.0 640.9,1108.2 641.4,1108.2 641.9,1108.1 642.4,1108.0 642.9,1107.8 643.4,1107.6 643.9,1107.3 644.4,1107.0 644.9,1106.7 645.4,1106.4 645.9,1106.0 646.4,1105.5 647.0,1105.1 647.5,1104.6 648.0,1104.1 648.5,1103.6 649.0,1103.1 649.5,1102.5 650.0,1102.0 650.5,1101.4 651.0,1100.8 651.5,1100.2 652.0,1099.6 652.5,1099.1 653.0,1098.5 653.5,1097.9 654.0,1097.3 654.5,1096.7 655.0,1096.2 655.5,1095.6 656.0,1095.1 656.5,1094.6 657.0,1094.1 657.5,1093.6 658.1,1093.2 658.6,1092.7 659.1,1092.3 659.6,1092.0 660.1,1091.7 660.6,1091.4 661.1,1091.1 661.6,1090.9 662.1,1090.7 662.6,1090.6 663.1,1090.5 663.6,1090.5 664.1,1090.6 664.6,1090.9 665.1,1091.4 665.7,1092.0 666.2,1092.8 666.7,1093.7 667.2,1094.7 667.7,1095.8 668.2,1097.0 668.7,1098.1 669.2,1099.3 669.8,1100.6 670.3,1101.7 670.8,1102.9 671.3,1104.0 671.8,1105.0 672.3,1105.9 672.8,1106.7 673.4,1107.3 673.9,1107.8 674.4,1108.1 674.9,1108.2 675.4,1108.2 675.9,1108.1 676.4,1107.9 676.9,1107.6 677.5,1107.3 678.0,1107.0 678.5,1106.5 679.0,1106.1 679.5,1105.6 680.0,1105.0 680.5,1104.4 681.0,1103.8 681.5,1103.2 682.1,1102.5 682.6,1101.8 683.1,1101.1 683.6,1100.4 684.1,1099.7 684.6,1099.0 685.1,1098.3 685.6,1097.6 686.1,1096.9 686.6,1096.2 687.2,1095.5 687.7,1094.9 688.2,1094.3 688.7,1093.7 689.2,1093.1 689.7,1092.6 690.2,1092.2 690.7,1091.7 691.2,1091.4 691.8,1091.1 692.3,1090.8 692.8,1090.6 693.3,1090.5 693.8,1090.5 694.3,1090.6 694.8,1090.8 695.3,1091.2 695.8,1091.6 696.3,1092.2 696.8,1092.9 697.4,1093.7 697.9,1094.5 698.4,1095.4 698.9,1096.3 699.4,1097.3 699.9,1098.3 700.4,1099.3 700.9,1100.4 701.4,1101.4 701.9,1102.4 702.4,1103.3 702.9,1104.2 703.4,1105.0 704.0,1105.8 704.5,1106.5 705.0,1107.1 705.5,1107.5 706.0,1107.9 706.5,1108.1 707.0,1108.2 707.5,1107.9 708.0,1107.0 708.6,1105.6 709.1,1103.7 709.6,1101.5 710.1,1099.0 710.7,1096.2 711.2,1093.3 711.7,1090.3 712.2,1087.3 712.7,1084.3 713.3,1081.4 713.8,1078.7 714.3,1076.3 714.8,1074.2 715.4,1072.5 715.9,1071.2 716.4,1070.5 716.9,1070.1 717.4,1069.7 717.9,1069.3 718.5,1068.9 719.0,1068.6 719.5,1068.3 720.0,1067.9 720.5,1067.6 721.0,1067.4 721.5,1067.1 722.0,1066.8 722.6,1066.6 723.1,1066.4 723.6,1066.2 724.1,1066.1 724.6,1065.9 725.1,1065.8 725.6,1065.7 726.2,1065.6 726.7,1065.5 727.2,1065.5 727.7,1065.5 728.2,1065.6 728.7,1065.9 729.2,1066.4 729.7,1067.0 730.2,1067.8 730.7,1068.6 731.2,1069.4 731.8,1070.3 732.3,1071.1 732.8,1071.9 733.3,1072.7 733.8,1073.3 734.3,1073.8 734.8,1074.1 735.3,1074.2 735.8,1074.2 736.3,1074.1 736.9,1074.0 737.4,1073.8 737.9,1073.6 738.4,1073.3 739.0,1073.1 739.5,1072.8 740.0,1072.6 740.5,1072.3 741.1,1072.1 741.6,1071.8 742.1,1071.6" fill="none" stroke="#000000" stroke-width="3.5" stroke-linejoin="round" stroke-linecap="round"/>
<rect x="84.5" y="36.4" width="692.3" height="191.4" fill="none" stroke="#222" stroke-width="1.8"/>
<line x1="77.5" y1="216.5" x2="84.5" y2="216.5" stroke="#111" stroke-width="1.60" />
<line x1="81.0" y1="204.5" x2="84.5" y2="204.5" stroke="#111" stroke-width="1.60" />
<text x="69.4" y="220.0" font-size="12.0" font-weight="bold" fill="#111" text-anchor="middle" font-family='"Liberation Sans", sans-serif' >0</text>
<line x1="77.5" y1="192.5" x2="84.5" y2="192.5" stroke="#111" stroke-width="1.60" />
<line x1="81.0" y1="180.5" x2="84.5" y2="180.5" stroke="#111" stroke-width="1.60" />
<text x="69.4" y="196.0" font-size="12.0" font-weight="bold" fill="#111" text-anchor="middle" font-family='"Liberation Sans", sans-serif' >1</text>
<line x1="77.5" y1="168.5" x2="84.5" y2="168.5" stroke="#111" stroke-width="1.60" />
<line x1="81.0" y1="156.5" x2="84.5" y2="156.5" stroke="#111" stroke-width="1.60" />
<text x="69.4" y="172.0" font-size="12.0" font-weight="bold" fill="#111" text-anchor="middle" font-family='"Liberation Sans", sans-serif' >2</text>
<line x1="77.5" y1="144.5" x2="84.5" y2="144.5" stroke="#111" stroke-width="1.60" />
<line x1="81.0" y1="132.5" x2="84.5" y2="132.5" stroke="#111" stroke-width="1.60" />
<text x="69.4" y="148.0" font-size="12.0" font-weight="bold" fill="#111" text-anchor="middle" font-family='"Liberation Sans", sans-serif' >3</text>
<line x1="77.5" y1="120.5" x2="84.5" y2="120.5" stroke="#111" stroke-width="1.60" />
<line x1="81.0" y1="108.5" x2="84.5" y2="108.5" stroke="#111" stroke-width="1.60" />
<text x="69.4" y="124.0" font-size="12.0" font-weight="bold" fill="#111" text-anchor="middle" font-family='"Liberation Sans", sans-serif' >4</text>
<line x1="77.5" y1="96.5" x2="84.5" y2="96.5" stroke="#111" stroke-width="1.60" />
<line x1="81.0" y1="84.5" x2="84.5" y2="84.5" stroke="#111" stroke-width="1.60" />
<text x="69.4" y="100.0" font-size="12.0" font-weight="bold" fill="#111" text-anchor="middle" font-family='"Liberation Sans", sans-serif' >5</text>
<line x1="77.5" y1="72.5" x2="84.5" y2="72.5" stroke="#111" stroke-width="1.60" />
<line x1="81.0" y1="60.5" x2="84.5" y2="60.5" stroke="#111" stroke-width="1.60" />
<text x="69.4" y="76.0" font-size="12.0" font-weight="bold" fill="#111" text-anchor="middle" font-family='"Liberation Sans", sans-serif' >6</text>
<line x1="77.5" y1="48.5" x2="84.5" y2="48.5" stroke="#111" stroke-width="1.60" />
<text x="69.4" y="52.0" font-size="12.0" font-weight="bold" fill="#111" text-anchor="middle" font-family='"Liberation Sans", sans-serif' >7</text>
<rect x="84.5" y="36.6" width="73.1" height="29.1" fill="#fff" stroke="#111" stroke-width="1.4"/>
<line x1="87.4" y1="50.9" x2="136.0" y2="50.9" stroke="#707070" stroke-width="2.00" />
<text x="139.5" y="58.9" font-size="21.5" font-weight="normal" fill="#7a8290" text-anchor="start" font-family='"Liberation Sans", sans-serif' textLength="12.0" lengthAdjust="spacingAndGlyphs" stroke="#7a8290" stroke-width="0.7">R</text>
<rect x="84.8" y="233.4" width="690.3" height="158.9" fill="none" stroke="#222" stroke-width="1.8"/>
<line x1="75.8" y1="380.6" x2="84.8" y2="380.6" stroke="#111" stroke-width="1.60" />
<line x1="80.3" y1="368.3" x2="84.8" y2="368.3" stroke="#111" stroke-width="1.60" />
<text x="62.9" y="384.7" font-size="14.0" font-weight="bold" fill="#111" text-anchor="middle" font-family='"Liberation Sans", sans-serif' textLength="9.7" lengthAdjust="spacingAndGlyphs" stroke="#111" stroke-width="0.35">0</text>
<line x1="75.8" y1="356.0" x2="84.8" y2="356.0" stroke="#111" stroke-width="1.60" />
<line x1="80.3" y1="343.7" x2="84.8" y2="343.7" stroke="#111" stroke-width="1.60" />
<text x="62.9" y="360.1" font-size="14.0" font-weight="bold" fill="#111" text-anchor="middle" font-family='"Liberation Sans", sans-serif' textLength="9.7" lengthAdjust="spacingAndGlyphs" stroke="#111" stroke-width="0.35">1</text>
<line x1="75.8" y1="331.4" x2="84.8" y2="331.4" stroke="#111" stroke-width="1.60" />
<line x1="80.3" y1="319.1" x2="84.8" y2="319.1" stroke="#111" stroke-width="1.60" />
<text x="62.9" y="335.5" font-size="14.0" font-weight="bold" fill="#111" text-anchor="middle" font-family='"Liberation Sans", sans-serif' textLength="9.7" lengthAdjust="spacingAndGlyphs" stroke="#111" stroke-width="0.35">2</text>
<line x1="75.8" y1="306.8" x2="84.8" y2="306.8" stroke="#111" stroke-width="1.60" />
<line x1="80.3" y1="294.5" x2="84.8" y2="294.5" stroke="#111" stroke-width="1.60" />
<text x="62.9" y="310.9" font-size="14.0" font-weight="bold" fill="#111" text-anchor="middle" font-family='"Liberation Sans", sans-serif' textLength="9.7" lengthAdjust="spacingAndGlyphs" stroke="#111" stroke-width="0.35">3</text>
<line x1="75.8" y1="282.2" x2="84.8" y2="282.2" stroke="#111" stroke-width="1.60" />
<line x1="80.3" y1="269.9" x2="84.8" y2="269.9" stroke="#111" stroke-width="1.60" />
<text x="62.9" y="286.3" font-size="14.0" font-weight="bold" fill="#111" text-anchor="middle" font-family='"Liberation Sans", sans-serif' textLength="9.7" lengthAdjust="spacingAndGlyphs" stroke="#111" stroke-width="0.35">4</text>
<line x1="75.8" y1="257.6" x2="84.8" y2="257.6" stroke="#111" stroke-width="1.60" />
<line x1="80.3" y1="245.3" x2="84.8" y2="245.3" stroke="#111" stroke-width="1.60" />
<text x="62.9" y="261.7" font-size="14.0" font-weight="bold" fill="#111" text-anchor="middle" font-family='"Liberation Sans", sans-serif' textLength="9.7" lengthAdjust="spacingAndGlyphs" stroke="#111" stroke-width="0.35">5</text>
<line x1="75.8" y1="233.0" x2="84.8" y2="233.0" stroke="#111" stroke-width="1.60" />
<text x="62.9" y="237.1" font-size="14.0" font-weight="bold" fill="#111" text-anchor="middle" font-family='"Liberation Sans", sans-serif' textLength="9.7" lengthAdjust="spacingAndGlyphs" stroke="#111" stroke-width="0.35">6</text>
<rect x="84.8" y="233.4" width="82.2" height="21.3" fill="#fff" stroke="#111" stroke-width="1.4"/>
<line x1="86.0" y1="233.4" x2="86.0" y2="254.7" stroke="#000" stroke-width="2.60" />
<line x1="86.0" y1="244.5" x2="135.3" y2="244.5" stroke="#8000ff" stroke-width="3.00" />
<text x="139.0" y="249.6" font-size="14.5" font-weight="normal" fill="#333" text-anchor="start" font-family='"Liberation Sans", sans-serif' textLength="25.0" lengthAdjust="spacingAndGlyphs" >D6</text>
<rect x="84.7" y="392.3" width="690.8" height="156.8" fill="none" stroke="#222" stroke-width="1.8"/>
<line x1="75.7" y1="538.0" x2="84.7" y2="538.0" stroke="#111" stroke-width="1.60" />
<line x1="80.2" y1="525.9" x2="84.7" y2="525.9" stroke="#111" stroke-width="1.60" />
<text x="62.5" y="542.1" font-size="14.0" font-weight="bold" fill="#111" text-anchor="middle" font-family='"Liberation Sans", sans-serif' textLength="9.7" lengthAdjust="spacingAndGlyphs" stroke="#111" stroke-width="0.35">0</text>
<line x1="75.7" y1="513.7" x2="84.7" y2="513.7" stroke="#111" stroke-width="1.60" />
<line x1="80.2" y1="501.6" x2="84.7" y2="501.6" stroke="#111" stroke-width="1.60" />
<text x="62.5" y="517.8" font-size="14.0" font-weight="bold" fill="#111" text-anchor="middle" font-family='"Liberation Sans", sans-serif' textLength="9.7" lengthAdjust="spacingAndGlyphs" stroke="#111" stroke-width="0.35">1</text>
<line x1="75.7" y1="489.4" x2="84.7" y2="489.4" stroke="#111" stroke-width="1.60" />
<line x1="80.2" y1="477.3" x2="84.7" y2="477.3" stroke="#111" stroke-width="1.60" />
<text x="62.5" y="493.5" font-size="14.0" font-weight="bold" fill="#111" text-anchor="middle" font-family='"Liberation Sans", sans-serif' textLength="9.7" lengthAdjust="spacingAndGlyphs" stroke="#111" stroke-width="0.35">2</text>
<line x1="75.7" y1="465.2" x2="84.7" y2="465.2" stroke="#111" stroke-width="1.60" />
<line x1="80.2" y1="453.0" x2="84.7" y2="453.0" stroke="#111" stroke-width="1.60" />
<text x="62.5" y="469.2" font-size="14.0" font-weight="bold" fill="#111" text-anchor="middle" font-family='"Liberation Sans", sans-serif' textLength="9.7" lengthAdjust="spacingAndGlyphs" stroke="#111" stroke-width="0.35">3</text>
<line x1="75.7" y1="440.9" x2="84.7" y2="440.9" stroke="#111" stroke-width="1.60" />
<line x1="80.2" y1="428.7" x2="84.7" y2="428.7" stroke="#111" stroke-width="1.60" />
<text x="62.5" y="444.9" font-size="14.0" font-weight="bold" fill="#111" text-anchor="middle" font-family='"Liberation Sans", sans-serif' textLength="9.7" lengthAdjust="spacingAndGlyphs" stroke="#111" stroke-width="0.35">4</text>
<line x1="75.7" y1="416.6" x2="84.7" y2="416.6" stroke="#111" stroke-width="1.60" />
<line x1="80.2" y1="404.5" x2="84.7" y2="404.5" stroke="#111" stroke-width="1.60" />
<text x="62.5" y="420.7" font-size="14.0" font-weight="bold" fill="#111" text-anchor="middle" font-family='"Liberation Sans", sans-serif' textLength="9.7" lengthAdjust="spacingAndGlyphs" stroke="#111" stroke-width="0.35">5</text>
<line x1="75.7" y1="392.3" x2="84.7" y2="392.3" stroke="#111" stroke-width="1.60" />
<text x="62.5" y="396.4" font-size="14.0" font-weight="bold" fill="#111" text-anchor="middle" font-family='"Liberation Sans", sans-serif' textLength="9.7" lengthAdjust="spacingAndGlyphs" stroke="#111" stroke-width="0.35">6</text>
<rect x="84.7" y="392.3" width="84.2" height="19.9" fill="#fff" stroke="#111" stroke-width="1.4"/>
<line x1="85.9" y1="392.3" x2="85.9" y2="412.2" stroke="#000" stroke-width="2.60" />
<line x1="86.0" y1="403.5" x2="134.5" y2="403.5" stroke="#ff00ff" stroke-width="3.00" />
<text x="140.3" y="407.7" font-size="13.5" font-weight="normal" fill="#333" text-anchor="start" font-family='"Liberation Sans", sans-serif' textLength="25.4" lengthAdjust="spacingAndGlyphs" >D5</text>
<rect x="83.3" y="549.1" width="693.2" height="147.0" fill="none" stroke="#222" stroke-width="1.8"/>
<line x1="73.3" y1="684.8" x2="83.3" y2="684.8" stroke="#111" stroke-width="1.60" />
<line x1="78.3" y1="673.5" x2="83.3" y2="673.5" stroke="#111" stroke-width="1.60" />
<text x="58.8" y="688.9" font-size="14.0" font-weight="bold" fill="#111" text-anchor="middle" font-family='"Liberation Sans", sans-serif' textLength="10.0" lengthAdjust="spacingAndGlyphs" stroke="#111" stroke-width="0.35">0</text>
<line x1="73.3" y1="662.2" x2="83.3" y2="662.2" stroke="#111" stroke-width="1.60" />
<line x1="78.3" y1="650.9" x2="83.3" y2="650.9" stroke="#111" stroke-width="1.60" />
<text x="58.8" y="666.3" font-size="14.0" font-weight="bold" fill="#111" text-anchor="middle" font-family='"Liberation Sans", sans-serif' textLength="10.0" lengthAdjust="spacingAndGlyphs" stroke="#111" stroke-width="0.35">1</text>
<line x1="73.3" y1="639.6" x2="83.3" y2="639.6" stroke="#111" stroke-width="1.60" />
<line x1="78.3" y1="628.3" x2="83.3" y2="628.3" stroke="#111" stroke-width="1.60" />
<text x="58.8" y="643.7" font-size="14.0" font-weight="bold" fill="#111" text-anchor="middle" font-family='"Liberation Sans", sans-serif' textLength="10.0" lengthAdjust="spacingAndGlyphs" stroke="#111" stroke-width="0.35">2</text>
<line x1="73.3" y1="617.0" x2="83.3" y2="617.0" stroke="#111" stroke-width="1.60" />
<line x1="78.3" y1="605.7" x2="83.3" y2="605.7" stroke="#111" stroke-width="1.60" />
<text x="58.8" y="621.1" font-size="14.0" font-weight="bold" fill="#111" text-anchor="middle" font-family='"Liberation Sans", sans-serif' textLength="10.0" lengthAdjust="spacingAndGlyphs" stroke="#111" stroke-width="0.35">3</text>
<line x1="73.3" y1="594.4" x2="83.3" y2="594.4" stroke="#111" stroke-width="1.60" />
<line x1="78.3" y1="583.1" x2="83.3" y2="583.1" stroke="#111" stroke-width="1.60" />
<text x="58.8" y="598.5" font-size="14.0" font-weight="bold" fill="#111" text-anchor="middle" font-family='"Liberation Sans", sans-serif' textLength="10.0" lengthAdjust="spacingAndGlyphs" stroke="#111" stroke-width="0.35">4</text>
<line x1="73.3" y1="571.8" x2="83.3" y2="571.8" stroke="#111" stroke-width="1.60" />
<line x1="78.3" y1="560.5" x2="83.3" y2="560.5" stroke="#111" stroke-width="1.60" />
<text x="58.8" y="575.9" font-size="14.0" font-weight="bold" fill="#111" text-anchor="middle" font-family='"Liberation Sans", sans-serif' textLength="10.0" lengthAdjust="spacingAndGlyphs" stroke="#111" stroke-width="0.35">5</text>
<line x1="73.3" y1="549.2" x2="83.3" y2="549.2" stroke="#111" stroke-width="1.60" />
<text x="58.8" y="553.3" font-size="14.0" font-weight="bold" fill="#111" text-anchor="middle" font-family='"Liberation Sans", sans-serif' textLength="10.0" lengthAdjust="spacingAndGlyphs" stroke="#111" stroke-width="0.35">6</text>
<rect x="83.3" y="549.1" width="85.6" height="19.4" fill="#fff" stroke="#111" stroke-width="1.4"/>
<line x1="84.5" y1="559.6" x2="134.5" y2="559.6" stroke="#0000ff" stroke-width="3.00" />
<text x="139.1" y="563.9" font-size="13.5" font-weight="normal" fill="#333" text-anchor="start" font-family='"Liberation Sans", sans-serif' textLength="25.8" lengthAdjust="spacingAndGlyphs" >D4</text>
<rect x="84.1" y="696.1" width="691.9" height="142.8" fill="none" stroke="#222" stroke-width="1.8"/>
<line x1="75.1" y1="827.4" x2="84.1" y2="827.4" stroke="#111" stroke-width="1.60" />
<line x1="79.6" y1="816.4" x2="84.1" y2="816.4" stroke="#111" stroke-width="1.60" />
<text x="61.3" y="831.5" font-size="14.0" font-weight="bold" fill="#111" text-anchor="middle" font-family='"Liberation Sans", sans-serif' textLength="10.0" lengthAdjust="spacingAndGlyphs" stroke="#111" stroke-width="0.35">0</text>
<line x1="75.1" y1="805.5" x2="84.1" y2="805.5" stroke="#111" stroke-width="1.60" />
<line x1="79.6" y1="794.5" x2="84.1" y2="794.5" stroke="#111" stroke-width="1.60" />
<text x="61.3" y="809.6" font-size="14.0" font-weight="bold" fill="#111" text-anchor="middle" font-family='"Liberation Sans", sans-serif' textLength="10.0" lengthAdjust="spacingAndGlyphs" stroke="#111" stroke-width="0.35">1</text>
<line x1="75.1" y1="783.6" x2="84.1" y2="783.6" stroke="#111" stroke-width="1.60" />
<line x1="79.6" y1="772.6" x2="84.1" y2="772.6" stroke="#111" stroke-width="1.60" />
<text x="61.3" y="787.7" font-size="14.0" font-weight="bold" fill="#111" text-anchor="middle" font-family='"Liberation Sans", sans-serif' textLength="10.0" lengthAdjust="spacingAndGlyphs" stroke="#111" stroke-width="0.35">2</text>
<line x1="75.1" y1="761.7" x2="84.1" y2="761.7" stroke="#111" stroke-width="1.60" />
<line x1="79.6" y1="750.8" x2="84.1" y2="750.8" stroke="#111" stroke-width="1.60" />
<text x="61.3" y="765.8" font-size="14.0" font-weight="bold" fill="#111" text-anchor="middle" font-family='"Liberation Sans", sans-serif' textLength="10.0" lengthAdjust="spacingAndGlyphs" stroke="#111" stroke-width="0.35">3</text>
<line x1="75.1" y1="739.8" x2="84.1" y2="739.8" stroke="#111" stroke-width="1.60" />
<line x1="79.6" y1="728.8" x2="84.1" y2="728.8" stroke="#111" stroke-width="1.60" />
<text x="61.3" y="743.9" font-size="14.0" font-weight="bold" fill="#111" text-anchor="middle" font-family='"Liberation Sans", sans-serif' textLength="10.0" lengthAdjust="spacingAndGlyphs" stroke="#111" stroke-width="0.35">4</text>
<line x1="75.1" y1="717.9" x2="84.1" y2="717.9" stroke="#111" stroke-width="1.60" />
<line x1="79.6" y1="706.9" x2="84.1" y2="706.9" stroke="#111" stroke-width="1.60" />
<text x="61.3" y="722.0" font-size="14.0" font-weight="bold" fill="#111" text-anchor="middle" font-family='"Liberation Sans", sans-serif' textLength="10.0" lengthAdjust="spacingAndGlyphs" stroke="#111" stroke-width="0.35">5</text>
<line x1="75.1" y1="696.0" x2="84.1" y2="696.0" stroke="#111" stroke-width="1.60" />
<text x="61.3" y="700.1" font-size="14.0" font-weight="bold" fill="#111" text-anchor="middle" font-family='"Liberation Sans", sans-serif' textLength="10.0" lengthAdjust="spacingAndGlyphs" stroke="#111" stroke-width="0.35">6</text>
<rect x="84.1" y="696.1" width="83.1" height="17.1" fill="#fff" stroke="#111" stroke-width="1.4"/>
<line x1="85.5" y1="705.4" x2="133.5" y2="705.4" stroke="#00f000" stroke-width="3.00" />
<text x="139.4" y="709.6" font-size="12.5" font-weight="normal" fill="#333" text-anchor="start" font-family='"Liberation Sans", sans-serif' textLength="24.0" lengthAdjust="spacingAndGlyphs" >D3</text>
<rect x="84.5" y="838.9" width="691.4" height="145.7" fill="none" stroke="#222" stroke-width="1.8"/>
<line x1="75.5" y1="974.4" x2="84.5" y2="974.4" stroke="#111" stroke-width="1.60" />
<line x1="80.0" y1="963.1" x2="84.5" y2="963.1" stroke="#111" stroke-width="1.60" />
<text x="63.1" y="978.5" font-size="14.0" font-weight="bold" fill="#111" text-anchor="middle" font-family='"Liberation Sans", sans-serif' textLength="9.5" lengthAdjust="spacingAndGlyphs" stroke="#111" stroke-width="0.35">0</text>
<line x1="75.5" y1="951.8" x2="84.5" y2="951.8" stroke="#111" stroke-width="1.60" />
<line x1="80.0" y1="940.5" x2="84.5" y2="940.5" stroke="#111" stroke-width="1.60" />
<text x="63.1" y="955.9" font-size="14.0" font-weight="bold" fill="#111" text-anchor="middle" font-family='"Liberation Sans", sans-serif' textLength="9.5" lengthAdjust="spacingAndGlyphs" stroke="#111" stroke-width="0.35">1</text>
<line x1="75.5" y1="929.3" x2="84.5" y2="929.3" stroke="#111" stroke-width="1.60" />
<line x1="80.0" y1="918.0" x2="84.5" y2="918.0" stroke="#111" stroke-width="1.60" />
<text x="63.1" y="933.3" font-size="14.0" font-weight="bold" fill="#111" text-anchor="middle" font-family='"Liberation Sans", sans-serif' textLength="9.5" lengthAdjust="spacingAndGlyphs" stroke="#111" stroke-width="0.35">2</text>
<line x1="75.5" y1="906.7" x2="84.5" y2="906.7" stroke="#111" stroke-width="1.60" />
<line x1="80.0" y1="895.4" x2="84.5" y2="895.4" stroke="#111" stroke-width="1.60" />
<text x="63.1" y="910.7" font-size="14.0" font-weight="bold" fill="#111" text-anchor="middle" font-family='"Liberation Sans", sans-serif' textLength="9.5" lengthAdjust="spacingAndGlyphs" stroke="#111" stroke-width="0.35">3</text>
<line x1="75.5" y1="884.1" x2="84.5" y2="884.1" stroke="#111" stroke-width="1.60" />
<line x1="80.0" y1="872.8" x2="84.5" y2="872.8" stroke="#111" stroke-width="1.60" />
<text x="63.1" y="888.2" font-size="14.0" font-weight="bold" fill="#111" text-anchor="middle" font-family='"Liberation Sans", sans-serif' textLength="9.5" lengthAdjust="spacingAndGlyphs" stroke="#111" stroke-width="0.35">4</text>
<line x1="75.5" y1="861.5" x2="84.5" y2="861.5" stroke="#111" stroke-width="1.60" />
<line x1="80.0" y1="850.3" x2="84.5" y2="850.3" stroke="#111" stroke-width="1.60" />
<text x="63.1" y="865.6" font-size="14.0" font-weight="bold" fill="#111" text-anchor="middle" font-family='"Liberation Sans", sans-serif' textLength="9.5" lengthAdjust="spacingAndGlyphs" stroke="#111" stroke-width="0.35">5</text>
<line x1="75.5" y1="839.0" x2="84.5" y2="839.0" stroke="#111" stroke-width="1.60" />
<text x="63.1" y="843.0" font-size="14.0" font-weight="bold" fill="#111" text-anchor="middle" font-family='"Liberation Sans", sans-serif' textLength="9.5" lengthAdjust="spacingAndGlyphs" stroke="#111" stroke-width="0.35">6</text>
<rect x="84.5" y="838.4" width="82.2" height="18.1" fill="#fff" stroke="#111" stroke-width="1.4"/>
<line x1="86.0" y1="848.2" x2="133.5" y2="848.2" stroke="#ee0000" stroke-width="2.40" />
<text x="138.0" y="852.0" font-size="12.7" font-weight="normal" fill="#333" text-anchor="start" font-family='"Liberation Sans", sans-serif' textLength="24.9" lengthAdjust="spacingAndGlyphs" >D2</text>
<rect x="85.2" y="984.6" width="690.7" height="134.7" fill="none" stroke="#222" stroke-width="1.8"/>
<line x1="76.2" y1="1108.9" x2="85.2" y2="1108.9" stroke="#111" stroke-width="1.60" />
<line x1="80.7" y1="1098.5" x2="85.2" y2="1098.5" stroke="#111" stroke-width="1.60" />
<text x="63.7" y="1113.0" font-size="14.0" font-weight="bold" fill="#111" text-anchor="middle" font-family='"Liberation Sans", sans-serif' textLength="10.0" lengthAdjust="spacingAndGlyphs" stroke="#111" stroke-width="0.35">0</text>
<line x1="76.2" y1="1088.1" x2="85.2" y2="1088.1" stroke="#111" stroke-width="1.60" />
<line x1="80.7" y1="1077.7" x2="85.2" y2="1077.7" stroke="#111" stroke-width="1.60" />
<text x="63.7" y="1092.1" font-size="14.0" font-weight="bold" fill="#111" text-anchor="middle" font-family='"Liberation Sans", sans-serif' textLength="10.0" lengthAdjust="spacingAndGlyphs" stroke="#111" stroke-width="0.35">1</text>
<line x1="76.2" y1="1067.3" x2="85.2" y2="1067.3" stroke="#111" stroke-width="1.60" />
<line x1="80.7" y1="1056.8" x2="85.2" y2="1056.8" stroke="#111" stroke-width="1.60" />
<text x="63.7" y="1071.3" font-size="14.0" font-weight="bold" fill="#111" text-anchor="middle" font-family='"Liberation Sans", sans-serif' textLength="10.0" lengthAdjust="spacingAndGlyphs" stroke="#111" stroke-width="0.35">2</text>
<line x1="76.2" y1="1046.4" x2="85.2" y2="1046.4" stroke="#111" stroke-width="1.60" />
<line x1="80.7" y1="1036.0" x2="85.2" y2="1036.0" stroke="#111" stroke-width="1.60" />
<text x="63.7" y="1050.5" font-size="14.0" font-weight="bold" fill="#111" text-anchor="middle" font-family='"Liberation Sans", sans-serif' textLength="10.0" lengthAdjust="spacingAndGlyphs" stroke="#111" stroke-width="0.35">3</text>
<line x1="76.2" y1="1025.6" x2="85.2" y2="1025.6" stroke="#111" stroke-width="1.60" />
<line x1="80.7" y1="1015.2" x2="85.2" y2="1015.2" stroke="#111" stroke-width="1.60" />
<text x="63.7" y="1029.7" font-size="14.0" font-weight="bold" fill="#111" text-anchor="middle" font-family='"Liberation Sans", sans-serif' textLength="10.0" lengthAdjust="spacingAndGlyphs" stroke="#111" stroke-width="0.35">4</text>
<line x1="76.2" y1="1004.8" x2="85.2" y2="1004.8" stroke="#111" stroke-width="1.60" />
<line x1="80.7" y1="994.4" x2="85.2" y2="994.4" stroke="#111" stroke-width="1.60" />
<text x="63.7" y="1008.9" font-size="14.0" font-weight="bold" fill="#111" text-anchor="middle" font-family='"Liberation Sans", sans-serif' textLength="10.0" lengthAdjust="spacingAndGlyphs" stroke="#111" stroke-width="0.35">5</text>
<line x1="76.2" y1="984.0" x2="85.2" y2="984.0" stroke="#111" stroke-width="1.60" />
<text x="63.7" y="988.0" font-size="14.0" font-weight="bold" fill="#111" text-anchor="middle" font-family='"Liberation Sans", sans-serif' textLength="10.0" lengthAdjust="spacingAndGlyphs" stroke="#111" stroke-width="0.35">6</text>
<rect x="85.2" y="984.3" width="83.7" height="21.9" fill="#fff" stroke="#111" stroke-width="1.4"/>
<line x1="86.5" y1="995.3" x2="134.0" y2="995.3" stroke="#000000" stroke-width="3.00" />
<text x="139.4" y="999.7" font-size="13.5" font-weight="bold" fill="#222" text-anchor="start" font-family='"Liberation Sans", sans-serif' textLength="22.3" lengthAdjust="spacingAndGlyphs" >D1</text>
<line x1="84.5" y1="36.4" x2="84.5" y2="31.5" stroke="#111" stroke-width="1.60" />
<text x="84.0" y="22.3" font-size="12.0" font-weight="bold" fill="#111" text-anchor="middle" font-family='"Liberation Sans", sans-serif' >-20</text>
<line x1="249.5" y1="36.4" x2="249.5" y2="31.5" stroke="#111" stroke-width="1.60" />
<text x="249.0" y="22.3" font-size="12.0" font-weight="bold" fill="#111" text-anchor="middle" font-family='"Liberation Sans", sans-serif' >-15</text>
<line x1="414.8" y1="36.4" x2="414.8" y2="31.5" stroke="#111" stroke-width="1.60" />
<text x="414.3" y="22.3" font-size="12.0" font-weight="bold" fill="#111" text-anchor="middle" font-family='"Liberation Sans", sans-serif' >-10</text>
<line x1="580.0" y1="36.4" x2="580.0" y2="31.5" stroke="#111" stroke-width="1.60" />
<text x="579.5" y="22.3" font-size="12.0" font-weight="bold" fill="#111" text-anchor="middle" font-family='"Liberation Sans", sans-serif' >-5</text>
<line x1="745.2" y1="36.4" x2="745.2" y2="31.5" stroke="#111" stroke-width="1.60" />
<text x="744.7" y="22.3" font-size="12.0" font-weight="bold" fill="#111" text-anchor="middle" font-family='"Liberation Sans", sans-serif' >0</text>
<line x1="167.1" y1="36.4" x2="167.1" y2="33.5" stroke="#111" stroke-width="1.60" />
<line x1="332.2" y1="36.4" x2="332.2" y2="33.5" stroke="#111" stroke-width="1.60" />
<line x1="497.4" y1="36.4" x2="497.4" y2="33.5" stroke="#111" stroke-width="1.60" />
<line x1="662.5" y1="36.4" x2="662.5" y2="33.5" stroke="#111" stroke-width="1.60" />
<line x1="85.2" y1="1119.3" x2="85.2" y2="1126.0" stroke="#111" stroke-width="1.60" />
<text x="84.2" y="1143.2" font-size="14.0" font-weight="bold" fill="#111" text-anchor="middle" font-family='"Liberation Sans", sans-serif' textLength="26.0" lengthAdjust="spacingAndGlyphs" >-20</text>
<line x1="249.5" y1="1119.3" x2="249.5" y2="1126.0" stroke="#111" stroke-width="1.60" />
<text x="248.5" y="1143.2" font-size="14.0" font-weight="bold" fill="#111" text-anchor="middle" font-family='"Liberation Sans", sans-serif' textLength="26.0" lengthAdjust="spacingAndGlyphs" >-15</text>
<line x1="413.9" y1="1119.3" x2="413.9" y2="1126.0" stroke="#111" stroke-width="1.60" />
<text x="412.9" y="1143.2" font-size="14.0" font-weight="bold" fill="#111" text-anchor="middle" font-family='"Liberation Sans", sans-serif' textLength="26.0" lengthAdjust="spacingAndGlyphs" >-10</text>
<line x1="577.6" y1="1119.3" x2="577.6" y2="1126.0" stroke="#111" stroke-width="1.60" />
<text x="576.6" y="1143.2" font-size="14.0" font-weight="bold" fill="#111" text-anchor="middle" font-family='"Liberation Sans", sans-serif' textLength="16.0" lengthAdjust="spacingAndGlyphs" >-5</text>
<line x1="741.8" y1="1119.3" x2="741.8" y2="1126.0" stroke="#111" stroke-width="1.60" />
<text x="740.8" y="1143.2" font-size="14.0" font-weight="bold" fill="#111" text-anchor="middle" font-family='"Liberation Sans", sans-serif' textLength="9.5" lengthAdjust="spacingAndGlyphs" >0</text>
<line x1="167.3" y1="1119.3" x2="167.3" y2="1123.5" stroke="#111" stroke-width="1.60" />
<line x1="331.4" y1="1119.3" x2="331.4" y2="1123.5" stroke="#111" stroke-width="1.60" />
<line x1="495.6" y1="1119.3" x2="495.6" y2="1123.5" stroke="#111" stroke-width="1.60" />
<line x1="659.7" y1="1119.3" x2="659.7" y2="1123.5" stroke="#111" stroke-width="1.60" />
<line x1="167.1" y1="392.3" x2="167.1" y2="389.8" stroke="#111" stroke-width="1.60" />
<line x1="249.2" y1="392.3" x2="249.2" y2="387.8" stroke="#111" stroke-width="1.60" />
<line x1="331.4" y1="392.3" x2="331.4" y2="389.8" stroke="#111" stroke-width="1.60" />
<line x1="413.5" y1="392.3" x2="413.5" y2="387.8" stroke="#111" stroke-width="1.60" />
<line x1="495.6" y1="392.3" x2="495.6" y2="389.8" stroke="#111" stroke-width="1.60" />
<line x1="577.8" y1="392.3" x2="577.8" y2="387.8" stroke="#111" stroke-width="1.60" />
<line x1="659.9" y1="392.3" x2="659.9" y2="389.8" stroke="#111" stroke-width="1.60" />
<line x1="742.0" y1="392.3" x2="742.0" y2="387.8" stroke="#111" stroke-width="1.60" />
<line x1="167.1" y1="549.1" x2="167.1" y2="546.6" stroke="#111" stroke-width="1.60" />
<line x1="249.2" y1="549.1" x2="249.2" y2="544.6" stroke="#111" stroke-width="1.60" />
<line x1="331.4" y1="549.1" x2="331.4" y2="546.6" stroke="#111" stroke-width="1.60" />
<line x1="413.5" y1="549.1" x2="413.5" y2="544.6" stroke="#111" stroke-width="1.60" />
<line x1="495.6" y1="549.1" x2="495.6" y2="546.6" stroke="#111" stroke-width="1.60" />
<line x1="577.8" y1="549.1" x2="577.8" y2="544.6" stroke="#111" stroke-width="1.60" />
<line x1="659.9" y1="549.1" x2="659.9" y2="546.6" stroke="#111" stroke-width="1.60" />
<line x1="742.0" y1="549.1" x2="742.0" y2="544.6" stroke="#111" stroke-width="1.60" />
<line x1="167.1" y1="696.1" x2="167.1" y2="693.6" stroke="#111" stroke-width="1.60" />
<line x1="249.2" y1="696.1" x2="249.2" y2="691.6" stroke="#111" stroke-width="1.60" />
<line x1="331.4" y1="696.1" x2="331.4" y2="693.6" stroke="#111" stroke-width="1.60" />
<line x1="413.5" y1="696.1" x2="413.5" y2="691.6" stroke="#111" stroke-width="1.60" />
<line x1="495.6" y1="696.1" x2="495.6" y2="693.6" stroke="#111" stroke-width="1.60" />
<line x1="577.8" y1="696.1" x2="577.8" y2="691.6" stroke="#111" stroke-width="1.60" />
<line x1="659.9" y1="696.1" x2="659.9" y2="693.6" stroke="#111" stroke-width="1.60" />
<line x1="742.0" y1="696.1" x2="742.0" y2="691.6" stroke="#111" stroke-width="1.60" />
<line x1="167.1" y1="838.9" x2="167.1" y2="836.4" stroke="#111" stroke-width="1.60" />
<line x1="249.2" y1="838.9" x2="249.2" y2="834.4" stroke="#111" stroke-width="1.60" />
<line x1="331.4" y1="838.9" x2="331.4" y2="836.4" stroke="#111" stroke-width="1.60" />
<line x1="413.5" y1="838.9" x2="413.5" y2="834.4" stroke="#111" stroke-width="1.60" />
<line x1="495.6" y1="838.9" x2="495.6" y2="836.4" stroke="#111" stroke-width="1.60" />
<line x1="577.8" y1="838.9" x2="577.8" y2="834.4" stroke="#111" stroke-width="1.60" />
<line x1="659.9" y1="838.9" x2="659.9" y2="836.4" stroke="#111" stroke-width="1.60" />
<line x1="742.0" y1="838.9" x2="742.0" y2="834.4" stroke="#111" stroke-width="1.60" />
<line x1="167.1" y1="984.6" x2="167.1" y2="982.1" stroke="#111" stroke-width="1.60" />
<line x1="249.2" y1="984.6" x2="249.2" y2="980.1" stroke="#111" stroke-width="1.60" />
<line x1="331.4" y1="984.6" x2="331.4" y2="982.1" stroke="#111" stroke-width="1.60" />
<line x1="413.5" y1="984.6" x2="413.5" y2="980.1" stroke="#111" stroke-width="1.60" />
<line x1="495.6" y1="984.6" x2="495.6" y2="982.1" stroke="#111" stroke-width="1.60" />
<line x1="577.8" y1="984.6" x2="577.8" y2="980.1" stroke="#111" stroke-width="1.60" />
<line x1="659.9" y1="984.6" x2="659.9" y2="982.1" stroke="#111" stroke-width="1.60" />
<line x1="742.0" y1="984.6" x2="742.0" y2="980.1" stroke="#111" stroke-width="1.60" />
<line x1="167.1" y1="233.4" x2="167.1" y2="236.4" stroke="#111" stroke-width="1.60" />
<line x1="249.2" y1="233.4" x2="249.2" y2="239.9" stroke="#111" stroke-width="1.60" />
<line x1="331.4" y1="233.4" x2="331.4" y2="236.4" stroke="#111" stroke-width="1.60" />
<line x1="413.5" y1="233.4" x2="413.5" y2="239.9" stroke="#111" stroke-width="1.60" />
<line x1="495.6" y1="233.4" x2="495.6" y2="236.4" stroke="#111" stroke-width="1.60" />
<line x1="577.8" y1="233.4" x2="577.8" y2="239.9" stroke="#111" stroke-width="1.60" />
<line x1="659.9" y1="233.4" x2="659.9" y2="236.4" stroke="#111" stroke-width="1.60" />
<line x1="742.0" y1="233.4" x2="742.0" y2="239.9" stroke="#111" stroke-width="1.60" />
<text x="389.5" y="1159.8" font-size="14.0" font-weight="bold" fill="#222" text-anchor="middle" font-family='"Liberation Sans", sans-serif' textLength="110.0" lengthAdjust="spacingAndGlyphs" >Energy (eV)</text>
<text transform="translate(25.4,677.3) rotate(-90)" x="0" y="0" font-size="18" font-weight="bold" text-anchor="middle" font-family='"Liberation Serif", serif' textLength="97" lengthAdjust="spacingAndGlyphs" fill="#000">DOS (a.u)</text>
<text x="523.3" y="92.3" font-size="14.5" font-weight="bold" font-family='"Liberation Sans", sans-serif' textLength="93" lengthAdjust="spacingAndGlyphs"><tspan fill="#7c7c7c">HOMO</tspan><tspan fill="#969696">(-5.01)</tspan></text>
<text x="659.3" y="86.8" font-size="14.5" font-weight="bold" font-family='"Liberation Sans", sans-serif' textLength="92.7" lengthAdjust="spacingAndGlyphs"><tspan fill="#848a92">LUMO</tspan><tspan fill="#969696">(-2.88)</tspan></text>
<text x="582.0" y="171.7" font-size="15.0" font-weight="normal" fill="#808080" text-anchor="start" font-family='"Liberation Sans", sans-serif' textLength="7.0" lengthAdjust="spacingAndGlyphs" >E</text>
<text x="594.0" y="174.0" font-size="15.0" font-weight="normal" fill="#808080" text-anchor="start" font-family='"Liberation Sans", sans-serif' textLength="7.5" lengthAdjust="spacingAndGlyphs" >g</text>
<text x="603.2" y="171.7" font-size="15.0" font-weight="normal" fill="#808080" text-anchor="start" font-family='"Liberation Sans", sans-serif' textLength="36.6" lengthAdjust="spacingAndGlyphs" >=2.13</text>
<line x1="572.0" y1="190.6" x2="650.0" y2="190.6" stroke="#8a8a8a" stroke-width="1.80" />
<line x1="543.4" y1="106.0" x2="586.0" y2="186.6" stroke="#808080" stroke-width="1.10" />
<polygon points="586.0,186.6 579.5,179.9 584.1,177.4" fill="#808080"/>
<line x1="693.6" y1="98.1" x2="642.6" y2="186.0" stroke="#808080" stroke-width="1.10" />
<polygon points="642.6,186.0 644.9,176.9 649.4,179.5" fill="#808080"/>
<text x="508.9" y="275.9" font-size="13.7" font-weight="bold" fill="#8000ff" text-anchor="start" font-family='"Liberation Sans", sans-serif' textLength="119.2" lengthAdjust="spacingAndGlyphs" >HOMO(-5.03)</text>
<text x="648.5" y="273.0" font-size="13.7" font-weight="bold" fill="#8000ff" text-anchor="start" font-family='"Liberation Sans", sans-serif' textLength="115.1" lengthAdjust="spacingAndGlyphs" >LUMO(-3.50)</text>
<text x="565.8" y="329.8" font-size="13.0" font-weight="bold" fill="#8000ff" text-anchor="start" font-family='"Liberation Sans", sans-serif' textLength="10.2" lengthAdjust="spacingAndGlyphs" >E</text>
<text x="578.2" y="336.8" font-size="10.4" font-weight="bold" fill="#8000ff" text-anchor="start" font-family='"Liberation Sans", sans-serif' textLength="7.2" lengthAdjust="spacingAndGlyphs" >g</text>
<text x="586.7" y="329.8" font-size="13.0" font-weight="bold" fill="#8000ff" text-anchor="start" font-family='"Liberation Sans", sans-serif' textLength="51.2" lengthAdjust="spacingAndGlyphs" >=1.53</text>
<line x1="576.7" y1="351.0" x2="628.2" y2="351.0" stroke="#8000ff" stroke-width="1.40" />
<polygon points="581.0,351.0 589.0,348.2 589.0,353.8" fill="#8000ff"/>
<polygon points="623.6,351.0 615.6,353.8 615.6,348.2" fill="#8000ff"/>
<line x1="527.7" y1="280.8" x2="574.0" y2="348.0" stroke="#8000ff" stroke-width="1.10" />
<polygon points="574.0,348.0 566.8,342.1 571.0,339.1" fill="#8000ff"/>
<line x1="680.6" y1="277.0" x2="631.0" y2="346.0" stroke="#8000ff" stroke-width="1.10" />
<polygon points="631.0,346.0 634.1,337.2 638.4,340.2" fill="#8000ff"/>
<text x="498.3" y="434.9" font-size="13.0" font-weight="bold" fill="#ff00ff" text-anchor="start" font-family='"Liberation Sans", sans-serif' textLength="123.7" lengthAdjust="spacingAndGlyphs" >HOMO(-5.16)</text>
<text x="652.3" y="444.5" font-size="13.0" font-weight="bold" fill="#ff00ff" text-anchor="start" font-family='"Liberation Sans", sans-serif' textLength="115.1" lengthAdjust="spacingAndGlyphs" >LUMO(-3.73)</text>
<text x="561.0" y="492.5" font-size="13.0" font-weight="bold" fill="#ff00ff" text-anchor="start" font-family='"Liberation Sans", sans-serif' textLength="10.3" lengthAdjust="spacingAndGlyphs" >E</text>
<text x="573.5" y="497.5" font-size="10.4" font-weight="bold" fill="#ff00ff" text-anchor="start" font-family='"Liberation Sans", sans-serif' textLength="7.2" lengthAdjust="spacingAndGlyphs" >g</text>
<text x="582.0" y="492.5" font-size="13.0" font-weight="bold" fill="#ff00ff" text-anchor="start" font-family='"Liberation Sans", sans-serif' textLength="51.4" lengthAdjust="spacingAndGlyphs" >=1.43</text>
<line x1="573.0" y1="512.0" x2="621.0" y2="512.0" stroke="#ff00ff" stroke-width="1.40" />
<polygon points="576.5,512.0 584.5,509.2 584.5,514.8" fill="#ff00ff"/>
<polygon points="619.2,512.0 611.2,514.8 611.2,509.2" fill="#ff00ff"/>
<line x1="531.5" y1="436.0" x2="571.5" y2="510.0" stroke="#ff00ff" stroke-width="1.10" />
<polygon points="571.5,510.0 564.9,503.3 569.5,500.8" fill="#ff00ff"/>
<line x1="682.5" y1="445.4" x2="621.0" y2="510.2" stroke="#ff00ff" stroke-width="1.10" />
<polygon points="621.0,510.2 625.3,501.9 629.1,505.5" fill="#ff00ff"/>
<text x="479.9" y="583.4" font-size="13.0" font-weight="bold" fill="#0000ff" text-anchor="start" font-family='"Liberation Sans", sans-serif' textLength="127.1" lengthAdjust="spacingAndGlyphs" >HOMO(-5.16)</text>
<text x="645.5" y="584.6" font-size="13.0" font-weight="bold" fill="#0000ff" text-anchor="start" font-family='"Liberation Sans", sans-serif' textLength="123.7" lengthAdjust="spacingAndGlyphs" >LUMO(-3.41)</text>
<text x="565.2" y="639.1" font-size="13.0" font-weight="bold" fill="#0000ff" text-anchor="start" font-family='"Liberation Sans", sans-serif' textLength="10.8" lengthAdjust="spacingAndGlyphs" >E</text>
<text x="578.3" y="644.1" font-size="10.4" font-weight="bold" fill="#0000ff" text-anchor="start" font-family='"Liberation Sans", sans-serif' textLength="7.6" lengthAdjust="spacingAndGlyphs" >g</text>
<text x="587.3" y="639.1" font-size="13.0" font-weight="bold" fill="#0000ff" text-anchor="start" font-family='"Liberation Sans", sans-serif' textLength="54.1" lengthAdjust="spacingAndGlyphs" >=1.75</text>
<line x1="571.1" y1="660.4" x2="629.6" y2="660.4" stroke="#0000ff" stroke-width="1.40" />
<polygon points="580.0,660.4 588.0,657.6 588.0,663.2" fill="#0000ff"/>
<polygon points="626.0,660.4 618.0,663.2 618.0,657.6" fill="#0000ff"/>
<line x1="523.5" y1="587.5" x2="569.6" y2="658.0" stroke="#0000ff" stroke-width="1.10" />
<polygon points="569.6,658.0 562.5,651.9 566.9,649.0" fill="#0000ff"/>
<line x1="684.3" y1="588.3" x2="631.2" y2="658.0" stroke="#0000ff" stroke-width="1.10" />
<polygon points="631.2,658.0 634.6,649.3 638.7,652.4" fill="#0000ff"/>
<text x="439.6" y="732.3" font-size="11.6" font-weight="bold" fill="#00e000" text-anchor="start" font-family='"Liberation Sans", sans-serif' textLength="120.2" lengthAdjust="spacingAndGlyphs" >HOMO(-5.20)</text>
<text x="642.8" y="728.6" font-size="11.6" font-weight="bold" fill="#00e000" text-anchor="start" font-family='"Liberation Sans", sans-serif' textLength="118.1" lengthAdjust="spacingAndGlyphs" >LUMO(-3.25)</text>
<text x="563.6" y="792.6" font-size="12.0" font-weight="bold" fill="#00e000" text-anchor="start" font-family='"Liberation Sans", sans-serif' textLength="10.5" lengthAdjust="spacingAndGlyphs" >E</text>
<text x="576.3" y="797.6" font-size="9.6" font-weight="bold" fill="#00e000" text-anchor="start" font-family='"Liberation Sans", sans-serif' textLength="7.4" lengthAdjust="spacingAndGlyphs" >g</text>
<text x="584.9" y="792.6" font-size="12.0" font-weight="bold" fill="#00e000" text-anchor="start" font-family='"Liberation Sans", sans-serif' textLength="52.3" lengthAdjust="spacingAndGlyphs" >=1.96</text>
<line x1="567.6" y1="805.2" x2="633.7" y2="805.2" stroke="#00e000" stroke-width="1.40" />
<polygon points="580.3,805.2 588.3,802.4 588.3,808.0" fill="#00e000"/>
<polygon points="624.8,805.2 616.8,808.0 616.8,802.4" fill="#00e000"/>
<line x1="507.0" y1="737.2" x2="568.9" y2="800.7" stroke="#00e000" stroke-width="1.10" />
<polygon points="568.9,800.7 560.8,796.1 564.5,792.4" fill="#00e000"/>
<line x1="703.2" y1="734.5" x2="636.2" y2="798.1" stroke="#00e000" stroke-width="1.10" />
<polygon points="636.2,798.1 640.9,790.0 644.5,793.8" fill="#00e000"/>
<text x="468.9" y="889.3" font-size="13.0" font-weight="bold" fill="#ee0000" text-anchor="start" font-family='"Liberation Sans", sans-serif' textLength="121.1" lengthAdjust="spacingAndGlyphs" >HOMO(-5.14)</text>
<text x="650.4" y="891.5" font-size="13.0" font-weight="bold" fill="#ee0000" text-anchor="start" font-family='"Liberation Sans", sans-serif' textLength="115.1" lengthAdjust="spacingAndGlyphs" >LUMO(-3.40)</text>
<text x="569.2" y="933.6" font-size="13.0" font-weight="bold" fill="#ee0000" text-anchor="start" font-family='"Liberation Sans", sans-serif' textLength="10.2" lengthAdjust="spacingAndGlyphs" >E</text>
<text x="581.5" y="938.6" font-size="10.4" font-weight="bold" fill="#ee0000" text-anchor="start" font-family='"Liberation Sans", sans-serif' textLength="7.2" lengthAdjust="spacingAndGlyphs" >g</text>
<text x="590.0" y="933.6" font-size="13.0" font-weight="bold" fill="#ee0000" text-anchor="start" font-family='"Liberation Sans", sans-serif' textLength="51.0" lengthAdjust="spacingAndGlyphs" >=1.76</text>
<line x1="573.0" y1="949.4" x2="628.1" y2="949.4" stroke="#ee0000" stroke-width="1.40" />
<polygon points="578.3,949.4 586.3,946.6 586.3,952.2" fill="#ee0000"/>
<polygon points="622.8,949.4 614.8,952.2 614.8,946.6" fill="#ee0000"/>
<line x1="546.6" y1="892.4" x2="571.2" y2="946.7" stroke="#ee0000" stroke-width="1.10" />
<polygon points="571.2,946.7 565.1,939.6 569.9,937.4" fill="#ee0000"/>
<line x1="674.9" y1="895.4" x2="632.6" y2="946.7" stroke="#ee0000" stroke-width="1.10" />
<polygon points="632.6,946.7 636.3,938.1 640.3,941.4" fill="#ee0000"/>
<text x="445.0" y="1014.6" font-size="13.8" font-weight="bold" fill="#111111" text-anchor="start" font-family='"Liberation Sans", sans-serif' textLength="117.8" lengthAdjust="spacingAndGlyphs" >HOMO(-5.20)</text>
<text x="647.7" y="1011.5" font-size="13.8" font-weight="bold" fill="#111111" text-anchor="start" font-family='"Liberation Sans", sans-serif' textLength="114.8" lengthAdjust="spacingAndGlyphs" >LUMO(-3.33)</text>
<text x="565.8" y="1077.8" font-size="13.0" font-weight="bold" fill="#111111" text-anchor="start" font-family='"Liberation Sans", sans-serif' textLength="9.8" lengthAdjust="spacingAndGlyphs" >E</text>
<text x="577.7" y="1082.8" font-size="10.4" font-weight="bold" fill="#111111" text-anchor="start" font-family='"Liberation Sans", sans-serif' textLength="6.9" lengthAdjust="spacingAndGlyphs" >g</text>
<text x="585.9" y="1077.8" font-size="13.0" font-weight="bold" fill="#111111" text-anchor="start" font-family='"Liberation Sans", sans-serif' textLength="49.1" lengthAdjust="spacingAndGlyphs" >=1.87</text>
<line x1="577.2" y1="1090.1" x2="630.0" y2="1090.1" stroke="#111111" stroke-width="1.40" />
<polygon points="585.5,1090.1 593.5,1087.3 593.5,1092.9" fill="#111111"/>
<polygon points="621.0,1090.1 613.0,1092.9 613.0,1087.3" fill="#111111"/>
<line x1="514.5" y1="1017.6" x2="570.2" y2="1089.5" stroke="#111111" stroke-width="1.10" />
<polygon points="570.2,1089.5 562.6,1084.0 566.7,1080.8" fill="#111111"/>
<line x1="696.8" y1="1011.2" x2="632.0" y2="1085.0" stroke="#111111" stroke-width="1.10" />
<polygon points="632.0,1085.0 636.0,1076.5 639.9,1080.0" fill="#111111"/>
</svg>
</body></html>
